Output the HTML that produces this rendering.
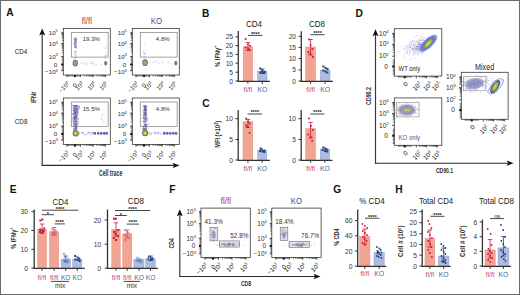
<!DOCTYPE html>
<html><head><meta charset="utf-8"><style>
html,body{margin:0;padding:0;background:#fff;}
body{width:520px;height:295px;overflow:hidden;}
svg{display:block;font-family:"Liberation Sans", sans-serif;}
</style></head><body>
<svg width="520" height="295" viewBox="0 0 520 295">
<rect width="520" height="295" fill="#fff"/>
<rect x="0.50" y="0.50" width="519.00" height="294.00" fill="none" stroke="#6a6a6a" stroke-width="1" />
<text x="6.2" y="15.8" font-size="10.2" text-anchor="start" fill="#111" font-weight="bold" >A</text>
<text x="202" y="16.8" font-size="10.2" text-anchor="start" fill="#111" font-weight="bold" >B</text>
<text x="202.3" y="106.9" font-size="10.2" text-anchor="start" fill="#111" font-weight="bold" >C</text>
<text x="355.6" y="17.3" font-size="10.2" text-anchor="start" fill="#111" font-weight="bold" >D</text>
<text x="9.8" y="192.9" font-size="10.2" text-anchor="start" fill="#111" font-weight="bold" >E</text>
<text x="169.3" y="193.2" font-size="10.2" text-anchor="start" fill="#111" font-weight="bold" >F</text>
<text x="333.3" y="192.6" font-size="10.2" text-anchor="start" fill="#111" font-weight="bold" >G</text>
<text x="395.3" y="192.6" font-size="10.2" text-anchor="start" fill="#111" font-weight="bold" >H</text>
<text x="86.9" y="23.6" font-size="9.2" text-anchor="middle" fill="#c42c44" font-weight="normal" textLength="10.2" lengthAdjust="spacingAndGlyphs">fl/fl</text>
<text x="156.5" y="23.6" font-size="9.0" text-anchor="middle" fill="#2b509a" font-weight="normal" textLength="11.3" lengthAdjust="spacingAndGlyphs">KO</text>
<text x="21.0" y="53.6" font-size="6.3" text-anchor="middle" fill="#222" font-weight="normal" >CD4</text>
<text x="21.1" y="123.6" font-size="6.3" text-anchor="middle" fill="#222" font-weight="normal" >CD8</text>
<text x="36.4" y="97.4" font-size="7" text-anchor="middle" fill="#333" transform="rotate(-90 36.4 97.4)" textLength="11.2" lengthAdjust="spacingAndGlyphs" stroke="#333" stroke-width="0.25">IFNr</text>
<line x1="42.20" y1="165.90" x2="42.20" y2="32.60" stroke="#3a3a3a" stroke-width="1.2"/>
<path d="M39.2,35.6 L42.2,28.6 L45.2,35.6 L42.2,34.0 Z" fill="#111"/>
<line x1="41.80" y1="165.40" x2="175.60" y2="165.40" stroke="#2a2a2a" stroke-width="1.15"/>
<path d="M172.6,162.70000000000002 L179.6,165.4 L172.6,168.1 L174.2,165.4 Z" fill="#111"/>
<text x="110.6" y="175.8" font-size="8.2" text-anchor="middle" fill="#2a2a2a" font-weight="bold" textLength="23.4" lengthAdjust="spacingAndGlyphs">Cell trace</text>
<rect x="63.30" y="28.50" width="47.00" height="46.50" fill="#fff" stroke="none" stroke-width="1" />
<circle cx="75.3" cy="43.6" r="0.55" fill="#8a88c8" fill-opacity="0.5"/>
<circle cx="75.3" cy="46.6" r="0.55" fill="#7c7abc" fill-opacity="0.5"/>
<circle cx="74.6" cy="43.1" r="0.55" fill="#7c7abc" fill-opacity="0.5"/>
<circle cx="74.3" cy="41.0" r="0.55" fill="#6a68b0" fill-opacity="0.5"/>
<circle cx="75.5" cy="46.9" r="0.55" fill="#6a68b0" fill-opacity="0.5"/>
<circle cx="75.6" cy="42.0" r="0.55" fill="#8a88c8" fill-opacity="0.5"/>
<circle cx="75.8" cy="44.2" r="0.55" fill="#7c7abc" fill-opacity="0.5"/>
<circle cx="75.7" cy="46.3" r="0.55" fill="#6a68b0" fill-opacity="0.5"/>
<circle cx="74.3" cy="39.9" r="0.55" fill="#7c7abc" fill-opacity="0.5"/>
<circle cx="75.7" cy="45.8" r="0.55" fill="#5a58a0" fill-opacity="0.5"/>
<circle cx="75.2" cy="46.4" r="0.55" fill="#7c7abc" fill-opacity="0.5"/>
<circle cx="75.8" cy="43.0" r="0.55" fill="#6a68b0" fill-opacity="0.5"/>
<circle cx="75.3" cy="40.8" r="0.55" fill="#6a68b0" fill-opacity="0.5"/>
<circle cx="75.9" cy="41.2" r="0.55" fill="#7c7abc" fill-opacity="0.5"/>
<circle cx="75.4" cy="38.3" r="0.55" fill="#6a68b0" fill-opacity="0.5"/>
<circle cx="75.1" cy="46.5" r="0.55" fill="#8a88c8" fill-opacity="0.5"/>
<circle cx="74.3" cy="38.2" r="0.55" fill="#6a68b0" fill-opacity="0.5"/>
<circle cx="74.7" cy="47.3" r="0.55" fill="#6a68b0" fill-opacity="0.5"/>
<circle cx="75.3" cy="47.8" r="0.55" fill="#8a88c8" fill-opacity="0.5"/>
<circle cx="75.2" cy="43.7" r="0.55" fill="#7c7abc" fill-opacity="0.5"/>
<circle cx="76.1" cy="40.7" r="0.55" fill="#6a68b0" fill-opacity="0.5"/>
<circle cx="74.9" cy="38.2" r="0.55" fill="#8a88c8" fill-opacity="0.5"/>
<circle cx="76.1" cy="39.2" r="0.55" fill="#7c7abc" fill-opacity="0.5"/>
<circle cx="75.9" cy="38.1" r="0.55" fill="#8a88c8" fill-opacity="0.5"/>
<circle cx="76.2" cy="39.8" r="0.55" fill="#7c7abc" fill-opacity="0.5"/>
<circle cx="75.3" cy="39.9" r="0.55" fill="#7c7abc" fill-opacity="0.5"/>
<circle cx="75.2" cy="41.8" r="0.55" fill="#8a88c8" fill-opacity="0.5"/>
<circle cx="75.2" cy="40.1" r="0.55" fill="#5a58a0" fill-opacity="0.5"/>
<circle cx="76.3" cy="47.7" r="0.55" fill="#5a58a0" fill-opacity="0.5"/>
<circle cx="76.7" cy="38.2" r="0.55" fill="#7c7abc" fill-opacity="0.5"/>
<circle cx="75.1" cy="46.5" r="0.55" fill="#6a68b0" fill-opacity="0.5"/>
<circle cx="74.2" cy="39.5" r="0.55" fill="#8a88c8" fill-opacity="0.5"/>
<circle cx="74.8" cy="45.7" r="0.55" fill="#5a58a0" fill-opacity="0.5"/>
<circle cx="76.3" cy="41.9" r="0.55" fill="#6a68b0" fill-opacity="0.5"/>
<circle cx="74.3" cy="43.8" r="0.55" fill="#7c7abc" fill-opacity="0.5"/>
<circle cx="74.1" cy="41.7" r="0.55" fill="#8a88c8" fill-opacity="0.5"/>
<circle cx="74.4" cy="43.9" r="0.55" fill="#7c7abc" fill-opacity="0.5"/>
<circle cx="76.4" cy="39.8" r="0.55" fill="#7c7abc" fill-opacity="0.5"/>
<circle cx="74.9" cy="40.3" r="0.55" fill="#7c7abc" fill-opacity="0.5"/>
<circle cx="76.0" cy="39.6" r="0.55" fill="#7c7abc" fill-opacity="0.5"/>
<circle cx="75.9" cy="41.9" r="0.55" fill="#8a88c8" fill-opacity="0.5"/>
<circle cx="75.7" cy="42.2" r="0.55" fill="#6a68b0" fill-opacity="0.5"/>
<circle cx="74.4" cy="43.1" r="0.55" fill="#5a58a0" fill-opacity="0.5"/>
<circle cx="74.7" cy="45.0" r="0.55" fill="#5a58a0" fill-opacity="0.5"/>
<circle cx="75.2" cy="47.0" r="0.55" fill="#8a88c8" fill-opacity="0.5"/>
<circle cx="74.9" cy="39.8" r="0.55" fill="#6a68b0" fill-opacity="0.5"/>
<circle cx="74.4" cy="42.8" r="0.55" fill="#6a68b0" fill-opacity="0.5"/>
<circle cx="74.8" cy="47.2" r="0.55" fill="#7c7abc" fill-opacity="0.5"/>
<circle cx="76.0" cy="38.7" r="0.55" fill="#8a88c8" fill-opacity="0.5"/>
<circle cx="75.3" cy="38.6" r="0.55" fill="#7c7abc" fill-opacity="0.5"/>
<circle cx="74.8" cy="43.3" r="0.55" fill="#7c7abc" fill-opacity="0.5"/>
<circle cx="74.3" cy="39.4" r="0.55" fill="#8a88c8" fill-opacity="0.5"/>
<circle cx="76.6" cy="44.6" r="0.55" fill="#7c7abc" fill-opacity="0.5"/>
<circle cx="75.6" cy="47.2" r="0.55" fill="#8a88c8" fill-opacity="0.5"/>
<circle cx="76.5" cy="45.0" r="0.55" fill="#6a68b0" fill-opacity="0.5"/>
<circle cx="74.2" cy="44.4" r="0.55" fill="#8a88c8" fill-opacity="0.5"/>
<circle cx="74.3" cy="41.1" r="0.55" fill="#7c7abc" fill-opacity="0.5"/>
<circle cx="76.7" cy="38.8" r="0.55" fill="#5a58a0" fill-opacity="0.5"/>
<circle cx="76.0" cy="47.0" r="0.55" fill="#7c7abc" fill-opacity="0.5"/>
<circle cx="76.2" cy="47.2" r="0.55" fill="#5a58a0" fill-opacity="0.5"/>
<circle cx="74.3" cy="42.7" r="0.55" fill="#6a68b0" fill-opacity="0.5"/>
<circle cx="76.4" cy="42.2" r="0.55" fill="#6a68b0" fill-opacity="0.5"/>
<circle cx="76.3" cy="43.7" r="0.55" fill="#8a88c8" fill-opacity="0.5"/>
<circle cx="75.1" cy="38.1" r="0.55" fill="#6a68b0" fill-opacity="0.5"/>
<circle cx="74.3" cy="44.4" r="0.55" fill="#5a58a0" fill-opacity="0.5"/>
<circle cx="76.4" cy="45.3" r="0.55" fill="#8a88c8" fill-opacity="0.5"/>
<circle cx="76.5" cy="44.9" r="0.55" fill="#8a88c8" fill-opacity="0.5"/>
<circle cx="75.2" cy="46.4" r="0.55" fill="#6a68b0" fill-opacity="0.5"/>
<circle cx="75.4" cy="43.1" r="0.55" fill="#5a58a0" fill-opacity="0.5"/>
<circle cx="75.7" cy="42.8" r="0.55" fill="#7c7abc" fill-opacity="0.5"/>
<circle cx="76.6" cy="39.1" r="0.55" fill="#8a88c8" fill-opacity="0.5"/>
<circle cx="74.8" cy="38.1" r="0.55" fill="#5a58a0" fill-opacity="0.5"/>
<circle cx="74.5" cy="44.1" r="0.55" fill="#7c7abc" fill-opacity="0.5"/>
<circle cx="76.1" cy="41.4" r="0.55" fill="#8a88c8" fill-opacity="0.5"/>
<circle cx="75.4" cy="40.4" r="0.55" fill="#8a88c8" fill-opacity="0.5"/>
<circle cx="75.8" cy="40.0" r="0.55" fill="#8a88c8" fill-opacity="0.5"/>
<circle cx="76.2" cy="45.5" r="0.55" fill="#7c7abc" fill-opacity="0.5"/>
<circle cx="76.4" cy="41.8" r="0.55" fill="#5a58a0" fill-opacity="0.5"/>
<circle cx="74.6" cy="39.3" r="0.55" fill="#5a58a0" fill-opacity="0.5"/>
<circle cx="76.3" cy="46.5" r="0.55" fill="#6a68b0" fill-opacity="0.5"/>
<circle cx="76.4" cy="51.2" r="0.55" fill="#7c7abc" fill-opacity="0.35"/>
<circle cx="74.5" cy="53.4" r="0.55" fill="#7c7abc" fill-opacity="0.35"/>
<circle cx="76.1" cy="52.4" r="0.55" fill="#8a88c8" fill-opacity="0.35"/>
<circle cx="75.8" cy="56.2" r="0.55" fill="#8a88c8" fill-opacity="0.35"/>
<circle cx="75.0" cy="57.5" r="0.55" fill="#5a58a0" fill-opacity="0.35"/>
<circle cx="76.2" cy="48.5" r="0.55" fill="#5a58a0" fill-opacity="0.35"/>
<circle cx="75.6" cy="51.6" r="0.55" fill="#6a68b0" fill-opacity="0.35"/>
<circle cx="75.7" cy="52.7" r="0.55" fill="#7c7abc" fill-opacity="0.35"/>
<circle cx="74.4" cy="57.5" r="0.55" fill="#7c7abc" fill-opacity="0.35"/>
<circle cx="76.0" cy="57.2" r="0.55" fill="#6a68b0" fill-opacity="0.35"/>
<circle cx="75.3" cy="55.2" r="0.55" fill="#5a58a0" fill-opacity="0.35"/>
<circle cx="76.4" cy="55.9" r="0.55" fill="#7c7abc" fill-opacity="0.35"/>
<circle cx="76.1" cy="50.9" r="0.55" fill="#6a68b0" fill-opacity="0.35"/>
<circle cx="76.0" cy="54.2" r="0.55" fill="#6a68b0" fill-opacity="0.35"/>
<circle cx="74.7" cy="51.1" r="0.55" fill="#5a58a0" fill-opacity="0.35"/>
<circle cx="75.5" cy="58.9" r="0.55" fill="#7c7abc" fill-opacity="0.35"/>
<circle cx="75.2" cy="57.1" r="0.55" fill="#7c7abc" fill-opacity="0.35"/>
<circle cx="74.5" cy="58.7" r="0.55" fill="#8a88c8" fill-opacity="0.35"/>
<circle cx="74.6" cy="53.2" r="0.55" fill="#6a68b0" fill-opacity="0.35"/>
<circle cx="75.1" cy="54.5" r="0.55" fill="#5a58a0" fill-opacity="0.35"/>
<circle cx="105.7" cy="54.7" r="0.55" fill="#6b70c0" fill-opacity="0.35"/>
<circle cx="105.0" cy="57.0" r="0.55" fill="#8a8fd0" fill-opacity="0.35"/>
<circle cx="105.2" cy="57.4" r="0.55" fill="#8a8fd0" fill-opacity="0.35"/>
<circle cx="106.8" cy="53.4" r="0.55" fill="#a0a4dc" fill-opacity="0.35"/>
<circle cx="105.3" cy="55.4" r="0.55" fill="#8a8fd0" fill-opacity="0.35"/>
<circle cx="105.5" cy="48.4" r="0.55" fill="#5a60b5" fill-opacity="0.35"/>
<circle cx="105.5" cy="52.1" r="0.55" fill="#a0a4dc" fill-opacity="0.35"/>
<circle cx="105.8" cy="47.8" r="0.55" fill="#8a8fd0" fill-opacity="0.35"/>
<circle cx="105.7" cy="47.9" r="0.55" fill="#7c7fc4" fill-opacity="0.35"/>
<circle cx="105.5" cy="56.2" r="0.55" fill="#6b70c0" fill-opacity="0.35"/>
<circle cx="105.7" cy="58.5" r="0.55" fill="#7c7fc4" fill-opacity="0.35"/>
<circle cx="106.5" cy="55.1" r="0.55" fill="#5a60b5" fill-opacity="0.35"/>
<circle cx="93.2" cy="63.9" r="0.55" fill="#6b70c0" fill-opacity="0.35"/>
<circle cx="89.8" cy="63.5" r="0.55" fill="#7c7fc4" fill-opacity="0.35"/>
<circle cx="94.6" cy="63.3" r="0.55" fill="#7c7fc4" fill-opacity="0.35"/>
<circle cx="85.5" cy="63.8" r="0.55" fill="#7c7fc4" fill-opacity="0.35"/>
<circle cx="84.3" cy="64.5" r="0.55" fill="#7c7fc4" fill-opacity="0.35"/>
<circle cx="91.9" cy="63.5" r="0.55" fill="#6b70c0" fill-opacity="0.35"/>
<circle cx="89.2" cy="61.9" r="0.55" fill="#8a8fd0" fill-opacity="0.35"/>
<circle cx="93.8" cy="61.6" r="0.55" fill="#8a8fd0" fill-opacity="0.35"/>
<circle cx="91.7" cy="62.9" r="0.55" fill="#7c7fc4" fill-opacity="0.35"/>
<circle cx="82.2" cy="61.8" r="0.55" fill="#6b70c0" fill-opacity="0.35"/>
<circle cx="80.9" cy="63.4" r="0.55" fill="#5a60b5" fill-opacity="0.35"/>
<circle cx="101.4" cy="64.3" r="0.55" fill="#5a60b5" fill-opacity="0.35"/>
<circle cx="85.8" cy="63.2" r="0.55" fill="#6b70c0" fill-opacity="0.35"/>
<circle cx="87.5" cy="64.7" r="0.55" fill="#5a60b5" fill-opacity="0.35"/>
<circle cx="91.9" cy="61.9" r="0.55" fill="#5a60b5" fill-opacity="0.35"/>
<circle cx="94.1" cy="64.7" r="0.55" fill="#6b70c0" fill-opacity="0.35"/>
<circle cx="96.2" cy="64.9" r="0.55" fill="#8a8fd0" fill-opacity="0.35"/>
<circle cx="84.0" cy="62.3" r="0.55" fill="#a0a4dc" fill-opacity="0.35"/>
<circle cx="87.0" cy="62.7" r="0.55" fill="#7c7fc4" fill-opacity="0.35"/>
<circle cx="91.3" cy="63.2" r="0.55" fill="#7c7fc4" fill-opacity="0.35"/>
<circle cx="82.2" cy="63.3" r="0.55" fill="#a0a4dc" fill-opacity="0.35"/>
<circle cx="96.5" cy="64.0" r="0.55" fill="#5a60b5" fill-opacity="0.35"/>
<ellipse cx="105.70" cy="63.20" rx="1.50" ry="2.30" fill="#5a5c88" fill-opacity="0.85" stroke="none" stroke-width="0.5" transform="rotate(0 105.70 63.20)"/>
<ellipse cx="75.30" cy="63.10" rx="2.70" ry="3.40" fill="#6e6e78" fill-opacity="1" stroke="none" stroke-width="0.5" transform="rotate(0 75.30 63.10)"/>
<ellipse cx="75.30" cy="63.10" rx="1.90" ry="2.50" fill="#9a9a8a" fill-opacity="1" stroke="none" stroke-width="0.5" transform="rotate(0 75.30 63.10)"/>
<rect x="71.30" y="32.50" width="36.80" height="24.60" fill="none" stroke="#7c7c86" stroke-width="0.7" />
<rect x="63.30" y="28.50" width="47.00" height="46.50" fill="none" stroke="#3a3a3a" stroke-width="0.8" />
<rect x="61.30" y="63.50" width="2.00" height="2.00" fill="#111" stroke="none" stroke-width="1" />
<rect x="74.00" y="75.00" width="2.00" height="2.00" fill="#111" stroke="none" stroke-width="1" />
<line x1="61.10" y1="32.80" x2="63.30" y2="32.80" stroke="#222" stroke-width="0.8"/>
<line x1="61.10" y1="43.60" x2="63.30" y2="43.60" stroke="#222" stroke-width="0.8"/>
<line x1="61.10" y1="56.70" x2="63.30" y2="56.70" stroke="#222" stroke-width="0.8"/>
<line x1="61.10" y1="64.50" x2="63.30" y2="64.50" stroke="#222" stroke-width="0.8"/>
<line x1="61.10" y1="70.60" x2="63.30" y2="70.60" stroke="#222" stroke-width="0.8"/>
<line x1="61.80" y1="52.76" x2="63.30" y2="52.76" stroke="#222" stroke-width="0.6"/>
<line x1="61.80" y1="50.45" x2="63.30" y2="50.45" stroke="#222" stroke-width="0.6"/>
<line x1="61.80" y1="48.81" x2="63.30" y2="48.81" stroke="#222" stroke-width="0.6"/>
<line x1="61.80" y1="47.54" x2="63.30" y2="47.54" stroke="#222" stroke-width="0.6"/>
<line x1="61.80" y1="46.51" x2="63.30" y2="46.51" stroke="#222" stroke-width="0.6"/>
<line x1="61.80" y1="45.63" x2="63.30" y2="45.63" stroke="#222" stroke-width="0.6"/>
<line x1="61.80" y1="44.87" x2="63.30" y2="44.87" stroke="#222" stroke-width="0.6"/>
<line x1="61.80" y1="44.20" x2="63.30" y2="44.20" stroke="#222" stroke-width="0.6"/>
<line x1="61.80" y1="40.35" x2="63.30" y2="40.35" stroke="#222" stroke-width="0.6"/>
<line x1="61.80" y1="38.45" x2="63.30" y2="38.45" stroke="#222" stroke-width="0.6"/>
<line x1="61.80" y1="37.10" x2="63.30" y2="37.10" stroke="#222" stroke-width="0.6"/>
<line x1="61.80" y1="36.05" x2="63.30" y2="36.05" stroke="#222" stroke-width="0.6"/>
<line x1="61.80" y1="35.20" x2="63.30" y2="35.20" stroke="#222" stroke-width="0.6"/>
<line x1="61.80" y1="34.47" x2="63.30" y2="34.47" stroke="#222" stroke-width="0.6"/>
<line x1="61.80" y1="33.85" x2="63.30" y2="33.85" stroke="#222" stroke-width="0.6"/>
<line x1="61.80" y1="33.29" x2="63.30" y2="33.29" stroke="#222" stroke-width="0.6"/>
<line x1="61.80" y1="56.70" x2="63.30" y2="56.70" stroke="#222" stroke-width="0.6"/>
<line x1="61.80" y1="58.00" x2="63.30" y2="58.00" stroke="#222" stroke-width="0.6"/>
<line x1="61.80" y1="59.30" x2="63.30" y2="59.30" stroke="#222" stroke-width="0.6"/>
<line x1="61.80" y1="60.60" x2="63.30" y2="60.60" stroke="#222" stroke-width="0.6"/>
<line x1="61.80" y1="61.90" x2="63.30" y2="61.90" stroke="#222" stroke-width="0.6"/>
<line x1="61.80" y1="63.20" x2="63.30" y2="63.20" stroke="#222" stroke-width="0.6"/>
<line x1="61.80" y1="64.50" x2="63.30" y2="64.50" stroke="#222" stroke-width="0.6"/>
<line x1="61.80" y1="65.80" x2="63.30" y2="65.80" stroke="#222" stroke-width="0.6"/>
<line x1="61.80" y1="67.10" x2="63.30" y2="67.10" stroke="#222" stroke-width="0.6"/>
<line x1="61.80" y1="68.40" x2="63.30" y2="68.40" stroke="#222" stroke-width="0.6"/>
<line x1="61.80" y1="69.70" x2="63.30" y2="69.70" stroke="#222" stroke-width="0.6"/>
<line x1="67.00" y1="75.00" x2="67.00" y2="77.20" stroke="#222" stroke-width="0.8"/>
<line x1="75.00" y1="75.00" x2="75.00" y2="77.20" stroke="#222" stroke-width="0.8"/>
<line x1="80.30" y1="75.00" x2="80.30" y2="77.20" stroke="#222" stroke-width="0.8"/>
<line x1="93.30" y1="75.00" x2="93.30" y2="77.20" stroke="#222" stroke-width="0.8"/>
<line x1="105.30" y1="75.00" x2="105.30" y2="77.20" stroke="#222" stroke-width="0.8"/>
<line x1="84.21" y1="75.00" x2="84.21" y2="76.50" stroke="#222" stroke-width="0.6"/>
<line x1="86.50" y1="75.00" x2="86.50" y2="76.50" stroke="#222" stroke-width="0.6"/>
<line x1="88.13" y1="75.00" x2="88.13" y2="76.50" stroke="#222" stroke-width="0.6"/>
<line x1="89.39" y1="75.00" x2="89.39" y2="76.50" stroke="#222" stroke-width="0.6"/>
<line x1="90.42" y1="75.00" x2="90.42" y2="76.50" stroke="#222" stroke-width="0.6"/>
<line x1="91.29" y1="75.00" x2="91.29" y2="76.50" stroke="#222" stroke-width="0.6"/>
<line x1="92.04" y1="75.00" x2="92.04" y2="76.50" stroke="#222" stroke-width="0.6"/>
<line x1="92.71" y1="75.00" x2="92.71" y2="76.50" stroke="#222" stroke-width="0.6"/>
<line x1="96.91" y1="75.00" x2="96.91" y2="76.50" stroke="#222" stroke-width="0.6"/>
<line x1="99.03" y1="75.00" x2="99.03" y2="76.50" stroke="#222" stroke-width="0.6"/>
<line x1="100.52" y1="75.00" x2="100.52" y2="76.50" stroke="#222" stroke-width="0.6"/>
<line x1="101.69" y1="75.00" x2="101.69" y2="76.50" stroke="#222" stroke-width="0.6"/>
<line x1="102.64" y1="75.00" x2="102.64" y2="76.50" stroke="#222" stroke-width="0.6"/>
<line x1="103.44" y1="75.00" x2="103.44" y2="76.50" stroke="#222" stroke-width="0.6"/>
<line x1="104.14" y1="75.00" x2="104.14" y2="76.50" stroke="#222" stroke-width="0.6"/>
<line x1="104.75" y1="75.00" x2="104.75" y2="76.50" stroke="#222" stroke-width="0.6"/>
<line x1="67.20" y1="75.00" x2="67.20" y2="76.50" stroke="#222" stroke-width="0.6"/>
<line x1="68.50" y1="75.00" x2="68.50" y2="76.50" stroke="#222" stroke-width="0.6"/>
<line x1="69.80" y1="75.00" x2="69.80" y2="76.50" stroke="#222" stroke-width="0.6"/>
<line x1="71.10" y1="75.00" x2="71.10" y2="76.50" stroke="#222" stroke-width="0.6"/>
<line x1="72.40" y1="75.00" x2="72.40" y2="76.50" stroke="#222" stroke-width="0.6"/>
<line x1="73.70" y1="75.00" x2="73.70" y2="76.50" stroke="#222" stroke-width="0.6"/>
<line x1="75.00" y1="75.00" x2="75.00" y2="76.50" stroke="#222" stroke-width="0.6"/>
<line x1="76.30" y1="75.00" x2="76.30" y2="76.50" stroke="#222" stroke-width="0.6"/>
<line x1="77.60" y1="75.00" x2="77.60" y2="76.50" stroke="#222" stroke-width="0.6"/>
<line x1="78.90" y1="75.00" x2="78.90" y2="76.50" stroke="#222" stroke-width="0.6"/>
<line x1="80.20" y1="75.00" x2="80.20" y2="76.50" stroke="#222" stroke-width="0.6"/>
<text x="91.3" y="41.1" font-size="6.1" text-anchor="middle" fill="#333" font-weight="normal" >19.3%</text>
<text x="57.90" y="34.50" font-size="6.2" text-anchor="end" fill="#2a2a2a">10<tspan font-size="4.09" dy="-2.36">5</tspan></text>
<text x="57.90" y="46.40" font-size="6.2" text-anchor="end" fill="#2a2a2a">10<tspan font-size="4.09" dy="-2.36">4</tspan></text>
<text x="57.90" y="58.70" font-size="6.2" text-anchor="end" fill="#2a2a2a">10<tspan font-size="4.09" dy="-2.36">3</tspan></text>
<text x="57.1" y="66.69999999999999" font-size="6.2" text-anchor="end" fill="#2a2a2a" font-weight="normal" >0</text>
<text x="57.90" y="74.20" font-size="6.2" text-anchor="end" fill="#2a2a2a">&#8722;10<tspan font-size="4.09" dy="-2.36">3</tspan></text>
<text x="70.10" y="84.20" font-size="6.2" text-anchor="end" fill="#2a2a2a" transform="rotate(-45 70.1 84.2)">&#8722;10<tspan font-size="4.09" dy="-2.36">3</tspan></text>
<text x="77.60" y="85.80" font-size="6.2" text-anchor="end" fill="#2a2a2a" transform="rotate(-45 77.60 85.80)">0</text>
<text x="84.30" y="84.20" font-size="6.2" text-anchor="end" fill="#2a2a2a" transform="rotate(-45 84.3 84.2)">10<tspan font-size="4.09" dy="-2.36">3</tspan></text>
<text x="96.40" y="84.20" font-size="6.2" text-anchor="end" fill="#2a2a2a" transform="rotate(-45 96.39999999999999 84.2)">10<tspan font-size="4.09" dy="-2.36">4</tspan></text>
<text x="108.40" y="84.20" font-size="6.2" text-anchor="end" fill="#2a2a2a" transform="rotate(-45 108.39999999999999 84.2)">10<tspan font-size="4.09" dy="-2.36">5</tspan></text>
<rect x="132.30" y="28.50" width="47.00" height="46.50" fill="#fff" stroke="none" stroke-width="1" />
<circle cx="143.4" cy="52.5" r="0.55" fill="#7c7abc" fill-opacity="0.35"/>
<circle cx="144.6" cy="56.9" r="0.55" fill="#7c7abc" fill-opacity="0.35"/>
<circle cx="144.6" cy="56.7" r="0.55" fill="#7c7abc" fill-opacity="0.35"/>
<circle cx="143.9" cy="54.6" r="0.55" fill="#5a58a0" fill-opacity="0.35"/>
<circle cx="145.6" cy="46.5" r="0.55" fill="#5a58a0" fill-opacity="0.35"/>
<circle cx="145.5" cy="44.2" r="0.55" fill="#7c7abc" fill-opacity="0.35"/>
<circle cx="145.5" cy="43.0" r="0.55" fill="#7c7abc" fill-opacity="0.35"/>
<circle cx="143.6" cy="42.2" r="0.55" fill="#8a88c8" fill-opacity="0.35"/>
<circle cx="143.5" cy="56.3" r="0.55" fill="#8a88c8" fill-opacity="0.35"/>
<circle cx="144.7" cy="53.9" r="0.55" fill="#7c7abc" fill-opacity="0.35"/>
<circle cx="144.3" cy="53.5" r="0.55" fill="#6a68b0" fill-opacity="0.35"/>
<circle cx="143.5" cy="51.3" r="0.55" fill="#5a58a0" fill-opacity="0.35"/>
<circle cx="145.6" cy="58.9" r="0.55" fill="#6a68b0" fill-opacity="0.35"/>
<circle cx="145.1" cy="52.6" r="0.55" fill="#5a58a0" fill-opacity="0.35"/>
<circle cx="144.6" cy="53.5" r="0.55" fill="#7c7abc" fill-opacity="0.35"/>
<circle cx="145.3" cy="49.7" r="0.55" fill="#6a68b0" fill-opacity="0.35"/>
<circle cx="149.2" cy="63.4" r="0.55" fill="#7c7fc4" fill-opacity="0.3"/>
<circle cx="170.0" cy="63.2" r="0.55" fill="#6b70c0" fill-opacity="0.3"/>
<circle cx="152.7" cy="62.2" r="0.55" fill="#6b70c0" fill-opacity="0.3"/>
<circle cx="172.1" cy="64.7" r="0.55" fill="#8a8fd0" fill-opacity="0.3"/>
<circle cx="162.2" cy="62.0" r="0.55" fill="#5a60b5" fill-opacity="0.3"/>
<circle cx="150.2" cy="61.8" r="0.55" fill="#5a60b5" fill-opacity="0.3"/>
<circle cx="159.5" cy="63.3" r="0.55" fill="#5a60b5" fill-opacity="0.3"/>
<circle cx="153.3" cy="62.8" r="0.55" fill="#8a8fd0" fill-opacity="0.3"/>
<circle cx="168.6" cy="62.1" r="0.55" fill="#5a60b5" fill-opacity="0.3"/>
<circle cx="156.9" cy="62.8" r="0.55" fill="#6b70c0" fill-opacity="0.3"/>
<circle cx="162.8" cy="61.8" r="0.55" fill="#8a8fd0" fill-opacity="0.3"/>
<circle cx="156.1" cy="61.8" r="0.55" fill="#5a60b5" fill-opacity="0.3"/>
<circle cx="162.0" cy="62.2" r="0.55" fill="#7c7fc4" fill-opacity="0.3"/>
<circle cx="171.9" cy="64.3" r="0.55" fill="#a0a4dc" fill-opacity="0.3"/>
<circle cx="155.0" cy="61.9" r="0.55" fill="#6b70c0" fill-opacity="0.3"/>
<circle cx="167.9" cy="62.9" r="0.55" fill="#a0a4dc" fill-opacity="0.3"/>
<ellipse cx="175.80" cy="63.20" rx="1.50" ry="2.40" fill="#5a5c88" fill-opacity="0.85" stroke="none" stroke-width="0.5" transform="rotate(0 175.80 63.20)"/>
<ellipse cx="145.10" cy="62.70" rx="2.80" ry="3.40" fill="#6e6e70" fill-opacity="1" stroke="none" stroke-width="0.5" transform="rotate(0 145.10 62.70)"/>
<ellipse cx="145.10" cy="62.70" rx="2.00" ry="2.50" fill="#a4a47a" fill-opacity="1" stroke="none" stroke-width="0.5" transform="rotate(0 145.10 62.70)"/>
<rect x="140.30" y="32.50" width="36.80" height="24.60" fill="none" stroke="#7c7c86" stroke-width="0.7" />
<rect x="132.30" y="28.50" width="47.00" height="46.50" fill="none" stroke="#3a3a3a" stroke-width="0.8" />
<rect x="130.30" y="63.50" width="2.00" height="2.00" fill="#111" stroke="none" stroke-width="1" />
<rect x="143.00" y="75.00" width="2.00" height="2.00" fill="#111" stroke="none" stroke-width="1" />
<line x1="130.10" y1="32.80" x2="132.30" y2="32.80" stroke="#222" stroke-width="0.8"/>
<line x1="130.10" y1="43.60" x2="132.30" y2="43.60" stroke="#222" stroke-width="0.8"/>
<line x1="130.10" y1="56.70" x2="132.30" y2="56.70" stroke="#222" stroke-width="0.8"/>
<line x1="130.10" y1="64.50" x2="132.30" y2="64.50" stroke="#222" stroke-width="0.8"/>
<line x1="130.10" y1="70.60" x2="132.30" y2="70.60" stroke="#222" stroke-width="0.8"/>
<line x1="130.80" y1="52.76" x2="132.30" y2="52.76" stroke="#222" stroke-width="0.6"/>
<line x1="130.80" y1="50.45" x2="132.30" y2="50.45" stroke="#222" stroke-width="0.6"/>
<line x1="130.80" y1="48.81" x2="132.30" y2="48.81" stroke="#222" stroke-width="0.6"/>
<line x1="130.80" y1="47.54" x2="132.30" y2="47.54" stroke="#222" stroke-width="0.6"/>
<line x1="130.80" y1="46.51" x2="132.30" y2="46.51" stroke="#222" stroke-width="0.6"/>
<line x1="130.80" y1="45.63" x2="132.30" y2="45.63" stroke="#222" stroke-width="0.6"/>
<line x1="130.80" y1="44.87" x2="132.30" y2="44.87" stroke="#222" stroke-width="0.6"/>
<line x1="130.80" y1="44.20" x2="132.30" y2="44.20" stroke="#222" stroke-width="0.6"/>
<line x1="130.80" y1="40.35" x2="132.30" y2="40.35" stroke="#222" stroke-width="0.6"/>
<line x1="130.80" y1="38.45" x2="132.30" y2="38.45" stroke="#222" stroke-width="0.6"/>
<line x1="130.80" y1="37.10" x2="132.30" y2="37.10" stroke="#222" stroke-width="0.6"/>
<line x1="130.80" y1="36.05" x2="132.30" y2="36.05" stroke="#222" stroke-width="0.6"/>
<line x1="130.80" y1="35.20" x2="132.30" y2="35.20" stroke="#222" stroke-width="0.6"/>
<line x1="130.80" y1="34.47" x2="132.30" y2="34.47" stroke="#222" stroke-width="0.6"/>
<line x1="130.80" y1="33.85" x2="132.30" y2="33.85" stroke="#222" stroke-width="0.6"/>
<line x1="130.80" y1="33.29" x2="132.30" y2="33.29" stroke="#222" stroke-width="0.6"/>
<line x1="130.80" y1="56.70" x2="132.30" y2="56.70" stroke="#222" stroke-width="0.6"/>
<line x1="130.80" y1="58.00" x2="132.30" y2="58.00" stroke="#222" stroke-width="0.6"/>
<line x1="130.80" y1="59.30" x2="132.30" y2="59.30" stroke="#222" stroke-width="0.6"/>
<line x1="130.80" y1="60.60" x2="132.30" y2="60.60" stroke="#222" stroke-width="0.6"/>
<line x1="130.80" y1="61.90" x2="132.30" y2="61.90" stroke="#222" stroke-width="0.6"/>
<line x1="130.80" y1="63.20" x2="132.30" y2="63.20" stroke="#222" stroke-width="0.6"/>
<line x1="130.80" y1="64.50" x2="132.30" y2="64.50" stroke="#222" stroke-width="0.6"/>
<line x1="130.80" y1="65.80" x2="132.30" y2="65.80" stroke="#222" stroke-width="0.6"/>
<line x1="130.80" y1="67.10" x2="132.30" y2="67.10" stroke="#222" stroke-width="0.6"/>
<line x1="130.80" y1="68.40" x2="132.30" y2="68.40" stroke="#222" stroke-width="0.6"/>
<line x1="130.80" y1="69.70" x2="132.30" y2="69.70" stroke="#222" stroke-width="0.6"/>
<line x1="136.00" y1="75.00" x2="136.00" y2="77.20" stroke="#222" stroke-width="0.8"/>
<line x1="144.00" y1="75.00" x2="144.00" y2="77.20" stroke="#222" stroke-width="0.8"/>
<line x1="149.30" y1="75.00" x2="149.30" y2="77.20" stroke="#222" stroke-width="0.8"/>
<line x1="162.30" y1="75.00" x2="162.30" y2="77.20" stroke="#222" stroke-width="0.8"/>
<line x1="174.30" y1="75.00" x2="174.30" y2="77.20" stroke="#222" stroke-width="0.8"/>
<line x1="153.21" y1="75.00" x2="153.21" y2="76.50" stroke="#222" stroke-width="0.6"/>
<line x1="155.50" y1="75.00" x2="155.50" y2="76.50" stroke="#222" stroke-width="0.6"/>
<line x1="157.13" y1="75.00" x2="157.13" y2="76.50" stroke="#222" stroke-width="0.6"/>
<line x1="158.39" y1="75.00" x2="158.39" y2="76.50" stroke="#222" stroke-width="0.6"/>
<line x1="159.42" y1="75.00" x2="159.42" y2="76.50" stroke="#222" stroke-width="0.6"/>
<line x1="160.29" y1="75.00" x2="160.29" y2="76.50" stroke="#222" stroke-width="0.6"/>
<line x1="161.04" y1="75.00" x2="161.04" y2="76.50" stroke="#222" stroke-width="0.6"/>
<line x1="161.71" y1="75.00" x2="161.71" y2="76.50" stroke="#222" stroke-width="0.6"/>
<line x1="165.91" y1="75.00" x2="165.91" y2="76.50" stroke="#222" stroke-width="0.6"/>
<line x1="168.03" y1="75.00" x2="168.03" y2="76.50" stroke="#222" stroke-width="0.6"/>
<line x1="169.52" y1="75.00" x2="169.52" y2="76.50" stroke="#222" stroke-width="0.6"/>
<line x1="170.69" y1="75.00" x2="170.69" y2="76.50" stroke="#222" stroke-width="0.6"/>
<line x1="171.64" y1="75.00" x2="171.64" y2="76.50" stroke="#222" stroke-width="0.6"/>
<line x1="172.44" y1="75.00" x2="172.44" y2="76.50" stroke="#222" stroke-width="0.6"/>
<line x1="173.14" y1="75.00" x2="173.14" y2="76.50" stroke="#222" stroke-width="0.6"/>
<line x1="173.75" y1="75.00" x2="173.75" y2="76.50" stroke="#222" stroke-width="0.6"/>
<line x1="136.20" y1="75.00" x2="136.20" y2="76.50" stroke="#222" stroke-width="0.6"/>
<line x1="137.50" y1="75.00" x2="137.50" y2="76.50" stroke="#222" stroke-width="0.6"/>
<line x1="138.80" y1="75.00" x2="138.80" y2="76.50" stroke="#222" stroke-width="0.6"/>
<line x1="140.10" y1="75.00" x2="140.10" y2="76.50" stroke="#222" stroke-width="0.6"/>
<line x1="141.40" y1="75.00" x2="141.40" y2="76.50" stroke="#222" stroke-width="0.6"/>
<line x1="142.70" y1="75.00" x2="142.70" y2="76.50" stroke="#222" stroke-width="0.6"/>
<line x1="144.00" y1="75.00" x2="144.00" y2="76.50" stroke="#222" stroke-width="0.6"/>
<line x1="145.30" y1="75.00" x2="145.30" y2="76.50" stroke="#222" stroke-width="0.6"/>
<line x1="146.60" y1="75.00" x2="146.60" y2="76.50" stroke="#222" stroke-width="0.6"/>
<line x1="147.90" y1="75.00" x2="147.90" y2="76.50" stroke="#222" stroke-width="0.6"/>
<line x1="149.20" y1="75.00" x2="149.20" y2="76.50" stroke="#222" stroke-width="0.6"/>
<text x="162.8" y="41.1" font-size="6.1" text-anchor="middle" fill="#333" font-weight="normal" >4.8%</text>
<text x="126.90" y="34.50" font-size="6.2" text-anchor="end" fill="#2a2a2a">10<tspan font-size="4.09" dy="-2.36">5</tspan></text>
<text x="126.90" y="46.40" font-size="6.2" text-anchor="end" fill="#2a2a2a">10<tspan font-size="4.09" dy="-2.36">4</tspan></text>
<text x="126.90" y="58.70" font-size="6.2" text-anchor="end" fill="#2a2a2a">10<tspan font-size="4.09" dy="-2.36">3</tspan></text>
<text x="126.10000000000001" y="66.69999999999999" font-size="6.2" text-anchor="end" fill="#2a2a2a" font-weight="normal" >0</text>
<text x="126.90" y="74.20" font-size="6.2" text-anchor="end" fill="#2a2a2a">&#8722;10<tspan font-size="4.09" dy="-2.36">3</tspan></text>
<text x="139.10" y="84.20" font-size="6.2" text-anchor="end" fill="#2a2a2a" transform="rotate(-45 139.1 84.2)">&#8722;10<tspan font-size="4.09" dy="-2.36">3</tspan></text>
<text x="146.60" y="85.80" font-size="6.2" text-anchor="end" fill="#2a2a2a" transform="rotate(-45 146.60 85.80)">0</text>
<text x="153.30" y="84.20" font-size="6.2" text-anchor="end" fill="#2a2a2a" transform="rotate(-45 153.3 84.2)">10<tspan font-size="4.09" dy="-2.36">3</tspan></text>
<text x="165.40" y="84.20" font-size="6.2" text-anchor="end" fill="#2a2a2a" transform="rotate(-45 165.4 84.2)">10<tspan font-size="4.09" dy="-2.36">4</tspan></text>
<text x="177.40" y="84.20" font-size="6.2" text-anchor="end" fill="#2a2a2a" transform="rotate(-45 177.4 84.2)">10<tspan font-size="4.09" dy="-2.36">5</tspan></text>
<rect x="63.30" y="98.00" width="47.00" height="46.50" fill="#fff" stroke="none" stroke-width="1" />
<circle cx="74.9" cy="126.2" r="0.7" fill="#7c7abc" fill-opacity="0.5"/>
<circle cx="73.4" cy="113.1" r="0.7" fill="#7c7abc" fill-opacity="0.5"/>
<circle cx="74.6" cy="106.3" r="0.7" fill="#6a68b0" fill-opacity="0.5"/>
<circle cx="76.4" cy="126.5" r="0.7" fill="#6a68b0" fill-opacity="0.5"/>
<circle cx="77.5" cy="109.2" r="0.7" fill="#5a58a0" fill-opacity="0.5"/>
<circle cx="74.8" cy="108.8" r="0.7" fill="#8a88c8" fill-opacity="0.5"/>
<circle cx="74.3" cy="117.3" r="0.7" fill="#8a88c8" fill-opacity="0.5"/>
<circle cx="75.3" cy="119.3" r="0.7" fill="#6a68b0" fill-opacity="0.5"/>
<circle cx="75.7" cy="122.7" r="0.7" fill="#6a68b0" fill-opacity="0.5"/>
<circle cx="75.5" cy="122.0" r="0.7" fill="#5a58a0" fill-opacity="0.5"/>
<circle cx="73.3" cy="114.0" r="0.7" fill="#8a88c8" fill-opacity="0.5"/>
<circle cx="75.4" cy="105.6" r="0.7" fill="#5a58a0" fill-opacity="0.5"/>
<circle cx="77.0" cy="109.6" r="0.7" fill="#8a88c8" fill-opacity="0.5"/>
<circle cx="74.8" cy="129.0" r="0.7" fill="#6a68b0" fill-opacity="0.5"/>
<circle cx="75.7" cy="119.2" r="0.7" fill="#6a68b0" fill-opacity="0.5"/>
<circle cx="75.0" cy="112.6" r="0.7" fill="#7c7abc" fill-opacity="0.5"/>
<circle cx="78.1" cy="112.6" r="0.7" fill="#6a68b0" fill-opacity="0.5"/>
<circle cx="75.0" cy="113.7" r="0.7" fill="#8a88c8" fill-opacity="0.5"/>
<circle cx="73.8" cy="113.4" r="0.7" fill="#5a58a0" fill-opacity="0.5"/>
<circle cx="75.2" cy="116.2" r="0.7" fill="#8a88c8" fill-opacity="0.5"/>
<circle cx="74.6" cy="119.6" r="0.7" fill="#5a58a0" fill-opacity="0.5"/>
<circle cx="75.0" cy="105.7" r="0.7" fill="#7c7abc" fill-opacity="0.5"/>
<circle cx="74.7" cy="117.7" r="0.7" fill="#8a88c8" fill-opacity="0.5"/>
<circle cx="74.4" cy="106.0" r="0.7" fill="#5a58a0" fill-opacity="0.5"/>
<circle cx="78.6" cy="122.3" r="0.7" fill="#5a58a0" fill-opacity="0.5"/>
<circle cx="76.9" cy="106.3" r="0.7" fill="#7c7abc" fill-opacity="0.5"/>
<circle cx="72.0" cy="113.7" r="0.7" fill="#7c7abc" fill-opacity="0.5"/>
<circle cx="76.1" cy="105.9" r="0.7" fill="#6a68b0" fill-opacity="0.5"/>
<circle cx="75.3" cy="128.0" r="0.7" fill="#7c7abc" fill-opacity="0.5"/>
<circle cx="74.2" cy="118.2" r="0.7" fill="#6a68b0" fill-opacity="0.5"/>
<circle cx="74.9" cy="106.0" r="0.7" fill="#6a68b0" fill-opacity="0.5"/>
<circle cx="75.8" cy="111.9" r="0.7" fill="#7c7abc" fill-opacity="0.5"/>
<circle cx="73.5" cy="107.1" r="0.7" fill="#8a88c8" fill-opacity="0.5"/>
<circle cx="76.1" cy="118.1" r="0.7" fill="#8a88c8" fill-opacity="0.5"/>
<circle cx="75.4" cy="112.1" r="0.7" fill="#7c7abc" fill-opacity="0.5"/>
<circle cx="73.8" cy="128.5" r="0.7" fill="#7c7abc" fill-opacity="0.5"/>
<circle cx="77.7" cy="109.3" r="0.7" fill="#5a58a0" fill-opacity="0.5"/>
<circle cx="77.4" cy="110.1" r="0.7" fill="#7c7abc" fill-opacity="0.5"/>
<circle cx="75.5" cy="119.0" r="0.7" fill="#7c7abc" fill-opacity="0.5"/>
<circle cx="74.7" cy="115.5" r="0.7" fill="#7c7abc" fill-opacity="0.5"/>
<circle cx="75.8" cy="126.2" r="0.7" fill="#5a58a0" fill-opacity="0.5"/>
<circle cx="75.6" cy="109.7" r="0.7" fill="#6a68b0" fill-opacity="0.5"/>
<circle cx="76.7" cy="118.8" r="0.7" fill="#6a68b0" fill-opacity="0.5"/>
<circle cx="76.3" cy="122.5" r="0.7" fill="#7c7abc" fill-opacity="0.5"/>
<circle cx="74.7" cy="116.8" r="0.7" fill="#8a88c8" fill-opacity="0.5"/>
<circle cx="74.5" cy="111.9" r="0.7" fill="#5a58a0" fill-opacity="0.5"/>
<circle cx="75.4" cy="111.6" r="0.7" fill="#6a68b0" fill-opacity="0.5"/>
<circle cx="73.5" cy="123.9" r="0.7" fill="#8a88c8" fill-opacity="0.5"/>
<circle cx="74.2" cy="124.1" r="0.7" fill="#7c7abc" fill-opacity="0.5"/>
<circle cx="74.0" cy="114.0" r="0.7" fill="#5a58a0" fill-opacity="0.5"/>
<circle cx="75.9" cy="112.7" r="0.7" fill="#5a58a0" fill-opacity="0.5"/>
<circle cx="76.1" cy="110.4" r="0.7" fill="#7c7abc" fill-opacity="0.5"/>
<circle cx="75.1" cy="113.6" r="0.7" fill="#5a58a0" fill-opacity="0.5"/>
<circle cx="76.0" cy="106.4" r="0.7" fill="#6a68b0" fill-opacity="0.5"/>
<circle cx="73.3" cy="113.7" r="0.7" fill="#8a88c8" fill-opacity="0.5"/>
<circle cx="74.5" cy="110.6" r="0.7" fill="#6a68b0" fill-opacity="0.5"/>
<circle cx="76.0" cy="106.4" r="0.7" fill="#6a68b0" fill-opacity="0.5"/>
<circle cx="77.1" cy="120.8" r="0.7" fill="#8a88c8" fill-opacity="0.5"/>
<circle cx="75.2" cy="121.6" r="0.7" fill="#7c7abc" fill-opacity="0.5"/>
<circle cx="74.4" cy="108.9" r="0.7" fill="#5a58a0" fill-opacity="0.5"/>
<circle cx="77.1" cy="112.1" r="0.7" fill="#5a58a0" fill-opacity="0.5"/>
<circle cx="76.9" cy="113.9" r="0.7" fill="#5a58a0" fill-opacity="0.5"/>
<circle cx="76.1" cy="114.4" r="0.7" fill="#7c7abc" fill-opacity="0.5"/>
<circle cx="79.3" cy="106.5" r="0.7" fill="#5a58a0" fill-opacity="0.5"/>
<circle cx="74.6" cy="105.7" r="0.7" fill="#7c7abc" fill-opacity="0.5"/>
<circle cx="74.2" cy="122.0" r="0.7" fill="#5a58a0" fill-opacity="0.5"/>
<circle cx="73.6" cy="123.7" r="0.7" fill="#7c7abc" fill-opacity="0.5"/>
<circle cx="74.8" cy="108.1" r="0.7" fill="#8a88c8" fill-opacity="0.5"/>
<circle cx="75.5" cy="126.3" r="0.7" fill="#6a68b0" fill-opacity="0.5"/>
<circle cx="75.8" cy="116.6" r="0.7" fill="#5a58a0" fill-opacity="0.5"/>
<circle cx="74.5" cy="128.9" r="0.7" fill="#6a68b0" fill-opacity="0.5"/>
<circle cx="73.7" cy="117.6" r="0.7" fill="#5a58a0" fill-opacity="0.5"/>
<circle cx="75.9" cy="123.5" r="0.7" fill="#6a68b0" fill-opacity="0.5"/>
<circle cx="75.7" cy="126.8" r="0.7" fill="#6a68b0" fill-opacity="0.5"/>
<circle cx="75.1" cy="105.7" r="0.7" fill="#8a88c8" fill-opacity="0.5"/>
<circle cx="75.0" cy="109.4" r="0.7" fill="#7c7abc" fill-opacity="0.5"/>
<circle cx="76.5" cy="115.2" r="0.7" fill="#8a88c8" fill-opacity="0.5"/>
<circle cx="74.8" cy="112.8" r="0.7" fill="#5a58a0" fill-opacity="0.5"/>
<circle cx="75.2" cy="124.0" r="0.7" fill="#8a88c8" fill-opacity="0.5"/>
<circle cx="76.1" cy="116.4" r="0.7" fill="#6a68b0" fill-opacity="0.5"/>
<circle cx="76.5" cy="121.1" r="0.7" fill="#5a58a0" fill-opacity="0.5"/>
<circle cx="75.0" cy="125.4" r="0.7" fill="#8a88c8" fill-opacity="0.5"/>
<circle cx="77.5" cy="124.8" r="0.7" fill="#6a68b0" fill-opacity="0.5"/>
<circle cx="73.5" cy="116.1" r="0.7" fill="#6a68b0" fill-opacity="0.5"/>
<circle cx="74.5" cy="123.9" r="0.7" fill="#7c7abc" fill-opacity="0.5"/>
<circle cx="76.2" cy="109.5" r="0.7" fill="#7c7abc" fill-opacity="0.5"/>
<circle cx="75.1" cy="129.7" r="0.7" fill="#7c7abc" fill-opacity="0.5"/>
<circle cx="76.1" cy="112.7" r="0.7" fill="#5a58a0" fill-opacity="0.5"/>
<circle cx="76.7" cy="110.1" r="0.7" fill="#6a68b0" fill-opacity="0.5"/>
<circle cx="74.5" cy="110.7" r="0.7" fill="#7c7abc" fill-opacity="0.5"/>
<circle cx="75.7" cy="123.1" r="0.7" fill="#8a88c8" fill-opacity="0.5"/>
<circle cx="76.0" cy="105.6" r="0.7" fill="#8a88c8" fill-opacity="0.5"/>
<circle cx="76.0" cy="127.2" r="0.7" fill="#7c7abc" fill-opacity="0.5"/>
<circle cx="75.6" cy="112.0" r="0.7" fill="#7c7abc" fill-opacity="0.5"/>
<circle cx="74.1" cy="118.1" r="0.7" fill="#8a88c8" fill-opacity="0.5"/>
<circle cx="75.8" cy="108.2" r="0.7" fill="#5a58a0" fill-opacity="0.5"/>
<circle cx="78.1" cy="113.0" r="0.7" fill="#8a88c8" fill-opacity="0.5"/>
<circle cx="74.2" cy="125.4" r="0.7" fill="#8a88c8" fill-opacity="0.5"/>
<circle cx="76.3" cy="126.5" r="0.7" fill="#6a68b0" fill-opacity="0.5"/>
<circle cx="74.9" cy="115.0" r="0.7" fill="#7c7abc" fill-opacity="0.5"/>
<circle cx="75.6" cy="112.9" r="0.7" fill="#8a88c8" fill-opacity="0.5"/>
<circle cx="76.0" cy="129.2" r="0.7" fill="#5a58a0" fill-opacity="0.5"/>
<circle cx="77.8" cy="123.5" r="0.7" fill="#6a68b0" fill-opacity="0.5"/>
<circle cx="76.3" cy="126.1" r="0.7" fill="#5a58a0" fill-opacity="0.5"/>
<circle cx="75.5" cy="114.2" r="0.7" fill="#7c7abc" fill-opacity="0.5"/>
<circle cx="76.9" cy="113.3" r="0.7" fill="#5a58a0" fill-opacity="0.5"/>
<circle cx="77.7" cy="107.5" r="0.7" fill="#7c7abc" fill-opacity="0.5"/>
<circle cx="74.3" cy="119.1" r="0.7" fill="#5a58a0" fill-opacity="0.5"/>
<circle cx="77.0" cy="115.9" r="0.7" fill="#7c7abc" fill-opacity="0.5"/>
<circle cx="76.1" cy="105.5" r="0.7" fill="#7c7abc" fill-opacity="0.5"/>
<circle cx="76.2" cy="124.5" r="0.7" fill="#6a68b0" fill-opacity="0.5"/>
<circle cx="75.9" cy="126.5" r="0.7" fill="#8a88c8" fill-opacity="0.5"/>
<circle cx="75.5" cy="106.5" r="0.7" fill="#5a58a0" fill-opacity="0.5"/>
<circle cx="73.6" cy="105.6" r="0.7" fill="#7c7abc" fill-opacity="0.5"/>
<circle cx="76.0" cy="113.4" r="0.7" fill="#8a88c8" fill-opacity="0.5"/>
<circle cx="75.2" cy="108.7" r="0.7" fill="#8a88c8" fill-opacity="0.5"/>
<circle cx="76.8" cy="116.1" r="0.7" fill="#5a58a0" fill-opacity="0.5"/>
<circle cx="77.7" cy="111.0" r="0.7" fill="#8a88c8" fill-opacity="0.5"/>
<circle cx="74.9" cy="106.4" r="0.7" fill="#6a68b0" fill-opacity="0.5"/>
<circle cx="76.9" cy="112.0" r="0.7" fill="#7c7abc" fill-opacity="0.5"/>
<circle cx="74.2" cy="106.8" r="0.7" fill="#6a68b0" fill-opacity="0.5"/>
<circle cx="76.3" cy="119.6" r="0.7" fill="#6a68b0" fill-opacity="0.5"/>
<circle cx="75.2" cy="125.7" r="0.7" fill="#5a58a0" fill-opacity="0.5"/>
<circle cx="74.2" cy="117.1" r="0.7" fill="#8a88c8" fill-opacity="0.5"/>
<circle cx="76.8" cy="123.0" r="0.7" fill="#7c7abc" fill-opacity="0.5"/>
<circle cx="74.0" cy="126.9" r="0.7" fill="#7c7abc" fill-opacity="0.5"/>
<circle cx="74.3" cy="110.4" r="0.7" fill="#5a58a0" fill-opacity="0.5"/>
<circle cx="76.3" cy="128.5" r="0.7" fill="#8a88c8" fill-opacity="0.5"/>
<circle cx="76.2" cy="116.9" r="0.7" fill="#8a88c8" fill-opacity="0.5"/>
<circle cx="75.9" cy="121.8" r="0.7" fill="#5a58a0" fill-opacity="0.5"/>
<circle cx="75.3" cy="110.8" r="0.7" fill="#5a58a0" fill-opacity="0.5"/>
<circle cx="76.9" cy="114.1" r="0.7" fill="#8a88c8" fill-opacity="0.5"/>
<circle cx="75.9" cy="106.6" r="0.7" fill="#7c7abc" fill-opacity="0.5"/>
<circle cx="76.0" cy="108.1" r="0.7" fill="#8a88c8" fill-opacity="0.5"/>
<circle cx="73.2" cy="105.8" r="0.7" fill="#6a68b0" fill-opacity="0.5"/>
<circle cx="76.0" cy="109.1" r="0.7" fill="#7c7abc" fill-opacity="0.5"/>
<circle cx="74.1" cy="129.6" r="0.7" fill="#5a58a0" fill-opacity="0.5"/>
<circle cx="76.2" cy="127.5" r="0.7" fill="#8a88c8" fill-opacity="0.5"/>
<circle cx="75.9" cy="127.7" r="0.7" fill="#7c7abc" fill-opacity="0.5"/>
<circle cx="76.0" cy="124.5" r="0.7" fill="#8a88c8" fill-opacity="0.5"/>
<circle cx="77.1" cy="115.0" r="0.7" fill="#8a88c8" fill-opacity="0.5"/>
<circle cx="74.7" cy="118.5" r="0.7" fill="#5a58a0" fill-opacity="0.5"/>
<circle cx="75.8" cy="129.4" r="0.7" fill="#6a68b0" fill-opacity="0.5"/>
<circle cx="73.5" cy="109.8" r="0.7" fill="#7c7abc" fill-opacity="0.5"/>
<circle cx="75.1" cy="111.6" r="0.7" fill="#8a88c8" fill-opacity="0.5"/>
<circle cx="75.0" cy="108.6" r="0.7" fill="#5a58a0" fill-opacity="0.5"/>
<circle cx="76.2" cy="123.5" r="0.7" fill="#7c7abc" fill-opacity="0.5"/>
<circle cx="73.8" cy="109.6" r="0.7" fill="#5a58a0" fill-opacity="0.5"/>
<circle cx="74.6" cy="116.7" r="0.7" fill="#7c7abc" fill-opacity="0.5"/>
<circle cx="76.6" cy="117.4" r="0.7" fill="#7c7abc" fill-opacity="0.5"/>
<circle cx="74.1" cy="129.6" r="0.7" fill="#7c7abc" fill-opacity="0.5"/>
<circle cx="75.3" cy="117.2" r="0.7" fill="#6a68b0" fill-opacity="0.5"/>
<circle cx="75.7" cy="118.9" r="0.7" fill="#7c7abc" fill-opacity="0.5"/>
<circle cx="76.0" cy="114.9" r="0.7" fill="#8a88c8" fill-opacity="0.5"/>
<circle cx="74.3" cy="120.8" r="0.7" fill="#5a58a0" fill-opacity="0.5"/>
<circle cx="78.3" cy="109.9" r="0.7" fill="#6a68b0" fill-opacity="0.5"/>
<circle cx="75.4" cy="114.2" r="0.7" fill="#6a68b0" fill-opacity="0.5"/>
<circle cx="74.6" cy="117.0" r="0.7" fill="#5a58a0" fill-opacity="0.5"/>
<circle cx="75.4" cy="107.9" r="0.7" fill="#5a58a0" fill-opacity="0.5"/>
<circle cx="73.0" cy="118.2" r="0.7" fill="#6a68b0" fill-opacity="0.5"/>
<circle cx="76.9" cy="127.9" r="0.7" fill="#5a58a0" fill-opacity="0.5"/>
<circle cx="75.6" cy="109.4" r="0.7" fill="#5a58a0" fill-opacity="0.5"/>
<circle cx="76.0" cy="124.8" r="0.7" fill="#6a68b0" fill-opacity="0.5"/>
<circle cx="77.0" cy="114.3" r="0.7" fill="#8a88c8" fill-opacity="0.5"/>
<circle cx="78.9" cy="108.1" r="0.7" fill="#7c7abc" fill-opacity="0.5"/>
<circle cx="75.2" cy="110.8" r="0.7" fill="#8a88c8" fill-opacity="0.5"/>
<circle cx="74.2" cy="118.5" r="0.7" fill="#7c7abc" fill-opacity="0.5"/>
<circle cx="73.6" cy="108.5" r="0.7" fill="#8a88c8" fill-opacity="0.5"/>
<circle cx="74.8" cy="105.8" r="0.7" fill="#8a88c8" fill-opacity="0.5"/>
<circle cx="75.4" cy="108.0" r="0.7" fill="#7c7abc" fill-opacity="0.5"/>
<circle cx="74.4" cy="109.8" r="0.7" fill="#6a68b0" fill-opacity="0.5"/>
<circle cx="75.1" cy="121.5" r="0.7" fill="#7c7abc" fill-opacity="0.5"/>
<circle cx="74.9" cy="113.0" r="0.7" fill="#5a58a0" fill-opacity="0.5"/>
<circle cx="75.5" cy="113.2" r="0.7" fill="#8a88c8" fill-opacity="0.5"/>
<circle cx="72.0" cy="122.4" r="0.7" fill="#8a88c8" fill-opacity="0.5"/>
<circle cx="75.8" cy="124.6" r="0.7" fill="#6a68b0" fill-opacity="0.5"/>
<circle cx="76.7" cy="117.2" r="0.7" fill="#8a88c8" fill-opacity="0.5"/>
<circle cx="74.6" cy="113.4" r="0.7" fill="#6a68b0" fill-opacity="0.5"/>
<circle cx="77.6" cy="111.1" r="0.7" fill="#8a88c8" fill-opacity="0.5"/>
<circle cx="76.1" cy="121.8" r="0.7" fill="#5a58a0" fill-opacity="0.5"/>
<circle cx="75.0" cy="122.4" r="0.7" fill="#6a68b0" fill-opacity="0.5"/>
<circle cx="77.3" cy="109.4" r="0.7" fill="#8a88c8" fill-opacity="0.5"/>
<circle cx="78.1" cy="109.4" r="0.7" fill="#8a88c8" fill-opacity="0.5"/>
<circle cx="73.3" cy="120.8" r="0.7" fill="#7c7abc" fill-opacity="0.5"/>
<circle cx="73.9" cy="116.6" r="0.7" fill="#6a68b0" fill-opacity="0.5"/>
<circle cx="73.7" cy="130.0" r="0.7" fill="#5a58a0" fill-opacity="0.5"/>
<circle cx="73.9" cy="125.8" r="0.7" fill="#7c7abc" fill-opacity="0.5"/>
<circle cx="76.5" cy="119.5" r="0.7" fill="#8a88c8" fill-opacity="0.5"/>
<circle cx="76.0" cy="117.2" r="0.7" fill="#7c7abc" fill-opacity="0.5"/>
<circle cx="75.1" cy="107.1" r="0.7" fill="#8a88c8" fill-opacity="0.5"/>
<circle cx="75.5" cy="105.5" r="0.7" fill="#5a58a0" fill-opacity="0.5"/>
<circle cx="76.7" cy="108.0" r="0.7" fill="#8a88c8" fill-opacity="0.5"/>
<circle cx="75.9" cy="126.7" r="0.7" fill="#5a58a0" fill-opacity="0.5"/>
<circle cx="74.5" cy="120.7" r="0.7" fill="#7c7abc" fill-opacity="0.5"/>
<circle cx="78.6" cy="105.9" r="0.7" fill="#5a58a0" fill-opacity="0.5"/>
<circle cx="76.1" cy="111.2" r="0.7" fill="#7c7abc" fill-opacity="0.5"/>
<circle cx="76.6" cy="127.9" r="0.7" fill="#7c7abc" fill-opacity="0.5"/>
<circle cx="75.3" cy="108.6" r="0.7" fill="#6a68b0" fill-opacity="0.5"/>
<circle cx="76.2" cy="108.4" r="0.7" fill="#8a88c8" fill-opacity="0.5"/>
<circle cx="74.3" cy="105.6" r="0.7" fill="#7c7abc" fill-opacity="0.5"/>
<circle cx="75.8" cy="116.3" r="0.7" fill="#6a68b0" fill-opacity="0.5"/>
<circle cx="78.3" cy="119.5" r="0.7" fill="#5a58a0" fill-opacity="0.5"/>
<circle cx="74.6" cy="121.7" r="0.7" fill="#8a88c8" fill-opacity="0.5"/>
<circle cx="77.7" cy="121.3" r="0.7" fill="#7c7abc" fill-opacity="0.5"/>
<circle cx="77.8" cy="111.4" r="0.7" fill="#8a88c8" fill-opacity="0.5"/>
<circle cx="74.8" cy="106.4" r="0.7" fill="#7c7abc" fill-opacity="0.5"/>
<circle cx="76.6" cy="125.7" r="0.7" fill="#5a58a0" fill-opacity="0.5"/>
<circle cx="77.0" cy="108.2" r="0.7" fill="#7c7abc" fill-opacity="0.5"/>
<circle cx="75.2" cy="115.5" r="0.7" fill="#6a68b0" fill-opacity="0.5"/>
<circle cx="76.4" cy="117.8" r="0.7" fill="#7c7abc" fill-opacity="0.5"/>
<circle cx="76.0" cy="129.3" r="0.7" fill="#7c7abc" fill-opacity="0.5"/>
<circle cx="75.0" cy="110.1" r="0.7" fill="#6a68b0" fill-opacity="0.5"/>
<circle cx="78.0" cy="114.5" r="0.7" fill="#6a68b0" fill-opacity="0.5"/>
<circle cx="76.8" cy="116.3" r="0.7" fill="#6a68b0" fill-opacity="0.5"/>
<circle cx="73.9" cy="105.5" r="0.7" fill="#8a88c8" fill-opacity="0.5"/>
<circle cx="74.8" cy="123.9" r="0.7" fill="#6a68b0" fill-opacity="0.5"/>
<circle cx="76.4" cy="107.8" r="0.7" fill="#7c7abc" fill-opacity="0.5"/>
<circle cx="75.4" cy="110.2" r="0.7" fill="#6a68b0" fill-opacity="0.5"/>
<circle cx="78.9" cy="108.3" r="0.7" fill="#6a68b0" fill-opacity="0.5"/>
<circle cx="73.4" cy="118.7" r="0.7" fill="#8a88c8" fill-opacity="0.5"/>
<circle cx="75.9" cy="105.5" r="0.7" fill="#6a68b0" fill-opacity="0.5"/>
<circle cx="75.2" cy="116.9" r="0.7" fill="#5a58a0" fill-opacity="0.5"/>
<circle cx="75.2" cy="111.1" r="0.7" fill="#5a58a0" fill-opacity="0.5"/>
<circle cx="75.5" cy="115.6" r="0.7" fill="#7c7abc" fill-opacity="0.5"/>
<circle cx="75.6" cy="117.9" r="0.7" fill="#8a88c8" fill-opacity="0.5"/>
<circle cx="74.8" cy="109.2" r="0.7" fill="#8a88c8" fill-opacity="0.5"/>
<circle cx="75.4" cy="116.7" r="0.7" fill="#7c7abc" fill-opacity="0.5"/>
<circle cx="77.7" cy="109.7" r="0.7" fill="#7c7abc" fill-opacity="0.5"/>
<circle cx="74.9" cy="125.4" r="0.7" fill="#7c7abc" fill-opacity="0.5"/>
<circle cx="74.9" cy="118.0" r="0.7" fill="#6a68b0" fill-opacity="0.5"/>
<circle cx="76.0" cy="117.4" r="0.7" fill="#7c7abc" fill-opacity="0.5"/>
<circle cx="75.0" cy="118.3" r="0.7" fill="#8a88c8" fill-opacity="0.5"/>
<circle cx="73.8" cy="124.0" r="0.7" fill="#6a68b0" fill-opacity="0.5"/>
<circle cx="75.4" cy="106.3" r="0.7" fill="#7c7abc" fill-opacity="0.5"/>
<circle cx="73.4" cy="117.3" r="0.7" fill="#7c7abc" fill-opacity="0.5"/>
<circle cx="74.9" cy="118.7" r="0.7" fill="#6a68b0" fill-opacity="0.5"/>
<circle cx="76.6" cy="110.9" r="0.7" fill="#5a58a0" fill-opacity="0.5"/>
<circle cx="75.7" cy="122.8" r="0.7" fill="#8a88c8" fill-opacity="0.5"/>
<circle cx="75.9" cy="106.5" r="0.7" fill="#5a58a0" fill-opacity="0.5"/>
<circle cx="74.7" cy="109.5" r="0.7" fill="#8a88c8" fill-opacity="0.5"/>
<circle cx="76.5" cy="120.6" r="0.7" fill="#6a68b0" fill-opacity="0.5"/>
<circle cx="73.4" cy="111.0" r="0.7" fill="#8a88c8" fill-opacity="0.5"/>
<circle cx="76.2" cy="112.1" r="0.7" fill="#6a68b0" fill-opacity="0.5"/>
<circle cx="79.3" cy="107.2" r="0.7" fill="#7c7abc" fill-opacity="0.5"/>
<circle cx="73.2" cy="107.5" r="0.7" fill="#6a68b0" fill-opacity="0.5"/>
<circle cx="76.2" cy="105.5" r="0.7" fill="#8a88c8" fill-opacity="0.5"/>
<circle cx="76.1" cy="126.6" r="0.7" fill="#5a58a0" fill-opacity="0.5"/>
<circle cx="76.5" cy="114.7" r="0.7" fill="#6a68b0" fill-opacity="0.5"/>
<circle cx="74.9" cy="129.1" r="0.7" fill="#7c7abc" fill-opacity="0.5"/>
<circle cx="73.5" cy="110.5" r="0.7" fill="#6a68b0" fill-opacity="0.5"/>
<circle cx="75.6" cy="116.8" r="0.7" fill="#7c7abc" fill-opacity="0.5"/>
<circle cx="77.0" cy="112.1" r="0.7" fill="#5a58a0" fill-opacity="0.5"/>
<circle cx="76.1" cy="128.3" r="0.7" fill="#7c7abc" fill-opacity="0.5"/>
<circle cx="75.1" cy="113.0" r="0.7" fill="#6a68b0" fill-opacity="0.5"/>
<circle cx="73.3" cy="122.0" r="0.7" fill="#7c7abc" fill-opacity="0.5"/>
<circle cx="74.3" cy="114.5" r="0.7" fill="#8a88c8" fill-opacity="0.5"/>
<circle cx="75.7" cy="128.0" r="0.7" fill="#6a68b0" fill-opacity="0.5"/>
<circle cx="76.8" cy="108.8" r="0.7" fill="#5a58a0" fill-opacity="0.5"/>
<circle cx="76.2" cy="109.5" r="0.7" fill="#8a88c8" fill-opacity="0.5"/>
<circle cx="73.0" cy="108.6" r="0.7" fill="#7c7abc" fill-opacity="0.5"/>
<circle cx="75.6" cy="117.9" r="0.7" fill="#8a88c8" fill-opacity="0.5"/>
<circle cx="74.5" cy="129.8" r="0.7" fill="#7c7abc" fill-opacity="0.5"/>
<circle cx="75.8" cy="125.7" r="0.7" fill="#6a68b0" fill-opacity="0.5"/>
<circle cx="76.9" cy="106.0" r="0.7" fill="#5a58a0" fill-opacity="0.5"/>
<circle cx="75.5" cy="112.1" r="0.7" fill="#7c7abc" fill-opacity="0.5"/>
<circle cx="75.7" cy="122.1" r="0.7" fill="#8a88c8" fill-opacity="0.5"/>
<circle cx="75.0" cy="117.2" r="0.7" fill="#6a68b0" fill-opacity="0.5"/>
<circle cx="74.7" cy="112.0" r="0.7" fill="#7c7abc" fill-opacity="0.5"/>
<circle cx="75.6" cy="121.7" r="0.7" fill="#7c7abc" fill-opacity="0.5"/>
<circle cx="74.9" cy="121.6" r="0.7" fill="#6a68b0" fill-opacity="0.5"/>
<circle cx="74.9" cy="105.7" r="0.7" fill="#6a68b0" fill-opacity="0.5"/>
<circle cx="76.4" cy="125.5" r="0.7" fill="#8a88c8" fill-opacity="0.5"/>
<circle cx="75.7" cy="111.2" r="0.7" fill="#6a68b0" fill-opacity="0.5"/>
<circle cx="73.9" cy="110.7" r="0.7" fill="#7c7abc" fill-opacity="0.5"/>
<circle cx="76.1" cy="115.2" r="0.7" fill="#7c7abc" fill-opacity="0.5"/>
<circle cx="77.2" cy="105.8" r="0.7" fill="#5a58a0" fill-opacity="0.5"/>
<circle cx="73.5" cy="113.2" r="0.7" fill="#5a58a0" fill-opacity="0.5"/>
<circle cx="75.8" cy="110.9" r="0.7" fill="#8a88c8" fill-opacity="0.5"/>
<circle cx="76.0" cy="119.9" r="0.7" fill="#5a58a0" fill-opacity="0.5"/>
<circle cx="76.2" cy="116.4" r="0.7" fill="#8a88c8" fill-opacity="0.5"/>
<circle cx="73.5" cy="113.1" r="0.7" fill="#7c7abc" fill-opacity="0.5"/>
<circle cx="77.4" cy="106.8" r="0.7" fill="#5a58a0" fill-opacity="0.5"/>
<circle cx="75.6" cy="111.6" r="0.7" fill="#6a68b0" fill-opacity="0.5"/>
<circle cx="75.8" cy="122.3" r="0.7" fill="#8a88c8" fill-opacity="0.5"/>
<circle cx="76.7" cy="117.2" r="0.7" fill="#5a58a0" fill-opacity="0.5"/>
<circle cx="72.6" cy="119.8" r="0.7" fill="#6a68b0" fill-opacity="0.5"/>
<circle cx="75.8" cy="127.5" r="0.7" fill="#6a68b0" fill-opacity="0.5"/>
<circle cx="76.9" cy="128.6" r="0.7" fill="#5a58a0" fill-opacity="0.5"/>
<circle cx="75.1" cy="109.2" r="0.7" fill="#8a88c8" fill-opacity="0.5"/>
<circle cx="75.0" cy="107.1" r="0.7" fill="#8a88c8" fill-opacity="0.5"/>
<circle cx="74.5" cy="106.1" r="0.7" fill="#8a88c8" fill-opacity="0.5"/>
<circle cx="76.2" cy="121.0" r="0.7" fill="#7c7abc" fill-opacity="0.5"/>
<circle cx="74.2" cy="107.7" r="0.7" fill="#7c7abc" fill-opacity="0.5"/>
<circle cx="76.4" cy="111.8" r="0.7" fill="#7c7abc" fill-opacity="0.5"/>
<circle cx="75.4" cy="116.0" r="0.7" fill="#7c7abc" fill-opacity="0.5"/>
<circle cx="72.7" cy="114.9" r="0.7" fill="#5a58a0" fill-opacity="0.5"/>
<circle cx="73.9" cy="120.9" r="0.7" fill="#6a68b0" fill-opacity="0.5"/>
<circle cx="75.0" cy="126.9" r="0.7" fill="#6a68b0" fill-opacity="0.5"/>
<circle cx="76.8" cy="112.1" r="0.7" fill="#6a68b0" fill-opacity="0.5"/>
<circle cx="76.0" cy="112.4" r="0.7" fill="#5a58a0" fill-opacity="0.5"/>
<circle cx="75.1" cy="114.7" r="0.7" fill="#6a68b0" fill-opacity="0.5"/>
<circle cx="76.5" cy="105.8" r="0.7" fill="#5a58a0" fill-opacity="0.5"/>
<circle cx="74.8" cy="126.6" r="0.7" fill="#7c7abc" fill-opacity="0.5"/>
<circle cx="75.1" cy="119.3" r="0.7" fill="#8a88c8" fill-opacity="0.5"/>
<circle cx="76.6" cy="118.5" r="0.7" fill="#7c7abc" fill-opacity="0.5"/>
<circle cx="75.2" cy="123.0" r="0.7" fill="#6a68b0" fill-opacity="0.5"/>
<circle cx="74.5" cy="118.7" r="0.7" fill="#5a58a0" fill-opacity="0.5"/>
<circle cx="76.3" cy="106.2" r="0.7" fill="#8a88c8" fill-opacity="0.5"/>
<circle cx="73.9" cy="126.2" r="0.7" fill="#6a68b0" fill-opacity="0.5"/>
<circle cx="77.1" cy="123.9" r="0.7" fill="#5a58a0" fill-opacity="0.5"/>
<circle cx="73.1" cy="110.8" r="0.7" fill="#7c7abc" fill-opacity="0.5"/>
<circle cx="78.0" cy="118.3" r="0.7" fill="#5a58a0" fill-opacity="0.5"/>
<circle cx="75.1" cy="109.1" r="0.7" fill="#6a68b0" fill-opacity="0.5"/>
<circle cx="74.9" cy="127.7" r="0.7" fill="#8a88c8" fill-opacity="0.5"/>
<circle cx="72.7" cy="105.5" r="0.7" fill="#6a68b0" fill-opacity="0.5"/>
<circle cx="74.8" cy="118.8" r="0.7" fill="#5a58a0" fill-opacity="0.5"/>
<circle cx="75.7" cy="109.8" r="0.7" fill="#7c7abc" fill-opacity="0.5"/>
<circle cx="75.6" cy="120.8" r="0.7" fill="#7c7abc" fill-opacity="0.5"/>
<circle cx="75.7" cy="128.9" r="0.7" fill="#8a88c8" fill-opacity="0.5"/>
<circle cx="74.9" cy="124.0" r="0.7" fill="#5a58a0" fill-opacity="0.5"/>
<circle cx="102.4" cy="115.4" r="0.55" fill="#7c7fc4" fill-opacity="0.3"/>
<circle cx="102.8" cy="119.8" r="0.55" fill="#a0a4dc" fill-opacity="0.3"/>
<circle cx="102.3" cy="114.1" r="0.55" fill="#7c7fc4" fill-opacity="0.3"/>
<circle cx="103.5" cy="122.5" r="0.55" fill="#8a8fd0" fill-opacity="0.3"/>
<circle cx="103.8" cy="122.6" r="0.55" fill="#a0a4dc" fill-opacity="0.3"/>
<circle cx="101.6" cy="117.4" r="0.55" fill="#5a60b5" fill-opacity="0.3"/>
<circle cx="101.4" cy="119.5" r="0.55" fill="#5a60b5" fill-opacity="0.3"/>
<circle cx="103.9" cy="112.6" r="0.55" fill="#a0a4dc" fill-opacity="0.3"/>
<circle cx="102.5" cy="120.9" r="0.55" fill="#5a60b5" fill-opacity="0.3"/>
<circle cx="102.1" cy="119.6" r="0.55" fill="#a0a4dc" fill-opacity="0.3"/>
<circle cx="90.5" cy="132.9" r="0.55" fill="#a0a4dc" fill-opacity="0.45"/>
<circle cx="92.9" cy="132.6" r="0.55" fill="#7c7fc4" fill-opacity="0.45"/>
<circle cx="92.4" cy="133.6" r="0.55" fill="#5a60b5" fill-opacity="0.45"/>
<circle cx="89.2" cy="132.4" r="0.55" fill="#a0a4dc" fill-opacity="0.45"/>
<circle cx="91.9" cy="132.4" r="0.55" fill="#5a60b5" fill-opacity="0.45"/>
<circle cx="88.9" cy="132.8" r="0.55" fill="#6b70c0" fill-opacity="0.45"/>
<circle cx="94.9" cy="133.3" r="0.55" fill="#6b70c0" fill-opacity="0.45"/>
<circle cx="82.9" cy="132.8" r="0.55" fill="#a0a4dc" fill-opacity="0.45"/>
<circle cx="89.0" cy="133.1" r="0.55" fill="#6b70c0" fill-opacity="0.45"/>
<circle cx="79.1" cy="134.0" r="0.55" fill="#8a8fd0" fill-opacity="0.45"/>
<circle cx="93.1" cy="132.5" r="0.55" fill="#a0a4dc" fill-opacity="0.45"/>
<circle cx="90.7" cy="134.8" r="0.55" fill="#8a8fd0" fill-opacity="0.45"/>
<circle cx="85.2" cy="134.5" r="0.55" fill="#7c7fc4" fill-opacity="0.45"/>
<circle cx="92.8" cy="132.5" r="0.55" fill="#8a8fd0" fill-opacity="0.45"/>
<circle cx="83.6" cy="134.2" r="0.55" fill="#a0a4dc" fill-opacity="0.45"/>
<circle cx="82.1" cy="134.0" r="0.55" fill="#5a60b5" fill-opacity="0.45"/>
<circle cx="91.3" cy="134.7" r="0.55" fill="#5a60b5" fill-opacity="0.45"/>
<circle cx="89.8" cy="132.6" r="0.55" fill="#a0a4dc" fill-opacity="0.45"/>
<circle cx="91.9" cy="132.4" r="0.55" fill="#6b70c0" fill-opacity="0.45"/>
<circle cx="92.5" cy="133.6" r="0.55" fill="#a0a4dc" fill-opacity="0.45"/>
<circle cx="93.3" cy="133.2" r="0.55" fill="#6b70c0" fill-opacity="0.45"/>
<circle cx="83.8" cy="132.1" r="0.55" fill="#7c7fc4" fill-opacity="0.45"/>
<circle cx="88.0" cy="132.8" r="0.55" fill="#5a60b5" fill-opacity="0.45"/>
<circle cx="83.0" cy="132.6" r="0.55" fill="#5a60b5" fill-opacity="0.45"/>
<circle cx="81.7" cy="133.5" r="0.55" fill="#7c7fc4" fill-opacity="0.45"/>
<circle cx="79.2" cy="132.2" r="0.55" fill="#a0a4dc" fill-opacity="0.45"/>
<circle cx="89.7" cy="132.0" r="0.55" fill="#a0a4dc" fill-opacity="0.45"/>
<circle cx="86.5" cy="134.8" r="0.55" fill="#6b70c0" fill-opacity="0.45"/>
<circle cx="95.2" cy="133.1" r="0.55" fill="#8a8fd0" fill-opacity="0.45"/>
<circle cx="85.3" cy="134.3" r="0.55" fill="#5a60b5" fill-opacity="0.45"/>
<circle cx="87.8" cy="132.6" r="0.55" fill="#7c7fc4" fill-opacity="0.45"/>
<circle cx="89.5" cy="133.7" r="0.55" fill="#a0a4dc" fill-opacity="0.45"/>
<circle cx="81.5" cy="132.8" r="0.55" fill="#6b70c0" fill-opacity="0.45"/>
<circle cx="95.2" cy="133.2" r="0.55" fill="#8a8fd0" fill-opacity="0.45"/>
<circle cx="81.3" cy="132.1" r="0.55" fill="#6b70c0" fill-opacity="0.45"/>
<circle cx="87.5" cy="133.9" r="0.55" fill="#a0a4dc" fill-opacity="0.45"/>
<circle cx="84.4" cy="134.1" r="0.55" fill="#a0a4dc" fill-opacity="0.45"/>
<circle cx="79.4" cy="133.3" r="0.55" fill="#6b70c0" fill-opacity="0.45"/>
<circle cx="79.4" cy="133.0" r="0.55" fill="#7c7fc4" fill-opacity="0.45"/>
<circle cx="82.8" cy="132.7" r="0.55" fill="#5a60b5" fill-opacity="0.45"/>
<ellipse cx="94.80" cy="133.30" rx="1.30" ry="1.50" fill="#4e52a0" fill-opacity="0.9" stroke="none" stroke-width="0.5" transform="rotate(0 94.80 133.30)"/>
<ellipse cx="98.30" cy="133.30" rx="1.30" ry="1.50" fill="#4e52a0" fill-opacity="0.9" stroke="none" stroke-width="0.5" transform="rotate(0 98.30 133.30)"/>
<ellipse cx="101.30" cy="133.30" rx="1.30" ry="1.50" fill="#4e52a0" fill-opacity="0.9" stroke="none" stroke-width="0.5" transform="rotate(0 101.30 133.30)"/>
<ellipse cx="104.30" cy="133.30" rx="1.30" ry="1.50" fill="#4e52a0" fill-opacity="0.9" stroke="none" stroke-width="0.5" transform="rotate(0 104.30 133.30)"/>
<ellipse cx="106.80" cy="133.30" rx="1.30" ry="1.50" fill="#4e52a0" fill-opacity="0.9" stroke="none" stroke-width="0.5" transform="rotate(0 106.80 133.30)"/>
<ellipse cx="75.70" cy="133.20" rx="3.00" ry="3.30" fill="#56704a" fill-opacity="1" stroke="none" stroke-width="0.5" transform="rotate(0 75.70 133.20)"/>
<ellipse cx="75.70" cy="133.20" rx="2.30" ry="2.50" fill="#98b850" fill-opacity="1" stroke="none" stroke-width="0.5" transform="rotate(0 75.70 133.20)"/>
<ellipse cx="75.70" cy="133.20" rx="1.10" ry="1.20" fill="#e0d848" fill-opacity="1" stroke="none" stroke-width="0.5" transform="rotate(0 75.70 133.20)"/>
<rect x="71.30" y="102.00" width="36.80" height="24.60" fill="none" stroke="#7c7c86" stroke-width="0.7" />
<rect x="63.30" y="98.00" width="47.00" height="46.50" fill="none" stroke="#3a3a3a" stroke-width="0.8" />
<rect x="61.30" y="133.00" width="2.00" height="2.00" fill="#111" stroke="none" stroke-width="1" />
<rect x="74.00" y="144.50" width="2.00" height="2.00" fill="#111" stroke="none" stroke-width="1" />
<line x1="61.10" y1="102.30" x2="63.30" y2="102.30" stroke="#222" stroke-width="0.8"/>
<line x1="61.10" y1="113.10" x2="63.30" y2="113.10" stroke="#222" stroke-width="0.8"/>
<line x1="61.10" y1="126.20" x2="63.30" y2="126.20" stroke="#222" stroke-width="0.8"/>
<line x1="61.10" y1="134.00" x2="63.30" y2="134.00" stroke="#222" stroke-width="0.8"/>
<line x1="61.10" y1="140.10" x2="63.30" y2="140.10" stroke="#222" stroke-width="0.8"/>
<line x1="61.80" y1="122.26" x2="63.30" y2="122.26" stroke="#222" stroke-width="0.6"/>
<line x1="61.80" y1="119.95" x2="63.30" y2="119.95" stroke="#222" stroke-width="0.6"/>
<line x1="61.80" y1="118.31" x2="63.30" y2="118.31" stroke="#222" stroke-width="0.6"/>
<line x1="61.80" y1="117.04" x2="63.30" y2="117.04" stroke="#222" stroke-width="0.6"/>
<line x1="61.80" y1="116.01" x2="63.30" y2="116.01" stroke="#222" stroke-width="0.6"/>
<line x1="61.80" y1="115.13" x2="63.30" y2="115.13" stroke="#222" stroke-width="0.6"/>
<line x1="61.80" y1="114.37" x2="63.30" y2="114.37" stroke="#222" stroke-width="0.6"/>
<line x1="61.80" y1="113.70" x2="63.30" y2="113.70" stroke="#222" stroke-width="0.6"/>
<line x1="61.80" y1="109.85" x2="63.30" y2="109.85" stroke="#222" stroke-width="0.6"/>
<line x1="61.80" y1="107.95" x2="63.30" y2="107.95" stroke="#222" stroke-width="0.6"/>
<line x1="61.80" y1="106.60" x2="63.30" y2="106.60" stroke="#222" stroke-width="0.6"/>
<line x1="61.80" y1="105.55" x2="63.30" y2="105.55" stroke="#222" stroke-width="0.6"/>
<line x1="61.80" y1="104.70" x2="63.30" y2="104.70" stroke="#222" stroke-width="0.6"/>
<line x1="61.80" y1="103.97" x2="63.30" y2="103.97" stroke="#222" stroke-width="0.6"/>
<line x1="61.80" y1="103.35" x2="63.30" y2="103.35" stroke="#222" stroke-width="0.6"/>
<line x1="61.80" y1="102.79" x2="63.30" y2="102.79" stroke="#222" stroke-width="0.6"/>
<line x1="61.80" y1="126.20" x2="63.30" y2="126.20" stroke="#222" stroke-width="0.6"/>
<line x1="61.80" y1="127.50" x2="63.30" y2="127.50" stroke="#222" stroke-width="0.6"/>
<line x1="61.80" y1="128.80" x2="63.30" y2="128.80" stroke="#222" stroke-width="0.6"/>
<line x1="61.80" y1="130.10" x2="63.30" y2="130.10" stroke="#222" stroke-width="0.6"/>
<line x1="61.80" y1="131.40" x2="63.30" y2="131.40" stroke="#222" stroke-width="0.6"/>
<line x1="61.80" y1="132.70" x2="63.30" y2="132.70" stroke="#222" stroke-width="0.6"/>
<line x1="61.80" y1="134.00" x2="63.30" y2="134.00" stroke="#222" stroke-width="0.6"/>
<line x1="61.80" y1="135.30" x2="63.30" y2="135.30" stroke="#222" stroke-width="0.6"/>
<line x1="61.80" y1="136.60" x2="63.30" y2="136.60" stroke="#222" stroke-width="0.6"/>
<line x1="61.80" y1="137.90" x2="63.30" y2="137.90" stroke="#222" stroke-width="0.6"/>
<line x1="61.80" y1="139.20" x2="63.30" y2="139.20" stroke="#222" stroke-width="0.6"/>
<line x1="67.00" y1="144.50" x2="67.00" y2="146.70" stroke="#222" stroke-width="0.8"/>
<line x1="75.00" y1="144.50" x2="75.00" y2="146.70" stroke="#222" stroke-width="0.8"/>
<line x1="80.30" y1="144.50" x2="80.30" y2="146.70" stroke="#222" stroke-width="0.8"/>
<line x1="93.30" y1="144.50" x2="93.30" y2="146.70" stroke="#222" stroke-width="0.8"/>
<line x1="105.30" y1="144.50" x2="105.30" y2="146.70" stroke="#222" stroke-width="0.8"/>
<line x1="84.21" y1="144.50" x2="84.21" y2="146.00" stroke="#222" stroke-width="0.6"/>
<line x1="86.50" y1="144.50" x2="86.50" y2="146.00" stroke="#222" stroke-width="0.6"/>
<line x1="88.13" y1="144.50" x2="88.13" y2="146.00" stroke="#222" stroke-width="0.6"/>
<line x1="89.39" y1="144.50" x2="89.39" y2="146.00" stroke="#222" stroke-width="0.6"/>
<line x1="90.42" y1="144.50" x2="90.42" y2="146.00" stroke="#222" stroke-width="0.6"/>
<line x1="91.29" y1="144.50" x2="91.29" y2="146.00" stroke="#222" stroke-width="0.6"/>
<line x1="92.04" y1="144.50" x2="92.04" y2="146.00" stroke="#222" stroke-width="0.6"/>
<line x1="92.71" y1="144.50" x2="92.71" y2="146.00" stroke="#222" stroke-width="0.6"/>
<line x1="96.91" y1="144.50" x2="96.91" y2="146.00" stroke="#222" stroke-width="0.6"/>
<line x1="99.03" y1="144.50" x2="99.03" y2="146.00" stroke="#222" stroke-width="0.6"/>
<line x1="100.52" y1="144.50" x2="100.52" y2="146.00" stroke="#222" stroke-width="0.6"/>
<line x1="101.69" y1="144.50" x2="101.69" y2="146.00" stroke="#222" stroke-width="0.6"/>
<line x1="102.64" y1="144.50" x2="102.64" y2="146.00" stroke="#222" stroke-width="0.6"/>
<line x1="103.44" y1="144.50" x2="103.44" y2="146.00" stroke="#222" stroke-width="0.6"/>
<line x1="104.14" y1="144.50" x2="104.14" y2="146.00" stroke="#222" stroke-width="0.6"/>
<line x1="104.75" y1="144.50" x2="104.75" y2="146.00" stroke="#222" stroke-width="0.6"/>
<line x1="67.20" y1="144.50" x2="67.20" y2="146.00" stroke="#222" stroke-width="0.6"/>
<line x1="68.50" y1="144.50" x2="68.50" y2="146.00" stroke="#222" stroke-width="0.6"/>
<line x1="69.80" y1="144.50" x2="69.80" y2="146.00" stroke="#222" stroke-width="0.6"/>
<line x1="71.10" y1="144.50" x2="71.10" y2="146.00" stroke="#222" stroke-width="0.6"/>
<line x1="72.40" y1="144.50" x2="72.40" y2="146.00" stroke="#222" stroke-width="0.6"/>
<line x1="73.70" y1="144.50" x2="73.70" y2="146.00" stroke="#222" stroke-width="0.6"/>
<line x1="75.00" y1="144.50" x2="75.00" y2="146.00" stroke="#222" stroke-width="0.6"/>
<line x1="76.30" y1="144.50" x2="76.30" y2="146.00" stroke="#222" stroke-width="0.6"/>
<line x1="77.60" y1="144.50" x2="77.60" y2="146.00" stroke="#222" stroke-width="0.6"/>
<line x1="78.90" y1="144.50" x2="78.90" y2="146.00" stroke="#222" stroke-width="0.6"/>
<line x1="80.20" y1="144.50" x2="80.20" y2="146.00" stroke="#222" stroke-width="0.6"/>
<text x="91.3" y="110.6" font-size="6.1" text-anchor="middle" fill="#333" font-weight="normal" >15.5%</text>
<text x="57.90" y="104.00" font-size="6.2" text-anchor="end" fill="#2a2a2a">10<tspan font-size="4.09" dy="-2.36">5</tspan></text>
<text x="57.90" y="115.90" font-size="6.2" text-anchor="end" fill="#2a2a2a">10<tspan font-size="4.09" dy="-2.36">4</tspan></text>
<text x="57.90" y="128.20" font-size="6.2" text-anchor="end" fill="#2a2a2a">10<tspan font-size="4.09" dy="-2.36">3</tspan></text>
<text x="57.1" y="136.2" font-size="6.2" text-anchor="end" fill="#2a2a2a" font-weight="normal" >0</text>
<text x="57.90" y="143.70" font-size="6.2" text-anchor="end" fill="#2a2a2a">&#8722;10<tspan font-size="4.09" dy="-2.36">3</tspan></text>
<text x="70.10" y="153.70" font-size="6.2" text-anchor="end" fill="#2a2a2a" transform="rotate(-45 70.1 153.7)">&#8722;10<tspan font-size="4.09" dy="-2.36">3</tspan></text>
<text x="77.60" y="155.30" font-size="6.2" text-anchor="end" fill="#2a2a2a" transform="rotate(-45 77.60 155.30)">0</text>
<text x="84.30" y="153.70" font-size="6.2" text-anchor="end" fill="#2a2a2a" transform="rotate(-45 84.3 153.7)">10<tspan font-size="4.09" dy="-2.36">3</tspan></text>
<text x="96.40" y="153.70" font-size="6.2" text-anchor="end" fill="#2a2a2a" transform="rotate(-45 96.39999999999999 153.7)">10<tspan font-size="4.09" dy="-2.36">4</tspan></text>
<text x="108.40" y="153.70" font-size="6.2" text-anchor="end" fill="#2a2a2a" transform="rotate(-45 108.39999999999999 153.7)">10<tspan font-size="4.09" dy="-2.36">5</tspan></text>
<rect x="132.30" y="98.00" width="47.00" height="46.50" fill="#fff" stroke="none" stroke-width="1" />
<circle cx="145.7" cy="114.4" r="0.7" fill="#6a68b0" fill-opacity="0.45"/>
<circle cx="143.0" cy="128.3" r="0.7" fill="#8a88c8" fill-opacity="0.45"/>
<circle cx="144.9" cy="114.5" r="0.7" fill="#6a68b0" fill-opacity="0.45"/>
<circle cx="144.5" cy="105.6" r="0.7" fill="#7c7abc" fill-opacity="0.45"/>
<circle cx="144.5" cy="110.3" r="0.7" fill="#5a58a0" fill-opacity="0.45"/>
<circle cx="145.8" cy="125.0" r="0.7" fill="#5a58a0" fill-opacity="0.45"/>
<circle cx="144.2" cy="120.2" r="0.7" fill="#6a68b0" fill-opacity="0.45"/>
<circle cx="145.4" cy="127.5" r="0.7" fill="#5a58a0" fill-opacity="0.45"/>
<circle cx="145.0" cy="119.3" r="0.7" fill="#7c7abc" fill-opacity="0.45"/>
<circle cx="145.7" cy="109.9" r="0.7" fill="#7c7abc" fill-opacity="0.45"/>
<circle cx="144.8" cy="118.1" r="0.7" fill="#6a68b0" fill-opacity="0.45"/>
<circle cx="144.6" cy="108.7" r="0.7" fill="#5a58a0" fill-opacity="0.45"/>
<circle cx="145.0" cy="113.2" r="0.7" fill="#6a68b0" fill-opacity="0.45"/>
<circle cx="145.2" cy="114.5" r="0.7" fill="#5a58a0" fill-opacity="0.45"/>
<circle cx="146.2" cy="128.7" r="0.7" fill="#6a68b0" fill-opacity="0.45"/>
<circle cx="143.5" cy="126.8" r="0.7" fill="#5a58a0" fill-opacity="0.45"/>
<circle cx="144.2" cy="106.7" r="0.7" fill="#5a58a0" fill-opacity="0.45"/>
<circle cx="144.4" cy="115.2" r="0.7" fill="#7c7abc" fill-opacity="0.45"/>
<circle cx="145.5" cy="116.9" r="0.7" fill="#5a58a0" fill-opacity="0.45"/>
<circle cx="143.4" cy="106.8" r="0.7" fill="#8a88c8" fill-opacity="0.45"/>
<circle cx="144.8" cy="128.6" r="0.7" fill="#5a58a0" fill-opacity="0.45"/>
<circle cx="145.7" cy="117.6" r="0.7" fill="#6a68b0" fill-opacity="0.45"/>
<circle cx="144.6" cy="108.5" r="0.7" fill="#6a68b0" fill-opacity="0.45"/>
<circle cx="144.5" cy="110.0" r="0.7" fill="#5a58a0" fill-opacity="0.45"/>
<circle cx="146.1" cy="127.0" r="0.7" fill="#6a68b0" fill-opacity="0.45"/>
<circle cx="144.2" cy="107.9" r="0.7" fill="#8a88c8" fill-opacity="0.45"/>
<circle cx="143.3" cy="115.3" r="0.7" fill="#7c7abc" fill-opacity="0.45"/>
<circle cx="145.5" cy="113.8" r="0.7" fill="#6a68b0" fill-opacity="0.45"/>
<circle cx="146.5" cy="117.3" r="0.7" fill="#8a88c8" fill-opacity="0.45"/>
<circle cx="145.4" cy="111.6" r="0.7" fill="#6a68b0" fill-opacity="0.45"/>
<circle cx="145.6" cy="119.3" r="0.7" fill="#8a88c8" fill-opacity="0.45"/>
<circle cx="144.9" cy="112.7" r="0.7" fill="#5a58a0" fill-opacity="0.45"/>
<circle cx="144.4" cy="123.0" r="0.7" fill="#8a88c8" fill-opacity="0.45"/>
<circle cx="146.3" cy="106.5" r="0.7" fill="#7c7abc" fill-opacity="0.45"/>
<circle cx="145.5" cy="123.4" r="0.7" fill="#7c7abc" fill-opacity="0.45"/>
<circle cx="144.8" cy="125.7" r="0.7" fill="#7c7abc" fill-opacity="0.45"/>
<circle cx="145.5" cy="125.4" r="0.7" fill="#5a58a0" fill-opacity="0.45"/>
<circle cx="144.2" cy="106.7" r="0.7" fill="#6a68b0" fill-opacity="0.45"/>
<circle cx="145.1" cy="122.4" r="0.7" fill="#8a88c8" fill-opacity="0.45"/>
<circle cx="146.7" cy="109.8" r="0.7" fill="#6a68b0" fill-opacity="0.45"/>
<circle cx="145.4" cy="126.4" r="0.7" fill="#7c7abc" fill-opacity="0.45"/>
<circle cx="145.7" cy="106.9" r="0.7" fill="#8a88c8" fill-opacity="0.45"/>
<circle cx="144.3" cy="124.3" r="0.7" fill="#8a88c8" fill-opacity="0.45"/>
<circle cx="145.1" cy="126.1" r="0.7" fill="#6a68b0" fill-opacity="0.45"/>
<circle cx="145.7" cy="124.6" r="0.7" fill="#6a68b0" fill-opacity="0.45"/>
<circle cx="145.8" cy="112.8" r="0.7" fill="#5a58a0" fill-opacity="0.45"/>
<circle cx="145.3" cy="128.8" r="0.7" fill="#8a88c8" fill-opacity="0.45"/>
<circle cx="145.8" cy="109.3" r="0.7" fill="#8a88c8" fill-opacity="0.45"/>
<circle cx="144.7" cy="106.0" r="0.7" fill="#8a88c8" fill-opacity="0.45"/>
<circle cx="144.3" cy="106.9" r="0.7" fill="#7c7abc" fill-opacity="0.45"/>
<circle cx="144.1" cy="117.7" r="0.7" fill="#7c7abc" fill-opacity="0.45"/>
<circle cx="147.4" cy="118.4" r="0.7" fill="#8a88c8" fill-opacity="0.45"/>
<circle cx="145.7" cy="113.9" r="0.7" fill="#5a58a0" fill-opacity="0.45"/>
<circle cx="143.6" cy="121.0" r="0.7" fill="#7c7abc" fill-opacity="0.45"/>
<circle cx="145.3" cy="121.9" r="0.7" fill="#8a88c8" fill-opacity="0.45"/>
<circle cx="145.5" cy="106.2" r="0.7" fill="#5a58a0" fill-opacity="0.45"/>
<circle cx="146.2" cy="107.8" r="0.7" fill="#5a58a0" fill-opacity="0.45"/>
<circle cx="144.6" cy="112.2" r="0.7" fill="#6a68b0" fill-opacity="0.45"/>
<circle cx="144.4" cy="129.9" r="0.7" fill="#5a58a0" fill-opacity="0.45"/>
<circle cx="143.4" cy="126.5" r="0.7" fill="#8a88c8" fill-opacity="0.45"/>
<circle cx="145.7" cy="109.7" r="0.7" fill="#5a58a0" fill-opacity="0.45"/>
<circle cx="145.5" cy="125.2" r="0.7" fill="#8a88c8" fill-opacity="0.45"/>
<circle cx="145.4" cy="111.5" r="0.7" fill="#6a68b0" fill-opacity="0.45"/>
<circle cx="145.5" cy="113.1" r="0.7" fill="#8a88c8" fill-opacity="0.45"/>
<circle cx="144.5" cy="110.5" r="0.7" fill="#5a58a0" fill-opacity="0.45"/>
<circle cx="144.6" cy="128.7" r="0.7" fill="#6a68b0" fill-opacity="0.45"/>
<circle cx="142.7" cy="121.4" r="0.7" fill="#8a88c8" fill-opacity="0.45"/>
<circle cx="145.7" cy="109.6" r="0.7" fill="#8a88c8" fill-opacity="0.45"/>
<circle cx="144.7" cy="119.5" r="0.7" fill="#8a88c8" fill-opacity="0.45"/>
<circle cx="145.2" cy="112.8" r="0.7" fill="#8a88c8" fill-opacity="0.45"/>
<circle cx="144.9" cy="121.0" r="0.7" fill="#6a68b0" fill-opacity="0.45"/>
<circle cx="146.6" cy="121.3" r="0.7" fill="#7c7abc" fill-opacity="0.45"/>
<circle cx="144.3" cy="105.7" r="0.7" fill="#5a58a0" fill-opacity="0.45"/>
<circle cx="146.0" cy="114.1" r="0.7" fill="#5a58a0" fill-opacity="0.45"/>
<circle cx="145.9" cy="113.0" r="0.7" fill="#6a68b0" fill-opacity="0.45"/>
<circle cx="143.3" cy="118.1" r="0.7" fill="#6a68b0" fill-opacity="0.45"/>
<circle cx="145.5" cy="115.8" r="0.7" fill="#6a68b0" fill-opacity="0.45"/>
<circle cx="146.7" cy="113.8" r="0.7" fill="#5a58a0" fill-opacity="0.45"/>
<circle cx="146.1" cy="129.7" r="0.7" fill="#7c7abc" fill-opacity="0.45"/>
<circle cx="143.3" cy="116.2" r="0.7" fill="#5a58a0" fill-opacity="0.45"/>
<circle cx="144.1" cy="109.0" r="0.7" fill="#6a68b0" fill-opacity="0.45"/>
<circle cx="145.1" cy="129.2" r="0.7" fill="#6a68b0" fill-opacity="0.45"/>
<circle cx="143.3" cy="129.8" r="0.7" fill="#6a68b0" fill-opacity="0.45"/>
<circle cx="146.5" cy="129.9" r="0.7" fill="#6a68b0" fill-opacity="0.45"/>
<circle cx="143.9" cy="130.0" r="0.7" fill="#7c7abc" fill-opacity="0.45"/>
<circle cx="143.6" cy="117.4" r="0.7" fill="#7c7abc" fill-opacity="0.45"/>
<circle cx="145.7" cy="116.9" r="0.7" fill="#6a68b0" fill-opacity="0.45"/>
<circle cx="144.0" cy="123.1" r="0.7" fill="#6a68b0" fill-opacity="0.45"/>
<circle cx="146.3" cy="105.6" r="0.7" fill="#5a58a0" fill-opacity="0.45"/>
<circle cx="144.7" cy="121.1" r="0.7" fill="#8a88c8" fill-opacity="0.45"/>
<circle cx="146.0" cy="124.0" r="0.7" fill="#6a68b0" fill-opacity="0.45"/>
<circle cx="145.8" cy="113.7" r="0.7" fill="#5a58a0" fill-opacity="0.45"/>
<circle cx="145.3" cy="128.5" r="0.7" fill="#5a58a0" fill-opacity="0.45"/>
<circle cx="145.0" cy="114.8" r="0.7" fill="#6a68b0" fill-opacity="0.45"/>
<circle cx="148.5" cy="124.0" r="0.7" fill="#6a68b0" fill-opacity="0.45"/>
<circle cx="146.8" cy="106.8" r="0.7" fill="#7c7abc" fill-opacity="0.45"/>
<circle cx="146.0" cy="108.1" r="0.7" fill="#5a58a0" fill-opacity="0.45"/>
<circle cx="145.7" cy="113.3" r="0.7" fill="#7c7abc" fill-opacity="0.45"/>
<circle cx="144.8" cy="110.8" r="0.7" fill="#7c7abc" fill-opacity="0.45"/>
<circle cx="145.3" cy="119.2" r="0.7" fill="#7c7abc" fill-opacity="0.45"/>
<circle cx="143.2" cy="118.4" r="0.7" fill="#6a68b0" fill-opacity="0.45"/>
<circle cx="145.7" cy="124.9" r="0.7" fill="#7c7abc" fill-opacity="0.45"/>
<circle cx="144.6" cy="108.4" r="0.7" fill="#6a68b0" fill-opacity="0.45"/>
<circle cx="144.9" cy="114.8" r="0.7" fill="#6a68b0" fill-opacity="0.45"/>
<circle cx="145.2" cy="110.3" r="0.7" fill="#8a88c8" fill-opacity="0.45"/>
<circle cx="144.7" cy="108.7" r="0.7" fill="#6a68b0" fill-opacity="0.45"/>
<circle cx="143.0" cy="114.6" r="0.7" fill="#6a68b0" fill-opacity="0.45"/>
<circle cx="145.2" cy="114.2" r="0.7" fill="#5a58a0" fill-opacity="0.45"/>
<circle cx="145.1" cy="107.0" r="0.7" fill="#8a88c8" fill-opacity="0.45"/>
<circle cx="145.5" cy="112.7" r="0.7" fill="#8a88c8" fill-opacity="0.45"/>
<circle cx="146.2" cy="109.8" r="0.7" fill="#7c7abc" fill-opacity="0.45"/>
<circle cx="145.0" cy="118.6" r="0.7" fill="#6a68b0" fill-opacity="0.45"/>
<circle cx="144.6" cy="114.3" r="0.7" fill="#5a58a0" fill-opacity="0.45"/>
<circle cx="146.5" cy="110.1" r="0.7" fill="#6a68b0" fill-opacity="0.45"/>
<circle cx="144.2" cy="115.2" r="0.7" fill="#8a88c8" fill-opacity="0.45"/>
<circle cx="145.2" cy="112.8" r="0.7" fill="#6a68b0" fill-opacity="0.45"/>
<circle cx="145.2" cy="106.4" r="0.7" fill="#8a88c8" fill-opacity="0.45"/>
<circle cx="144.8" cy="118.1" r="0.7" fill="#8a88c8" fill-opacity="0.45"/>
<circle cx="144.3" cy="125.2" r="0.7" fill="#6a68b0" fill-opacity="0.45"/>
<circle cx="143.8" cy="112.4" r="0.7" fill="#8a88c8" fill-opacity="0.45"/>
<circle cx="143.7" cy="128.7" r="0.7" fill="#6a68b0" fill-opacity="0.45"/>
<circle cx="145.0" cy="113.8" r="0.7" fill="#6a68b0" fill-opacity="0.45"/>
<circle cx="143.4" cy="105.6" r="0.7" fill="#5a58a0" fill-opacity="0.45"/>
<circle cx="143.4" cy="129.0" r="0.7" fill="#5a58a0" fill-opacity="0.45"/>
<circle cx="145.6" cy="125.7" r="0.7" fill="#6a68b0" fill-opacity="0.45"/>
<circle cx="146.6" cy="112.4" r="0.7" fill="#8a88c8" fill-opacity="0.45"/>
<circle cx="145.1" cy="107.8" r="0.7" fill="#6a68b0" fill-opacity="0.45"/>
<circle cx="144.3" cy="110.0" r="0.7" fill="#5a58a0" fill-opacity="0.45"/>
<circle cx="146.6" cy="124.9" r="0.7" fill="#5a58a0" fill-opacity="0.45"/>
<circle cx="144.6" cy="114.5" r="0.7" fill="#5a58a0" fill-opacity="0.45"/>
<circle cx="145.9" cy="118.8" r="0.7" fill="#7c7abc" fill-opacity="0.45"/>
<circle cx="145.7" cy="125.5" r="0.7" fill="#5a58a0" fill-opacity="0.45"/>
<circle cx="145.4" cy="106.1" r="0.7" fill="#5a58a0" fill-opacity="0.45"/>
<circle cx="145.6" cy="120.6" r="0.7" fill="#6a68b0" fill-opacity="0.45"/>
<circle cx="143.9" cy="130.0" r="0.7" fill="#6a68b0" fill-opacity="0.45"/>
<circle cx="145.2" cy="118.2" r="0.7" fill="#5a58a0" fill-opacity="0.45"/>
<circle cx="147.5" cy="120.5" r="0.7" fill="#7c7abc" fill-opacity="0.45"/>
<circle cx="145.4" cy="119.0" r="0.7" fill="#6a68b0" fill-opacity="0.45"/>
<circle cx="144.1" cy="125.3" r="0.7" fill="#6a68b0" fill-opacity="0.45"/>
<circle cx="145.2" cy="109.0" r="0.7" fill="#6a68b0" fill-opacity="0.45"/>
<circle cx="145.1" cy="115.4" r="0.7" fill="#8a88c8" fill-opacity="0.45"/>
<circle cx="144.1" cy="121.5" r="0.7" fill="#6a68b0" fill-opacity="0.45"/>
<circle cx="146.3" cy="115.6" r="0.7" fill="#6a68b0" fill-opacity="0.45"/>
<circle cx="144.0" cy="128.8" r="0.7" fill="#5a58a0" fill-opacity="0.45"/>
<circle cx="144.6" cy="121.2" r="0.7" fill="#6a68b0" fill-opacity="0.45"/>
<circle cx="145.0" cy="114.4" r="0.7" fill="#6a68b0" fill-opacity="0.45"/>
<circle cx="145.4" cy="127.9" r="0.7" fill="#7c7abc" fill-opacity="0.45"/>
<circle cx="146.2" cy="125.7" r="0.7" fill="#6a68b0" fill-opacity="0.45"/>
<circle cx="145.0" cy="108.7" r="0.7" fill="#8a88c8" fill-opacity="0.45"/>
<circle cx="146.3" cy="128.1" r="0.7" fill="#7c7abc" fill-opacity="0.45"/>
<circle cx="146.2" cy="121.4" r="0.7" fill="#8a88c8" fill-opacity="0.45"/>
<circle cx="144.6" cy="117.2" r="0.7" fill="#8a88c8" fill-opacity="0.45"/>
<circle cx="145.1" cy="107.6" r="0.7" fill="#5a58a0" fill-opacity="0.45"/>
<circle cx="144.6" cy="109.7" r="0.7" fill="#5a58a0" fill-opacity="0.45"/>
<circle cx="144.5" cy="125.3" r="0.7" fill="#8a88c8" fill-opacity="0.45"/>
<circle cx="144.3" cy="115.7" r="0.7" fill="#8a88c8" fill-opacity="0.45"/>
<circle cx="144.2" cy="113.4" r="0.7" fill="#8a88c8" fill-opacity="0.45"/>
<circle cx="144.6" cy="112.7" r="0.7" fill="#8a88c8" fill-opacity="0.45"/>
<circle cx="145.0" cy="110.4" r="0.7" fill="#6a68b0" fill-opacity="0.45"/>
<circle cx="146.5" cy="111.0" r="0.7" fill="#6a68b0" fill-opacity="0.45"/>
<circle cx="145.1" cy="124.7" r="0.7" fill="#7c7abc" fill-opacity="0.45"/>
<circle cx="145.8" cy="115.3" r="0.7" fill="#6a68b0" fill-opacity="0.45"/>
<circle cx="147.3" cy="118.4" r="0.7" fill="#8a88c8" fill-opacity="0.45"/>
<circle cx="144.8" cy="114.1" r="0.7" fill="#6a68b0" fill-opacity="0.45"/>
<circle cx="145.1" cy="110.4" r="0.7" fill="#5a58a0" fill-opacity="0.45"/>
<circle cx="144.6" cy="116.9" r="0.7" fill="#7c7abc" fill-opacity="0.45"/>
<circle cx="144.8" cy="106.1" r="0.7" fill="#8a88c8" fill-opacity="0.45"/>
<circle cx="144.0" cy="112.8" r="0.7" fill="#7c7abc" fill-opacity="0.45"/>
<circle cx="146.0" cy="115.6" r="0.7" fill="#5a58a0" fill-opacity="0.45"/>
<circle cx="145.0" cy="107.4" r="0.7" fill="#7c7abc" fill-opacity="0.45"/>
<circle cx="145.4" cy="110.1" r="0.7" fill="#5a58a0" fill-opacity="0.45"/>
<circle cx="146.1" cy="107.9" r="0.7" fill="#7c7abc" fill-opacity="0.45"/>
<circle cx="147.0" cy="119.0" r="0.7" fill="#5a58a0" fill-opacity="0.45"/>
<circle cx="143.9" cy="113.6" r="0.7" fill="#5a58a0" fill-opacity="0.45"/>
<circle cx="146.5" cy="119.7" r="0.7" fill="#6a68b0" fill-opacity="0.45"/>
<circle cx="142.9" cy="110.8" r="0.7" fill="#6a68b0" fill-opacity="0.45"/>
<circle cx="146.1" cy="109.0" r="0.7" fill="#5a58a0" fill-opacity="0.45"/>
<circle cx="144.3" cy="110.9" r="0.7" fill="#7c7abc" fill-opacity="0.45"/>
<circle cx="145.3" cy="111.1" r="0.7" fill="#5a58a0" fill-opacity="0.45"/>
<circle cx="145.2" cy="128.5" r="0.7" fill="#7c7abc" fill-opacity="0.45"/>
<circle cx="146.3" cy="126.6" r="0.7" fill="#7c7abc" fill-opacity="0.45"/>
<circle cx="146.8" cy="119.7" r="0.7" fill="#7c7abc" fill-opacity="0.45"/>
<circle cx="143.9" cy="117.8" r="0.7" fill="#5a58a0" fill-opacity="0.45"/>
<circle cx="143.4" cy="112.2" r="0.7" fill="#8a88c8" fill-opacity="0.45"/>
<circle cx="143.8" cy="128.3" r="0.7" fill="#7c7abc" fill-opacity="0.45"/>
<circle cx="146.4" cy="116.5" r="0.7" fill="#5a58a0" fill-opacity="0.45"/>
<circle cx="145.4" cy="113.1" r="0.7" fill="#5a58a0" fill-opacity="0.45"/>
<circle cx="146.5" cy="118.6" r="0.7" fill="#5a58a0" fill-opacity="0.45"/>
<circle cx="146.4" cy="126.9" r="0.7" fill="#6a68b0" fill-opacity="0.45"/>
<circle cx="145.6" cy="112.1" r="0.7" fill="#6a68b0" fill-opacity="0.45"/>
<circle cx="144.7" cy="107.5" r="0.7" fill="#5a58a0" fill-opacity="0.45"/>
<circle cx="144.9" cy="112.2" r="0.7" fill="#7c7abc" fill-opacity="0.45"/>
<circle cx="144.9" cy="106.6" r="0.7" fill="#6a68b0" fill-opacity="0.45"/>
<circle cx="144.8" cy="114.8" r="0.7" fill="#7c7abc" fill-opacity="0.45"/>
<circle cx="144.2" cy="129.5" r="0.7" fill="#6a68b0" fill-opacity="0.45"/>
<circle cx="143.4" cy="115.4" r="0.7" fill="#7c7abc" fill-opacity="0.45"/>
<circle cx="144.7" cy="107.1" r="0.7" fill="#7c7abc" fill-opacity="0.45"/>
<circle cx="143.6" cy="126.8" r="0.7" fill="#6a68b0" fill-opacity="0.45"/>
<circle cx="144.7" cy="114.9" r="0.7" fill="#8a88c8" fill-opacity="0.45"/>
<circle cx="145.1" cy="106.0" r="0.7" fill="#6a68b0" fill-opacity="0.45"/>
<circle cx="144.9" cy="108.2" r="0.7" fill="#5a58a0" fill-opacity="0.45"/>
<circle cx="146.1" cy="128.4" r="0.7" fill="#7c7abc" fill-opacity="0.45"/>
<circle cx="145.3" cy="126.2" r="0.7" fill="#8a88c8" fill-opacity="0.45"/>
<circle cx="145.0" cy="124.5" r="0.7" fill="#5a58a0" fill-opacity="0.45"/>
<circle cx="146.3" cy="128.2" r="0.7" fill="#6a68b0" fill-opacity="0.45"/>
<circle cx="145.6" cy="107.6" r="0.7" fill="#5a58a0" fill-opacity="0.45"/>
<circle cx="145.3" cy="126.5" r="0.7" fill="#6a68b0" fill-opacity="0.45"/>
<circle cx="145.1" cy="108.5" r="0.7" fill="#7c7abc" fill-opacity="0.45"/>
<circle cx="143.7" cy="121.7" r="0.7" fill="#6a68b0" fill-opacity="0.45"/>
<circle cx="145.0" cy="105.5" r="0.7" fill="#6a68b0" fill-opacity="0.45"/>
<circle cx="145.4" cy="128.9" r="0.7" fill="#7c7abc" fill-opacity="0.45"/>
<circle cx="146.0" cy="114.6" r="0.7" fill="#5a58a0" fill-opacity="0.45"/>
<circle cx="143.6" cy="110.1" r="0.7" fill="#7c7abc" fill-opacity="0.45"/>
<circle cx="146.3" cy="111.1" r="0.7" fill="#5a58a0" fill-opacity="0.45"/>
<circle cx="144.3" cy="117.6" r="0.7" fill="#8a88c8" fill-opacity="0.45"/>
<circle cx="146.5" cy="120.8" r="0.7" fill="#8a88c8" fill-opacity="0.45"/>
<circle cx="145.5" cy="109.1" r="0.7" fill="#8a88c8" fill-opacity="0.45"/>
<circle cx="145.6" cy="110.2" r="0.7" fill="#5a58a0" fill-opacity="0.45"/>
<circle cx="144.6" cy="109.3" r="0.7" fill="#5a58a0" fill-opacity="0.45"/>
<circle cx="143.8" cy="118.8" r="0.7" fill="#6a68b0" fill-opacity="0.45"/>
<circle cx="145.2" cy="109.3" r="0.7" fill="#5a58a0" fill-opacity="0.45"/>
<circle cx="146.0" cy="123.1" r="0.7" fill="#7c7abc" fill-opacity="0.45"/>
<circle cx="145.4" cy="121.4" r="0.7" fill="#6a68b0" fill-opacity="0.45"/>
<circle cx="143.8" cy="121.7" r="0.7" fill="#7c7abc" fill-opacity="0.45"/>
<circle cx="146.3" cy="115.5" r="0.7" fill="#7c7abc" fill-opacity="0.45"/>
<circle cx="145.4" cy="113.7" r="0.7" fill="#5a58a0" fill-opacity="0.45"/>
<circle cx="146.5" cy="106.8" r="0.7" fill="#7c7abc" fill-opacity="0.45"/>
<circle cx="145.9" cy="114.9" r="0.7" fill="#7c7abc" fill-opacity="0.45"/>
<circle cx="145.3" cy="112.9" r="0.7" fill="#5a58a0" fill-opacity="0.45"/>
<circle cx="144.1" cy="118.5" r="0.7" fill="#6a68b0" fill-opacity="0.45"/>
<circle cx="145.2" cy="116.3" r="0.7" fill="#8a88c8" fill-opacity="0.45"/>
<circle cx="145.0" cy="106.1" r="0.7" fill="#6a68b0" fill-opacity="0.45"/>
<circle cx="145.3" cy="115.1" r="0.7" fill="#7c7abc" fill-opacity="0.45"/>
<circle cx="145.5" cy="126.7" r="0.7" fill="#7c7abc" fill-opacity="0.45"/>
<circle cx="143.6" cy="128.2" r="0.7" fill="#7c7abc" fill-opacity="0.45"/>
<circle cx="147.3" cy="124.8" r="0.7" fill="#5a58a0" fill-opacity="0.45"/>
<circle cx="145.3" cy="128.5" r="0.7" fill="#7c7abc" fill-opacity="0.45"/>
<circle cx="145.7" cy="126.9" r="0.7" fill="#8a88c8" fill-opacity="0.45"/>
<circle cx="144.8" cy="113.6" r="0.7" fill="#7c7abc" fill-opacity="0.45"/>
<circle cx="142.5" cy="128.4" r="0.7" fill="#6a68b0" fill-opacity="0.45"/>
<circle cx="164.0" cy="134.0" r="0.55" fill="#8a8fd0" fill-opacity="0.45"/>
<circle cx="149.4" cy="132.9" r="0.55" fill="#7c7fc4" fill-opacity="0.45"/>
<circle cx="149.4" cy="133.5" r="0.55" fill="#7c7fc4" fill-opacity="0.45"/>
<circle cx="161.2" cy="133.2" r="0.55" fill="#7c7fc4" fill-opacity="0.45"/>
<circle cx="151.8" cy="132.3" r="0.55" fill="#6b70c0" fill-opacity="0.45"/>
<circle cx="147.6" cy="134.6" r="0.55" fill="#7c7fc4" fill-opacity="0.45"/>
<circle cx="150.5" cy="134.7" r="0.55" fill="#7c7fc4" fill-opacity="0.45"/>
<circle cx="149.1" cy="133.4" r="0.55" fill="#7c7fc4" fill-opacity="0.45"/>
<circle cx="155.1" cy="133.7" r="0.55" fill="#5a60b5" fill-opacity="0.45"/>
<circle cx="155.2" cy="132.5" r="0.55" fill="#5a60b5" fill-opacity="0.45"/>
<circle cx="163.9" cy="132.1" r="0.55" fill="#7c7fc4" fill-opacity="0.45"/>
<circle cx="154.1" cy="132.1" r="0.55" fill="#6b70c0" fill-opacity="0.45"/>
<circle cx="148.1" cy="133.1" r="0.55" fill="#6b70c0" fill-opacity="0.45"/>
<circle cx="163.6" cy="132.1" r="0.55" fill="#5a60b5" fill-opacity="0.45"/>
<circle cx="160.9" cy="133.4" r="0.55" fill="#8a8fd0" fill-opacity="0.45"/>
<circle cx="155.2" cy="132.5" r="0.55" fill="#8a8fd0" fill-opacity="0.45"/>
<circle cx="150.1" cy="134.7" r="0.55" fill="#a0a4dc" fill-opacity="0.45"/>
<circle cx="151.7" cy="133.7" r="0.55" fill="#a0a4dc" fill-opacity="0.45"/>
<circle cx="159.0" cy="132.7" r="0.55" fill="#a0a4dc" fill-opacity="0.45"/>
<circle cx="150.1" cy="132.4" r="0.55" fill="#7c7fc4" fill-opacity="0.45"/>
<circle cx="157.2" cy="133.2" r="0.55" fill="#7c7fc4" fill-opacity="0.45"/>
<circle cx="157.3" cy="132.7" r="0.55" fill="#5a60b5" fill-opacity="0.45"/>
<circle cx="151.3" cy="134.6" r="0.55" fill="#6b70c0" fill-opacity="0.45"/>
<circle cx="155.3" cy="133.6" r="0.55" fill="#a0a4dc" fill-opacity="0.45"/>
<circle cx="160.3" cy="134.6" r="0.55" fill="#a0a4dc" fill-opacity="0.45"/>
<circle cx="151.3" cy="133.6" r="0.55" fill="#6b70c0" fill-opacity="0.45"/>
<circle cx="159.2" cy="133.0" r="0.55" fill="#8a8fd0" fill-opacity="0.45"/>
<circle cx="158.1" cy="132.0" r="0.55" fill="#5a60b5" fill-opacity="0.45"/>
<circle cx="156.8" cy="133.4" r="0.55" fill="#7c7fc4" fill-opacity="0.45"/>
<circle cx="158.4" cy="133.9" r="0.55" fill="#5a60b5" fill-opacity="0.45"/>
<circle cx="154.1" cy="133.4" r="0.55" fill="#7c7fc4" fill-opacity="0.45"/>
<circle cx="155.2" cy="132.3" r="0.55" fill="#5a60b5" fill-opacity="0.45"/>
<circle cx="158.2" cy="132.2" r="0.55" fill="#6b70c0" fill-opacity="0.45"/>
<circle cx="163.8" cy="132.8" r="0.55" fill="#5a60b5" fill-opacity="0.45"/>
<circle cx="148.2" cy="132.8" r="0.55" fill="#8a8fd0" fill-opacity="0.45"/>
<ellipse cx="164.30" cy="133.30" rx="1.30" ry="1.50" fill="#4e52a0" fill-opacity="0.9" stroke="none" stroke-width="0.5" transform="rotate(0 164.30 133.30)"/>
<ellipse cx="167.30" cy="133.30" rx="1.30" ry="1.50" fill="#4e52a0" fill-opacity="0.9" stroke="none" stroke-width="0.5" transform="rotate(0 167.30 133.30)"/>
<ellipse cx="170.30" cy="133.30" rx="1.30" ry="1.50" fill="#4e52a0" fill-opacity="0.9" stroke="none" stroke-width="0.5" transform="rotate(0 170.30 133.30)"/>
<ellipse cx="173.30" cy="133.30" rx="1.30" ry="1.50" fill="#4e52a0" fill-opacity="0.9" stroke="none" stroke-width="0.5" transform="rotate(0 173.30 133.30)"/>
<ellipse cx="176.10" cy="133.30" rx="1.30" ry="1.50" fill="#4e52a0" fill-opacity="0.9" stroke="none" stroke-width="0.5" transform="rotate(0 176.10 133.30)"/>
<ellipse cx="145.10" cy="133.00" rx="3.00" ry="3.30" fill="#56704a" fill-opacity="1" stroke="none" stroke-width="0.5" transform="rotate(0 145.10 133.00)"/>
<ellipse cx="145.10" cy="133.00" rx="2.30" ry="2.50" fill="#98b850" fill-opacity="1" stroke="none" stroke-width="0.5" transform="rotate(0 145.10 133.00)"/>
<ellipse cx="145.10" cy="133.00" rx="1.10" ry="1.20" fill="#e0d848" fill-opacity="1" stroke="none" stroke-width="0.5" transform="rotate(0 145.10 133.00)"/>
<rect x="140.30" y="102.00" width="36.80" height="24.60" fill="none" stroke="#7c7c86" stroke-width="0.7" />
<rect x="132.30" y="98.00" width="47.00" height="46.50" fill="none" stroke="#3a3a3a" stroke-width="0.8" />
<rect x="130.30" y="133.00" width="2.00" height="2.00" fill="#111" stroke="none" stroke-width="1" />
<rect x="143.00" y="144.50" width="2.00" height="2.00" fill="#111" stroke="none" stroke-width="1" />
<line x1="130.10" y1="102.30" x2="132.30" y2="102.30" stroke="#222" stroke-width="0.8"/>
<line x1="130.10" y1="113.10" x2="132.30" y2="113.10" stroke="#222" stroke-width="0.8"/>
<line x1="130.10" y1="126.20" x2="132.30" y2="126.20" stroke="#222" stroke-width="0.8"/>
<line x1="130.10" y1="134.00" x2="132.30" y2="134.00" stroke="#222" stroke-width="0.8"/>
<line x1="130.10" y1="140.10" x2="132.30" y2="140.10" stroke="#222" stroke-width="0.8"/>
<line x1="130.80" y1="122.26" x2="132.30" y2="122.26" stroke="#222" stroke-width="0.6"/>
<line x1="130.80" y1="119.95" x2="132.30" y2="119.95" stroke="#222" stroke-width="0.6"/>
<line x1="130.80" y1="118.31" x2="132.30" y2="118.31" stroke="#222" stroke-width="0.6"/>
<line x1="130.80" y1="117.04" x2="132.30" y2="117.04" stroke="#222" stroke-width="0.6"/>
<line x1="130.80" y1="116.01" x2="132.30" y2="116.01" stroke="#222" stroke-width="0.6"/>
<line x1="130.80" y1="115.13" x2="132.30" y2="115.13" stroke="#222" stroke-width="0.6"/>
<line x1="130.80" y1="114.37" x2="132.30" y2="114.37" stroke="#222" stroke-width="0.6"/>
<line x1="130.80" y1="113.70" x2="132.30" y2="113.70" stroke="#222" stroke-width="0.6"/>
<line x1="130.80" y1="109.85" x2="132.30" y2="109.85" stroke="#222" stroke-width="0.6"/>
<line x1="130.80" y1="107.95" x2="132.30" y2="107.95" stroke="#222" stroke-width="0.6"/>
<line x1="130.80" y1="106.60" x2="132.30" y2="106.60" stroke="#222" stroke-width="0.6"/>
<line x1="130.80" y1="105.55" x2="132.30" y2="105.55" stroke="#222" stroke-width="0.6"/>
<line x1="130.80" y1="104.70" x2="132.30" y2="104.70" stroke="#222" stroke-width="0.6"/>
<line x1="130.80" y1="103.97" x2="132.30" y2="103.97" stroke="#222" stroke-width="0.6"/>
<line x1="130.80" y1="103.35" x2="132.30" y2="103.35" stroke="#222" stroke-width="0.6"/>
<line x1="130.80" y1="102.79" x2="132.30" y2="102.79" stroke="#222" stroke-width="0.6"/>
<line x1="130.80" y1="126.20" x2="132.30" y2="126.20" stroke="#222" stroke-width="0.6"/>
<line x1="130.80" y1="127.50" x2="132.30" y2="127.50" stroke="#222" stroke-width="0.6"/>
<line x1="130.80" y1="128.80" x2="132.30" y2="128.80" stroke="#222" stroke-width="0.6"/>
<line x1="130.80" y1="130.10" x2="132.30" y2="130.10" stroke="#222" stroke-width="0.6"/>
<line x1="130.80" y1="131.40" x2="132.30" y2="131.40" stroke="#222" stroke-width="0.6"/>
<line x1="130.80" y1="132.70" x2="132.30" y2="132.70" stroke="#222" stroke-width="0.6"/>
<line x1="130.80" y1="134.00" x2="132.30" y2="134.00" stroke="#222" stroke-width="0.6"/>
<line x1="130.80" y1="135.30" x2="132.30" y2="135.30" stroke="#222" stroke-width="0.6"/>
<line x1="130.80" y1="136.60" x2="132.30" y2="136.60" stroke="#222" stroke-width="0.6"/>
<line x1="130.80" y1="137.90" x2="132.30" y2="137.90" stroke="#222" stroke-width="0.6"/>
<line x1="130.80" y1="139.20" x2="132.30" y2="139.20" stroke="#222" stroke-width="0.6"/>
<line x1="136.00" y1="144.50" x2="136.00" y2="146.70" stroke="#222" stroke-width="0.8"/>
<line x1="144.00" y1="144.50" x2="144.00" y2="146.70" stroke="#222" stroke-width="0.8"/>
<line x1="149.30" y1="144.50" x2="149.30" y2="146.70" stroke="#222" stroke-width="0.8"/>
<line x1="162.30" y1="144.50" x2="162.30" y2="146.70" stroke="#222" stroke-width="0.8"/>
<line x1="174.30" y1="144.50" x2="174.30" y2="146.70" stroke="#222" stroke-width="0.8"/>
<line x1="153.21" y1="144.50" x2="153.21" y2="146.00" stroke="#222" stroke-width="0.6"/>
<line x1="155.50" y1="144.50" x2="155.50" y2="146.00" stroke="#222" stroke-width="0.6"/>
<line x1="157.13" y1="144.50" x2="157.13" y2="146.00" stroke="#222" stroke-width="0.6"/>
<line x1="158.39" y1="144.50" x2="158.39" y2="146.00" stroke="#222" stroke-width="0.6"/>
<line x1="159.42" y1="144.50" x2="159.42" y2="146.00" stroke="#222" stroke-width="0.6"/>
<line x1="160.29" y1="144.50" x2="160.29" y2="146.00" stroke="#222" stroke-width="0.6"/>
<line x1="161.04" y1="144.50" x2="161.04" y2="146.00" stroke="#222" stroke-width="0.6"/>
<line x1="161.71" y1="144.50" x2="161.71" y2="146.00" stroke="#222" stroke-width="0.6"/>
<line x1="165.91" y1="144.50" x2="165.91" y2="146.00" stroke="#222" stroke-width="0.6"/>
<line x1="168.03" y1="144.50" x2="168.03" y2="146.00" stroke="#222" stroke-width="0.6"/>
<line x1="169.52" y1="144.50" x2="169.52" y2="146.00" stroke="#222" stroke-width="0.6"/>
<line x1="170.69" y1="144.50" x2="170.69" y2="146.00" stroke="#222" stroke-width="0.6"/>
<line x1="171.64" y1="144.50" x2="171.64" y2="146.00" stroke="#222" stroke-width="0.6"/>
<line x1="172.44" y1="144.50" x2="172.44" y2="146.00" stroke="#222" stroke-width="0.6"/>
<line x1="173.14" y1="144.50" x2="173.14" y2="146.00" stroke="#222" stroke-width="0.6"/>
<line x1="173.75" y1="144.50" x2="173.75" y2="146.00" stroke="#222" stroke-width="0.6"/>
<line x1="136.20" y1="144.50" x2="136.20" y2="146.00" stroke="#222" stroke-width="0.6"/>
<line x1="137.50" y1="144.50" x2="137.50" y2="146.00" stroke="#222" stroke-width="0.6"/>
<line x1="138.80" y1="144.50" x2="138.80" y2="146.00" stroke="#222" stroke-width="0.6"/>
<line x1="140.10" y1="144.50" x2="140.10" y2="146.00" stroke="#222" stroke-width="0.6"/>
<line x1="141.40" y1="144.50" x2="141.40" y2="146.00" stroke="#222" stroke-width="0.6"/>
<line x1="142.70" y1="144.50" x2="142.70" y2="146.00" stroke="#222" stroke-width="0.6"/>
<line x1="144.00" y1="144.50" x2="144.00" y2="146.00" stroke="#222" stroke-width="0.6"/>
<line x1="145.30" y1="144.50" x2="145.30" y2="146.00" stroke="#222" stroke-width="0.6"/>
<line x1="146.60" y1="144.50" x2="146.60" y2="146.00" stroke="#222" stroke-width="0.6"/>
<line x1="147.90" y1="144.50" x2="147.90" y2="146.00" stroke="#222" stroke-width="0.6"/>
<line x1="149.20" y1="144.50" x2="149.20" y2="146.00" stroke="#222" stroke-width="0.6"/>
<text x="162.8" y="110.6" font-size="6.1" text-anchor="middle" fill="#333" font-weight="normal" >4.8%</text>
<text x="126.90" y="104.00" font-size="6.2" text-anchor="end" fill="#2a2a2a">10<tspan font-size="4.09" dy="-2.36">5</tspan></text>
<text x="126.90" y="115.90" font-size="6.2" text-anchor="end" fill="#2a2a2a">10<tspan font-size="4.09" dy="-2.36">4</tspan></text>
<text x="126.90" y="128.20" font-size="6.2" text-anchor="end" fill="#2a2a2a">10<tspan font-size="4.09" dy="-2.36">3</tspan></text>
<text x="126.10000000000001" y="136.2" font-size="6.2" text-anchor="end" fill="#2a2a2a" font-weight="normal" >0</text>
<text x="126.90" y="143.70" font-size="6.2" text-anchor="end" fill="#2a2a2a">&#8722;10<tspan font-size="4.09" dy="-2.36">3</tspan></text>
<text x="139.10" y="153.70" font-size="6.2" text-anchor="end" fill="#2a2a2a" transform="rotate(-45 139.1 153.7)">&#8722;10<tspan font-size="4.09" dy="-2.36">3</tspan></text>
<text x="146.60" y="155.30" font-size="6.2" text-anchor="end" fill="#2a2a2a" transform="rotate(-45 146.60 155.30)">0</text>
<text x="153.30" y="153.70" font-size="6.2" text-anchor="end" fill="#2a2a2a" transform="rotate(-45 153.3 153.7)">10<tspan font-size="4.09" dy="-2.36">3</tspan></text>
<text x="165.40" y="153.70" font-size="6.2" text-anchor="end" fill="#2a2a2a" transform="rotate(-45 165.4 153.7)">10<tspan font-size="4.09" dy="-2.36">4</tspan></text>
<text x="177.40" y="153.70" font-size="6.2" text-anchor="end" fill="#2a2a2a" transform="rotate(-45 177.4 153.7)">10<tspan font-size="4.09" dy="-2.36">5</tspan></text>
<text x="254" y="27.2" font-size="8.8" text-anchor="middle" fill="#222" font-weight="normal" textLength="16.2" lengthAdjust="spacingAndGlyphs">CD4</text>
<text x="316.9" y="27.0" font-size="8.8" text-anchor="middle" fill="#222" font-weight="normal" textLength="16.0" lengthAdjust="spacingAndGlyphs">CD8</text>
<text x="219.7" y="56.2" font-size="6.8" font-weight="bold" text-anchor="middle" fill="#2a2a2a" transform="rotate(-90 219.7 56.2)" textLength="21.5" lengthAdjust="spacingAndGlyphs">% IFN&#947;<tspan font-size="4.5" dy="-2.4">+</tspan></text>
<line x1="238.30" y1="31.00" x2="238.30" y2="81.90" stroke="#333" stroke-width="1.3"/>
<line x1="235.50" y1="36.90" x2="238.30" y2="36.90" stroke="#333" stroke-width="1"/>
<text x="233.10000000000002" y="39.4" font-size="6.7" text-anchor="end" fill="#333" font-weight="normal" >25</text>
<line x1="235.50" y1="45.60" x2="238.30" y2="45.60" stroke="#333" stroke-width="1"/>
<text x="233.10000000000002" y="48.1" font-size="6.7" text-anchor="end" fill="#333" font-weight="normal" >20</text>
<line x1="235.50" y1="54.40" x2="238.30" y2="54.40" stroke="#333" stroke-width="1"/>
<text x="233.10000000000002" y="56.9" font-size="6.7" text-anchor="end" fill="#333" font-weight="normal" >15</text>
<line x1="235.50" y1="63.20" x2="238.30" y2="63.20" stroke="#333" stroke-width="1"/>
<text x="233.10000000000002" y="65.7" font-size="6.7" text-anchor="end" fill="#333" font-weight="normal" >10</text>
<line x1="235.50" y1="72.20" x2="238.30" y2="72.20" stroke="#333" stroke-width="1"/>
<text x="233.10000000000002" y="74.7" font-size="6.7" text-anchor="end" fill="#333" font-weight="normal" >5</text>
<line x1="235.50" y1="81.00" x2="238.30" y2="81.00" stroke="#333" stroke-width="1"/>
<text x="233.10000000000002" y="83.5" font-size="6.7" text-anchor="end" fill="#333" font-weight="normal" >0</text>
<rect x="243.20" y="46.80" width="9.40" height="34.50" fill="#f0a593" stroke="#e28a84" stroke-width="0.5" />
<line x1="247.90" y1="42.60" x2="247.90" y2="50.50" stroke="#cc1838" stroke-width="0.8"/>
<line x1="245.70" y1="42.60" x2="250.10" y2="42.60" stroke="#cc1838" stroke-width="0.8"/>
<line x1="245.70" y1="50.50" x2="250.10" y2="50.50" stroke="#cc1838" stroke-width="0.8"/>
<circle cx="245.63" cy="39.00" r="1.0" fill="#cc1838" stroke="none" stroke-width="0.5"/>
<circle cx="248.23" cy="44.50" r="1.0" fill="#cc1838" stroke="none" stroke-width="0.5"/>
<circle cx="250.20" cy="46.00" r="1.0" fill="#cc1838" stroke="none" stroke-width="0.5"/>
<circle cx="245.65" cy="47.50" r="1.0" fill="#cc1838" stroke="none" stroke-width="0.5"/>
<circle cx="248.30" cy="48.50" r="1.0" fill="#cc1838" stroke="none" stroke-width="0.5"/>
<circle cx="249.90" cy="50.00" r="1.0" fill="#cc1838" stroke="none" stroke-width="0.5"/>
<rect x="257.60" y="71.20" width="9.40" height="10.10" fill="#adbbde" stroke="#8c9fcc" stroke-width="0.5" />
<rect x="259.2" y="67.5" width="2" height="2" fill="#1d3f7a"/>
<rect x="261.4" y="69.5" width="2" height="2" fill="#1d3f7a"/>
<rect x="263.7" y="70.8" width="2" height="2" fill="#1d3f7a"/>
<rect x="259.3" y="71.5" width="2" height="2" fill="#1d3f7a"/>
<rect x="261.3" y="70.5" width="2" height="2" fill="#1d3f7a"/>
<rect x="263.1" y="72.0" width="2" height="2" fill="#1d3f7a"/>
<line x1="262.30" y1="69.00" x2="262.30" y2="73.50" stroke="#1d3f7a" stroke-width="0.8"/>
<line x1="260.10" y1="69.00" x2="264.50" y2="69.00" stroke="#1d3f7a" stroke-width="0.8"/>
<line x1="260.10" y1="73.50" x2="264.50" y2="73.50" stroke="#1d3f7a" stroke-width="0.8"/>
<line x1="237.70" y1="81.30" x2="270.00" y2="81.30" stroke="#333" stroke-width="1.3"/>
<line x1="247.90" y1="81.30" x2="247.90" y2="83.80" stroke="#333" stroke-width="1"/>
<line x1="262.30" y1="81.30" x2="262.30" y2="83.80" stroke="#333" stroke-width="1"/>
<line x1="248.00" y1="35.40" x2="262.50" y2="35.40" stroke="#333" stroke-width="0.9"/>
<text x="255.25" y="35.699999999999996" font-size="5.6" text-anchor="middle" fill="#222" font-weight="bold" >****</text>
<text x="247.9" y="92.2" font-size="6.8" text-anchor="middle" fill="#cc4a66" font-weight="normal" >fl/fl</text>
<text x="262.3" y="92.2" font-size="6.8" text-anchor="middle" fill="#3a64a0" font-weight="normal" >KO</text>
<line x1="301.30" y1="31.30" x2="301.30" y2="81.90" stroke="#333" stroke-width="1.3"/>
<line x1="298.50" y1="36.30" x2="301.30" y2="36.30" stroke="#333" stroke-width="1"/>
<text x="296.1" y="38.8" font-size="6.7" text-anchor="end" fill="#333" font-weight="normal" >20</text>
<line x1="298.50" y1="47.40" x2="301.30" y2="47.40" stroke="#333" stroke-width="1"/>
<text x="296.1" y="49.9" font-size="6.7" text-anchor="end" fill="#333" font-weight="normal" >15</text>
<line x1="298.50" y1="58.60" x2="301.30" y2="58.60" stroke="#333" stroke-width="1"/>
<text x="296.1" y="61.1" font-size="6.7" text-anchor="end" fill="#333" font-weight="normal" >10</text>
<line x1="298.50" y1="69.90" x2="301.30" y2="69.90" stroke="#333" stroke-width="1"/>
<text x="296.1" y="72.4" font-size="6.7" text-anchor="end" fill="#333" font-weight="normal" >5</text>
<line x1="298.50" y1="81.00" x2="301.30" y2="81.00" stroke="#333" stroke-width="1"/>
<text x="296.1" y="83.5" font-size="6.7" text-anchor="end" fill="#333" font-weight="normal" >0</text>
<rect x="305.70" y="47.00" width="9.80" height="34.30" fill="#f0a593" stroke="#e28a84" stroke-width="0.5" />
<line x1="310.60" y1="39.50" x2="310.60" y2="55.00" stroke="#cc1838" stroke-width="0.8"/>
<line x1="308.40" y1="39.50" x2="312.80" y2="39.50" stroke="#cc1838" stroke-width="0.8"/>
<line x1="308.40" y1="55.00" x2="312.80" y2="55.00" stroke="#cc1838" stroke-width="0.8"/>
<circle cx="308.94" cy="39.50" r="1.0" fill="#cc1838" stroke="none" stroke-width="0.5"/>
<circle cx="310.60" cy="45.00" r="1.0" fill="#cc1838" stroke="none" stroke-width="0.5"/>
<circle cx="312.44" cy="49.00" r="1.0" fill="#cc1838" stroke="none" stroke-width="0.5"/>
<circle cx="308.30" cy="52.00" r="1.0" fill="#cc1838" stroke="none" stroke-width="0.5"/>
<circle cx="310.32" cy="54.00" r="1.0" fill="#cc1838" stroke="none" stroke-width="0.5"/>
<circle cx="312.93" cy="57.00" r="1.0" fill="#cc1838" stroke="none" stroke-width="0.5"/>
<rect x="320.20" y="70.00" width="9.80" height="11.30" fill="#adbbde" stroke="#8c9fcc" stroke-width="0.5" />
<rect x="322.4" y="65.5" width="2" height="2" fill="#1d3f7a"/>
<rect x="324.6" y="67.0" width="2" height="2" fill="#1d3f7a"/>
<rect x="326.5" y="68.0" width="2" height="2" fill="#1d3f7a"/>
<rect x="322.3" y="69.5" width="2" height="2" fill="#1d3f7a"/>
<rect x="324.4" y="70.5" width="2" height="2" fill="#1d3f7a"/>
<rect x="326.3" y="71.5" width="2" height="2" fill="#1d3f7a"/>
<line x1="300.70" y1="81.30" x2="333.00" y2="81.30" stroke="#333" stroke-width="1.3"/>
<line x1="310.60" y1="81.30" x2="310.60" y2="83.80" stroke="#333" stroke-width="1"/>
<line x1="325.10" y1="81.30" x2="325.10" y2="83.80" stroke="#333" stroke-width="1"/>
<line x1="310.40" y1="34.70" x2="324.60" y2="34.70" stroke="#333" stroke-width="0.9"/>
<text x="317.5" y="35.0" font-size="5.6" text-anchor="middle" fill="#222" font-weight="bold" >****</text>
<text x="310.6" y="92.2" font-size="6.8" text-anchor="middle" fill="#cc4a66" font-weight="normal" >fl/fl</text>
<text x="325.1" y="92.2" font-size="6.8" text-anchor="middle" fill="#3a64a0" font-weight="normal" >KO</text>
<text x="220.4" y="134.3" font-size="6.8" font-weight="bold" text-anchor="middle" fill="#2a2a2a" transform="rotate(-90 220.4 134.3)" textLength="27" lengthAdjust="spacingAndGlyphs">MFI (&#215;10<tspan font-size="4.5" dy="-2.4">3</tspan><tspan dy="2.4">)</tspan></text>
<line x1="238.20" y1="110.00" x2="238.20" y2="160.60" stroke="#333" stroke-width="1.3"/>
<line x1="235.40" y1="118.70" x2="238.20" y2="118.70" stroke="#333" stroke-width="1"/>
<text x="233.0" y="121.2" font-size="6.7" text-anchor="end" fill="#333" font-weight="normal" >10</text>
<line x1="235.40" y1="139.50" x2="238.20" y2="139.50" stroke="#333" stroke-width="1"/>
<text x="233.0" y="142.0" font-size="6.7" text-anchor="end" fill="#333" font-weight="normal" >5</text>
<line x1="235.40" y1="160.00" x2="238.20" y2="160.00" stroke="#333" stroke-width="1"/>
<text x="233.0" y="162.5" font-size="6.7" text-anchor="end" fill="#333" font-weight="normal" >0</text>
<rect x="243.00" y="121.70" width="9.80" height="38.60" fill="#f0a593" stroke="#e28a84" stroke-width="0.5" />
<line x1="247.90" y1="119.50" x2="247.90" y2="127.50" stroke="#cc1838" stroke-width="0.8"/>
<line x1="245.70" y1="119.50" x2="250.10" y2="119.50" stroke="#cc1838" stroke-width="0.8"/>
<line x1="245.70" y1="127.50" x2="250.10" y2="127.50" stroke="#cc1838" stroke-width="0.8"/>
<circle cx="246.21" cy="118.50" r="1.0" fill="#cc1838" stroke="none" stroke-width="0.5"/>
<circle cx="248.20" cy="121.50" r="1.0" fill="#cc1838" stroke="none" stroke-width="0.5"/>
<circle cx="249.58" cy="123.50" r="1.0" fill="#cc1838" stroke="none" stroke-width="0.5"/>
<circle cx="246.21" cy="125.50" r="1.0" fill="#cc1838" stroke="none" stroke-width="0.5"/>
<circle cx="247.70" cy="127.00" r="1.0" fill="#cc1838" stroke="none" stroke-width="0.5"/>
<circle cx="249.64" cy="133.00" r="1.0" fill="#cc1838" stroke="none" stroke-width="0.5"/>
<rect x="257.60" y="150.50" width="9.20" height="9.80" fill="#adbbde" stroke="#8c9fcc" stroke-width="0.5" />
<rect x="259.6" y="147.5" width="2" height="2" fill="#1d3f7a"/>
<rect x="260.7" y="148.5" width="2" height="2" fill="#1d3f7a"/>
<rect x="263.2" y="149.5" width="2" height="2" fill="#1d3f7a"/>
<rect x="259.0" y="150.0" width="2" height="2" fill="#1d3f7a"/>
<rect x="261.5" y="150.5" width="2" height="2" fill="#1d3f7a"/>
<rect x="263.3" y="151.0" width="2" height="2" fill="#1d3f7a"/>
<line x1="237.60" y1="160.30" x2="270.00" y2="160.30" stroke="#333" stroke-width="1.3"/>
<line x1="247.90" y1="160.30" x2="247.90" y2="162.80" stroke="#333" stroke-width="1"/>
<line x1="262.20" y1="160.30" x2="262.20" y2="162.80" stroke="#333" stroke-width="1"/>
<line x1="247.60" y1="114.00" x2="262.00" y2="114.00" stroke="#333" stroke-width="0.9"/>
<text x="254.8" y="114.3" font-size="5.6" text-anchor="middle" fill="#222" font-weight="bold" >****</text>
<text x="247.9" y="171.2" font-size="6.8" text-anchor="middle" fill="#cc4a66" font-weight="normal" >fl/fl</text>
<text x="262.2" y="171.2" font-size="6.8" text-anchor="middle" fill="#3a64a0" font-weight="normal" >KO</text>
<line x1="301.20" y1="110.00" x2="301.20" y2="160.60" stroke="#333" stroke-width="1.3"/>
<line x1="298.40" y1="118.70" x2="301.20" y2="118.70" stroke="#333" stroke-width="1"/>
<text x="296.0" y="121.2" font-size="6.7" text-anchor="end" fill="#333" font-weight="normal" >10</text>
<line x1="298.40" y1="139.50" x2="301.20" y2="139.50" stroke="#333" stroke-width="1"/>
<text x="296.0" y="142.0" font-size="6.7" text-anchor="end" fill="#333" font-weight="normal" >5</text>
<line x1="298.40" y1="160.00" x2="301.20" y2="160.00" stroke="#333" stroke-width="1"/>
<text x="296.0" y="162.5" font-size="6.7" text-anchor="end" fill="#333" font-weight="normal" >0</text>
<rect x="305.80" y="128.50" width="9.60" height="31.80" fill="#f0a593" stroke="#e28a84" stroke-width="0.5" />
<line x1="310.60" y1="122.40" x2="310.60" y2="138.00" stroke="#cc1838" stroke-width="0.8"/>
<line x1="308.40" y1="122.40" x2="312.80" y2="122.40" stroke="#cc1838" stroke-width="0.8"/>
<line x1="308.40" y1="138.00" x2="312.80" y2="138.00" stroke="#cc1838" stroke-width="0.8"/>
<circle cx="309.01" cy="118.60" r="1.0" fill="#cc1838" stroke="none" stroke-width="0.5"/>
<circle cx="311.03" cy="126.00" r="1.0" fill="#cc1838" stroke="none" stroke-width="0.5"/>
<circle cx="312.74" cy="130.00" r="1.0" fill="#cc1838" stroke="none" stroke-width="0.5"/>
<circle cx="308.16" cy="134.50" r="1.0" fill="#cc1838" stroke="none" stroke-width="0.5"/>
<circle cx="310.77" cy="137.00" r="1.0" fill="#cc1838" stroke="none" stroke-width="0.5"/>
<circle cx="312.21" cy="141.00" r="1.0" fill="#cc1838" stroke="none" stroke-width="0.5"/>
<rect x="320.30" y="149.00" width="9.20" height="11.30" fill="#adbbde" stroke="#8c9fcc" stroke-width="0.5" />
<rect x="322.4" y="146.5" width="2" height="2" fill="#1d3f7a"/>
<rect x="324.3" y="147.5" width="2" height="2" fill="#1d3f7a"/>
<rect x="325.7" y="148.5" width="2" height="2" fill="#1d3f7a"/>
<rect x="321.6" y="149.0" width="2" height="2" fill="#1d3f7a"/>
<rect x="324.1" y="150.0" width="2" height="2" fill="#1d3f7a"/>
<rect x="326.2" y="150.5" width="2" height="2" fill="#1d3f7a"/>
<line x1="300.60" y1="160.30" x2="332.50" y2="160.30" stroke="#333" stroke-width="1.3"/>
<line x1="310.60" y1="160.30" x2="310.60" y2="162.80" stroke="#333" stroke-width="1"/>
<line x1="324.90" y1="160.30" x2="324.90" y2="162.80" stroke="#333" stroke-width="1"/>
<line x1="310.40" y1="114.00" x2="324.40" y2="114.00" stroke="#333" stroke-width="0.9"/>
<text x="317.4" y="114.3" font-size="5.6" text-anchor="middle" fill="#222" font-weight="bold" >****</text>
<text x="310.6" y="171.2" font-size="6.8" text-anchor="middle" fill="#cc4a66" font-weight="normal" >fl/fl</text>
<text x="324.9" y="171.2" font-size="6.8" text-anchor="middle" fill="#3a64a0" font-weight="normal" >KO</text>
<text x="371.3" y="96" font-size="6.8" font-weight="bold" text-anchor="middle" fill="#2a2a2a" transform="rotate(-90 371.3 96)" textLength="17.8" lengthAdjust="spacingAndGlyphs">CD90.2</text>
<line x1="375.50" y1="163.40" x2="375.50" y2="33.30" stroke="#3a3a3a" stroke-width="1.2"/>
<path d="M372.5,36.3 L375.5,29.3 L378.5,36.3 L375.5,34.7 Z" fill="#111"/>
<line x1="374.90" y1="163.20" x2="509.60" y2="163.20" stroke="#2a2a2a" stroke-width="1.15"/>
<path d="M506.6,160.5 L513.6,163.2 L506.6,165.89999999999998 L508.20000000000005,163.2 Z" fill="#111"/>
<text x="444.5" y="173.0" font-size="6.6" text-anchor="middle" fill="#2a2a2a" font-weight="bold" textLength="17" lengthAdjust="spacingAndGlyphs">CD90.1</text>
<circle cx="424.9" cy="41.0" r="0.5" fill="#6b70c0" fill-opacity="0.3"/>
<circle cx="412.3" cy="41.2" r="0.5" fill="#5a60b5" fill-opacity="0.3"/>
<circle cx="421.0" cy="37.7" r="0.5" fill="#8a8fd0" fill-opacity="0.3"/>
<circle cx="398.0" cy="51.1" r="0.5" fill="#5a60b5" fill-opacity="0.3"/>
<circle cx="420.1" cy="51.5" r="0.5" fill="#8a8fd0" fill-opacity="0.3"/>
<circle cx="419.6" cy="44.8" r="0.5" fill="#6b70c0" fill-opacity="0.3"/>
<circle cx="419.2" cy="51.2" r="0.5" fill="#8a8fd0" fill-opacity="0.3"/>
<circle cx="410.2" cy="44.0" r="0.5" fill="#a0a4dc" fill-opacity="0.3"/>
<circle cx="405.3" cy="53.5" r="0.5" fill="#8a8fd0" fill-opacity="0.3"/>
<circle cx="406.5" cy="45.6" r="0.5" fill="#8a8fd0" fill-opacity="0.3"/>
<circle cx="411.4" cy="58.3" r="0.5" fill="#8a8fd0" fill-opacity="0.3"/>
<circle cx="415.6" cy="57.9" r="0.5" fill="#7c7fc4" fill-opacity="0.3"/>
<circle cx="414.8" cy="52.0" r="0.5" fill="#8a8fd0" fill-opacity="0.3"/>
<circle cx="413.8" cy="50.8" r="0.5" fill="#7c7fc4" fill-opacity="0.3"/>
<circle cx="417.9" cy="45.2" r="0.5" fill="#8a8fd0" fill-opacity="0.3"/>
<circle cx="419.1" cy="40.2" r="0.5" fill="#5a60b5" fill-opacity="0.3"/>
<circle cx="413.2" cy="42.0" r="0.5" fill="#a0a4dc" fill-opacity="0.3"/>
<circle cx="420.7" cy="49.8" r="0.5" fill="#6b70c0" fill-opacity="0.3"/>
<circle cx="409.6" cy="51.7" r="0.5" fill="#a0a4dc" fill-opacity="0.3"/>
<circle cx="422.2" cy="44.5" r="0.5" fill="#7c7fc4" fill-opacity="0.3"/>
<circle cx="421.2" cy="36.3" r="0.5" fill="#7c7fc4" fill-opacity="0.3"/>
<circle cx="410.1" cy="51.9" r="0.5" fill="#6b70c0" fill-opacity="0.3"/>
<circle cx="414.9" cy="36.6" r="0.5" fill="#8a8fd0" fill-opacity="0.3"/>
<circle cx="422.2" cy="46.6" r="0.5" fill="#5a60b5" fill-opacity="0.3"/>
<circle cx="413.5" cy="41.6" r="0.5" fill="#7c7fc4" fill-opacity="0.3"/>
<circle cx="418.8" cy="42.7" r="0.5" fill="#7c7fc4" fill-opacity="0.3"/>
<circle cx="414.5" cy="47.5" r="0.5" fill="#8a8fd0" fill-opacity="0.3"/>
<circle cx="422.9" cy="50.2" r="0.5" fill="#8a8fd0" fill-opacity="0.3"/>
<circle cx="411.1" cy="46.9" r="0.5" fill="#a0a4dc" fill-opacity="0.3"/>
<circle cx="414.9" cy="40.8" r="0.5" fill="#a0a4dc" fill-opacity="0.3"/>
<circle cx="417.4" cy="54.0" r="0.5" fill="#8a8fd0" fill-opacity="0.3"/>
<circle cx="411.1" cy="43.9" r="0.5" fill="#5a60b5" fill-opacity="0.3"/>
<circle cx="431.8" cy="36.2" r="0.5" fill="#6b70c0" fill-opacity="0.3"/>
<circle cx="428.3" cy="37.0" r="0.5" fill="#8a8fd0" fill-opacity="0.3"/>
<circle cx="414.8" cy="46.9" r="0.5" fill="#5a60b5" fill-opacity="0.3"/>
<circle cx="410.7" cy="44.3" r="0.5" fill="#6b70c0" fill-opacity="0.3"/>
<circle cx="423.5" cy="42.2" r="0.5" fill="#6b70c0" fill-opacity="0.3"/>
<circle cx="408.5" cy="54.2" r="0.5" fill="#7c7fc4" fill-opacity="0.3"/>
<circle cx="413.2" cy="48.9" r="0.5" fill="#7c7fc4" fill-opacity="0.3"/>
<circle cx="417.4" cy="46.7" r="0.5" fill="#5a60b5" fill-opacity="0.3"/>
<circle cx="410.7" cy="51.8" r="0.5" fill="#5a60b5" fill-opacity="0.3"/>
<circle cx="411.4" cy="42.2" r="0.5" fill="#6b70c0" fill-opacity="0.3"/>
<circle cx="427.4" cy="37.6" r="0.5" fill="#5a60b5" fill-opacity="0.3"/>
<circle cx="429.3" cy="38.5" r="0.5" fill="#8a8fd0" fill-opacity="0.3"/>
<circle cx="414.9" cy="47.8" r="0.5" fill="#7c7fc4" fill-opacity="0.3"/>
<circle cx="403.5" cy="49.3" r="0.5" fill="#6b70c0" fill-opacity="0.3"/>
<circle cx="418.2" cy="53.6" r="0.5" fill="#a0a4dc" fill-opacity="0.3"/>
<circle cx="409.5" cy="51.2" r="0.5" fill="#5a60b5" fill-opacity="0.3"/>
<circle cx="419.4" cy="49.4" r="0.5" fill="#6b70c0" fill-opacity="0.3"/>
<circle cx="408.7" cy="46.8" r="0.5" fill="#a0a4dc" fill-opacity="0.3"/>
<circle cx="412.5" cy="46.8" r="0.5" fill="#5a60b5" fill-opacity="0.3"/>
<circle cx="407.2" cy="46.7" r="0.5" fill="#5a60b5" fill-opacity="0.3"/>
<circle cx="409.5" cy="44.7" r="0.5" fill="#5a60b5" fill-opacity="0.3"/>
<circle cx="416.9" cy="44.6" r="0.5" fill="#6b70c0" fill-opacity="0.3"/>
<circle cx="415.1" cy="54.1" r="0.5" fill="#7c7fc4" fill-opacity="0.3"/>
<circle cx="407.0" cy="45.2" r="0.5" fill="#5a60b5" fill-opacity="0.3"/>
<circle cx="418.3" cy="49.0" r="0.5" fill="#7c7fc4" fill-opacity="0.3"/>
<circle cx="414.0" cy="41.5" r="0.5" fill="#a0a4dc" fill-opacity="0.3"/>
<circle cx="408.0" cy="48.7" r="0.5" fill="#5a60b5" fill-opacity="0.3"/>
<circle cx="412.9" cy="52.2" r="0.5" fill="#8a8fd0" fill-opacity="0.3"/>
<circle cx="410.6" cy="47.0" r="0.5" fill="#5a60b5" fill-opacity="0.3"/>
<circle cx="414.6" cy="58.4" r="0.5" fill="#5a60b5" fill-opacity="0.3"/>
<circle cx="424.9" cy="43.9" r="0.5" fill="#6b70c0" fill-opacity="0.3"/>
<circle cx="417.3" cy="41.6" r="0.5" fill="#7c7fc4" fill-opacity="0.3"/>
<circle cx="425.9" cy="40.0" r="0.5" fill="#a0a4dc" fill-opacity="0.3"/>
<circle cx="412.5" cy="41.9" r="0.5" fill="#a0a4dc" fill-opacity="0.3"/>
<circle cx="417.9" cy="52.5" r="0.5" fill="#5a60b5" fill-opacity="0.3"/>
<circle cx="393.7" cy="54.3" r="0.5" fill="#6b70c0" fill-opacity="0.3"/>
<circle cx="412.8" cy="41.7" r="0.5" fill="#7c7fc4" fill-opacity="0.3"/>
<circle cx="420.2" cy="42.9" r="0.5" fill="#7c7fc4" fill-opacity="0.3"/>
<circle cx="409.7" cy="59.5" r="0.5" fill="#a0a4dc" fill-opacity="0.3"/>
<circle cx="422.6" cy="48.6" r="0.5" fill="#5a60b5" fill-opacity="0.3"/>
<circle cx="410.9" cy="45.7" r="0.5" fill="#5a60b5" fill-opacity="0.3"/>
<circle cx="413.1" cy="46.0" r="0.5" fill="#8a8fd0" fill-opacity="0.3"/>
<circle cx="407.5" cy="52.3" r="0.5" fill="#5a60b5" fill-opacity="0.3"/>
<circle cx="397.4" cy="51.2" r="0.5" fill="#a0a4dc" fill-opacity="0.3"/>
<circle cx="413.5" cy="48.3" r="0.5" fill="#8a8fd0" fill-opacity="0.3"/>
<circle cx="414.8" cy="53.9" r="0.5" fill="#a0a4dc" fill-opacity="0.3"/>
<circle cx="416.9" cy="41.8" r="0.5" fill="#a0a4dc" fill-opacity="0.3"/>
<circle cx="423.0" cy="47.6" r="0.5" fill="#7c7fc4" fill-opacity="0.3"/>
<circle cx="422.4" cy="43.6" r="0.5" fill="#5a60b5" fill-opacity="0.3"/>
<circle cx="420.3" cy="47.3" r="0.5" fill="#7c7fc4" fill-opacity="0.3"/>
<circle cx="416.5" cy="49.0" r="0.5" fill="#8a8fd0" fill-opacity="0.3"/>
<circle cx="422.3" cy="39.4" r="0.5" fill="#8a8fd0" fill-opacity="0.3"/>
<circle cx="413.4" cy="44.0" r="0.5" fill="#5a60b5" fill-opacity="0.3"/>
<circle cx="425.0" cy="43.8" r="0.5" fill="#a0a4dc" fill-opacity="0.3"/>
<circle cx="417.3" cy="43.1" r="0.5" fill="#a0a4dc" fill-opacity="0.3"/>
<circle cx="411.6" cy="44.6" r="0.5" fill="#6b70c0" fill-opacity="0.3"/>
<circle cx="419.0" cy="38.6" r="0.5" fill="#8a8fd0" fill-opacity="0.3"/>
<circle cx="404.5" cy="55.5" r="0.5" fill="#7c7fc4" fill-opacity="0.3"/>
<circle cx="416.0" cy="51.9" r="0.5" fill="#a0a4dc" fill-opacity="0.3"/>
<circle cx="417.5" cy="48.9" r="0.5" fill="#7c7fc4" fill-opacity="0.3"/>
<circle cx="413.6" cy="53.8" r="0.5" fill="#a0a4dc" fill-opacity="0.3"/>
<circle cx="414.8" cy="37.3" r="0.5" fill="#6b70c0" fill-opacity="0.3"/>
<circle cx="418.8" cy="35.5" r="0.5" fill="#6b70c0" fill-opacity="0.3"/>
<circle cx="406.3" cy="52.6" r="0.5" fill="#a0a4dc" fill-opacity="0.3"/>
<circle cx="422.4" cy="52.6" r="0.5" fill="#6b70c0" fill-opacity="0.3"/>
<circle cx="412.9" cy="48.2" r="0.5" fill="#5a60b5" fill-opacity="0.3"/>
<circle cx="414.3" cy="45.8" r="0.5" fill="#8a8fd0" fill-opacity="0.3"/>
<circle cx="413.5" cy="40.5" r="0.5" fill="#7c7fc4" fill-opacity="0.3"/>
<circle cx="421.7" cy="43.9" r="0.5" fill="#7c7fc4" fill-opacity="0.3"/>
<circle cx="407.5" cy="61.8" r="0.5" fill="#7c7fc4" fill-opacity="0.3"/>
<circle cx="408.1" cy="49.6" r="0.5" fill="#8a8fd0" fill-opacity="0.3"/>
<circle cx="404.0" cy="57.9" r="0.5" fill="#7c7fc4" fill-opacity="0.3"/>
<circle cx="419.2" cy="48.0" r="0.5" fill="#6b70c0" fill-opacity="0.3"/>
<circle cx="411.6" cy="44.7" r="0.5" fill="#5a60b5" fill-opacity="0.3"/>
<circle cx="414.9" cy="43.6" r="0.5" fill="#8a8fd0" fill-opacity="0.3"/>
<circle cx="412.6" cy="51.6" r="0.5" fill="#6b70c0" fill-opacity="0.3"/>
<circle cx="419.8" cy="42.4" r="0.5" fill="#8a8fd0" fill-opacity="0.3"/>
<circle cx="421.5" cy="43.8" r="0.5" fill="#7c7fc4" fill-opacity="0.3"/>
<circle cx="418.4" cy="47.6" r="0.5" fill="#6b70c0" fill-opacity="0.3"/>
<circle cx="418.0" cy="40.9" r="0.5" fill="#7c7fc4" fill-opacity="0.3"/>
<circle cx="420.9" cy="49.3" r="0.5" fill="#7c7fc4" fill-opacity="0.3"/>
<circle cx="415.6" cy="41.6" r="0.5" fill="#7c7fc4" fill-opacity="0.3"/>
<circle cx="419.4" cy="53.3" r="0.5" fill="#a0a4dc" fill-opacity="0.3"/>
<circle cx="407.3" cy="50.8" r="0.5" fill="#7c7fc4" fill-opacity="0.3"/>
<circle cx="390.3" cy="52.4" r="0.5" fill="#6b70c0" fill-opacity="0.3"/>
<circle cx="415.6" cy="50.4" r="0.5" fill="#5a60b5" fill-opacity="0.3"/>
<circle cx="428.3" cy="41.4" r="0.5" fill="#7c7fc4" fill-opacity="0.3"/>
<circle cx="407.7" cy="52.3" r="0.5" fill="#a0a4dc" fill-opacity="0.3"/>
<circle cx="421.7" cy="36.7" r="0.5" fill="#5a60b5" fill-opacity="0.3"/>
<circle cx="408.1" cy="43.2" r="0.5" fill="#5a60b5" fill-opacity="0.3"/>
<circle cx="423.6" cy="45.3" r="0.5" fill="#6b70c0" fill-opacity="0.3"/>
<circle cx="427.1" cy="30.4" r="0.5" fill="#6b70c0" fill-opacity="0.3"/>
<circle cx="420.7" cy="45.4" r="0.5" fill="#a0a4dc" fill-opacity="0.3"/>
<circle cx="406.5" cy="49.8" r="0.5" fill="#a0a4dc" fill-opacity="0.3"/>
<circle cx="421.4" cy="44.4" r="0.5" fill="#a0a4dc" fill-opacity="0.3"/>
<circle cx="418.0" cy="45.1" r="0.5" fill="#8a8fd0" fill-opacity="0.3"/>
<circle cx="419.4" cy="44.8" r="0.5" fill="#5a60b5" fill-opacity="0.3"/>
<circle cx="409.5" cy="42.0" r="0.5" fill="#5a60b5" fill-opacity="0.3"/>
<circle cx="398.1" cy="51.6" r="0.5" fill="#5a60b5" fill-opacity="0.3"/>
<circle cx="406.5" cy="48.1" r="0.5" fill="#8a8fd0" fill-opacity="0.3"/>
<circle cx="410.9" cy="47.6" r="0.5" fill="#5a60b5" fill-opacity="0.3"/>
<circle cx="413.7" cy="44.0" r="0.5" fill="#5a60b5" fill-opacity="0.3"/>
<circle cx="419.0" cy="49.8" r="0.5" fill="#7c7fc4" fill-opacity="0.3"/>
<circle cx="418.0" cy="32.0" r="0.5" fill="#7c7fc4" fill-opacity="0.3"/>
<circle cx="420.4" cy="44.4" r="0.5" fill="#6b70c0" fill-opacity="0.3"/>
<circle cx="410.2" cy="47.2" r="0.5" fill="#a0a4dc" fill-opacity="0.3"/>
<circle cx="410.6" cy="59.5" r="0.5" fill="#7c7fc4" fill-opacity="0.3"/>
<circle cx="395.4" cy="55.4" r="0.5" fill="#6b70c0" fill-opacity="0.3"/>
<circle cx="417.9" cy="54.0" r="0.5" fill="#6b70c0" fill-opacity="0.3"/>
<circle cx="414.8" cy="45.4" r="0.5" fill="#8a8fd0" fill-opacity="0.3"/>
<circle cx="410.5" cy="41.8" r="0.5" fill="#6b70c0" fill-opacity="0.3"/>
<circle cx="405.2" cy="46.2" r="0.5" fill="#5a60b5" fill-opacity="0.3"/>
<circle cx="398.3" cy="44.9" r="0.5" fill="#a0a4dc" fill-opacity="0.3"/>
<circle cx="422.9" cy="38.1" r="0.5" fill="#a0a4dc" fill-opacity="0.3"/>
<circle cx="406.8" cy="46.3" r="0.5" fill="#8a8fd0" fill-opacity="0.3"/>
<circle cx="418.0" cy="42.2" r="0.5" fill="#a0a4dc" fill-opacity="0.3"/>
<circle cx="409.4" cy="54.3" r="0.5" fill="#5a60b5" fill-opacity="0.3"/>
<circle cx="396.9" cy="56.9" r="0.5" fill="#6b70c0" fill-opacity="0.3"/>
<circle cx="409.7" cy="47.6" r="0.5" fill="#6b70c0" fill-opacity="0.3"/>
<circle cx="413.5" cy="46.1" r="0.5" fill="#6b70c0" fill-opacity="0.3"/>
<circle cx="411.1" cy="44.5" r="0.5" fill="#8a8fd0" fill-opacity="0.3"/>
<circle cx="425.4" cy="40.5" r="0.5" fill="#5a60b5" fill-opacity="0.3"/>
<circle cx="420.3" cy="42.4" r="0.5" fill="#8a8fd0" fill-opacity="0.3"/>
<circle cx="423.8" cy="44.2" r="0.5" fill="#5a60b5" fill-opacity="0.3"/>
<circle cx="420.2" cy="46.6" r="0.5" fill="#8a8fd0" fill-opacity="0.3"/>
<circle cx="436.1" cy="38.0" r="0.5" fill="#a0a4dc" fill-opacity="0.3"/>
<circle cx="408.0" cy="48.9" r="0.5" fill="#7c7fc4" fill-opacity="0.3"/>
<circle cx="407.2" cy="45.9" r="0.5" fill="#6b70c0" fill-opacity="0.3"/>
<circle cx="407.0" cy="51.1" r="0.5" fill="#7c7fc4" fill-opacity="0.3"/>
<circle cx="408.4" cy="46.7" r="0.5" fill="#5a60b5" fill-opacity="0.3"/>
<circle cx="414.1" cy="45.5" r="0.5" fill="#8a8fd0" fill-opacity="0.3"/>
<circle cx="421.5" cy="46.8" r="0.5" fill="#6b70c0" fill-opacity="0.3"/>
<circle cx="418.5" cy="39.5" r="0.5" fill="#6b70c0" fill-opacity="0.3"/>
<circle cx="412.9" cy="40.4" r="0.5" fill="#8a8fd0" fill-opacity="0.3"/>
<circle cx="414.3" cy="48.6" r="0.5" fill="#a0a4dc" fill-opacity="0.3"/>
<circle cx="416.8" cy="47.0" r="0.5" fill="#8a8fd0" fill-opacity="0.3"/>
<circle cx="418.7" cy="51.8" r="0.5" fill="#6b70c0" fill-opacity="0.3"/>
<circle cx="417.5" cy="46.3" r="0.5" fill="#a0a4dc" fill-opacity="0.3"/>
<circle cx="400.0" cy="48.5" r="0.5" fill="#8a8fd0" fill-opacity="0.3"/>
<circle cx="410.3" cy="47.5" r="0.5" fill="#6b70c0" fill-opacity="0.3"/>
<circle cx="417.4" cy="47.7" r="0.5" fill="#6b70c0" fill-opacity="0.3"/>
<circle cx="424.1" cy="44.6" r="0.5" fill="#8a8fd0" fill-opacity="0.3"/>
<circle cx="421.7" cy="48.4" r="0.5" fill="#5a60b5" fill-opacity="0.3"/>
<circle cx="410.5" cy="51.7" r="0.5" fill="#7c7fc4" fill-opacity="0.3"/>
<circle cx="416.0" cy="46.6" r="0.5" fill="#a0a4dc" fill-opacity="0.3"/>
<circle cx="425.4" cy="42.9" r="0.5" fill="#6b70c0" fill-opacity="0.3"/>
<circle cx="416.7" cy="35.5" r="0.5" fill="#5a60b5" fill-opacity="0.3"/>
<circle cx="420.8" cy="39.7" r="0.5" fill="#5a60b5" fill-opacity="0.3"/>
<circle cx="415.4" cy="50.4" r="0.5" fill="#6b70c0" fill-opacity="0.3"/>
<circle cx="425.1" cy="48.7" r="0.5" fill="#a0a4dc" fill-opacity="0.3"/>
<circle cx="417.9" cy="44.3" r="0.5" fill="#8a8fd0" fill-opacity="0.3"/>
<circle cx="416.4" cy="50.1" r="0.5" fill="#6b70c0" fill-opacity="0.3"/>
<circle cx="411.9" cy="40.2" r="0.5" fill="#6b70c0" fill-opacity="0.3"/>
<circle cx="402.7" cy="46.6" r="0.5" fill="#a0a4dc" fill-opacity="0.3"/>
<circle cx="414.7" cy="44.7" r="0.5" fill="#8a8fd0" fill-opacity="0.3"/>
<circle cx="410.5" cy="39.7" r="0.5" fill="#a0a4dc" fill-opacity="0.3"/>
<circle cx="404.8" cy="48.4" r="0.5" fill="#7c7fc4" fill-opacity="0.3"/>
<circle cx="421.2" cy="39.8" r="0.5" fill="#a0a4dc" fill-opacity="0.3"/>
<circle cx="428.8" cy="39.5" r="0.5" fill="#a0a4dc" fill-opacity="0.3"/>
<circle cx="418.8" cy="44.2" r="0.5" fill="#5a60b5" fill-opacity="0.3"/>
<circle cx="412.3" cy="48.4" r="0.5" fill="#8a8fd0" fill-opacity="0.3"/>
<circle cx="407.8" cy="53.2" r="0.5" fill="#6b70c0" fill-opacity="0.3"/>
<circle cx="413.5" cy="53.5" r="0.5" fill="#6b70c0" fill-opacity="0.3"/>
<circle cx="417.0" cy="52.8" r="0.5" fill="#8a8fd0" fill-opacity="0.3"/>
<circle cx="416.6" cy="50.5" r="0.5" fill="#7c7fc4" fill-opacity="0.3"/>
<circle cx="423.9" cy="50.7" r="0.5" fill="#6b70c0" fill-opacity="0.3"/>
<circle cx="410.1" cy="53.9" r="0.5" fill="#8a8fd0" fill-opacity="0.3"/>
<circle cx="425.4" cy="46.2" r="0.5" fill="#a0a4dc" fill-opacity="0.3"/>
<circle cx="408.6" cy="46.1" r="0.5" fill="#7c7fc4" fill-opacity="0.3"/>
<circle cx="413.1" cy="46.6" r="0.5" fill="#6b70c0" fill-opacity="0.3"/>
<circle cx="415.5" cy="43.8" r="0.5" fill="#5a60b5" fill-opacity="0.3"/>
<circle cx="422.0" cy="34.4" r="0.5" fill="#5a60b5" fill-opacity="0.3"/>
<circle cx="416.8" cy="52.0" r="0.5" fill="#6b70c0" fill-opacity="0.3"/>
<circle cx="413.8" cy="54.7" r="0.5" fill="#5a60b5" fill-opacity="0.3"/>
<circle cx="405.1" cy="50.5" r="0.5" fill="#6b70c0" fill-opacity="0.3"/>
<circle cx="423.9" cy="46.7" r="0.5" fill="#8a8fd0" fill-opacity="0.3"/>
<circle cx="405.1" cy="56.5" r="0.5" fill="#7c7fc4" fill-opacity="0.3"/>
<circle cx="411.6" cy="42.5" r="0.5" fill="#a0a4dc" fill-opacity="0.3"/>
<circle cx="417.6" cy="45.2" r="0.5" fill="#8a8fd0" fill-opacity="0.3"/>
<circle cx="418.4" cy="44.0" r="0.5" fill="#a0a4dc" fill-opacity="0.3"/>
<circle cx="409.4" cy="44.3" r="0.5" fill="#a0a4dc" fill-opacity="0.3"/>
<circle cx="417.3" cy="45.0" r="0.5" fill="#8a8fd0" fill-opacity="0.3"/>
<circle cx="412.2" cy="48.7" r="0.5" fill="#7c7fc4" fill-opacity="0.3"/>
<circle cx="417.3" cy="47.1" r="0.5" fill="#7c7fc4" fill-opacity="0.3"/>
<circle cx="414.2" cy="49.0" r="0.5" fill="#a0a4dc" fill-opacity="0.3"/>
<circle cx="420.3" cy="41.8" r="0.5" fill="#a0a4dc" fill-opacity="0.3"/>
<circle cx="420.3" cy="40.0" r="0.5" fill="#7c7fc4" fill-opacity="0.3"/>
<circle cx="416.1" cy="47.9" r="0.5" fill="#7c7fc4" fill-opacity="0.3"/>
<circle cx="420.8" cy="43.2" r="0.5" fill="#a0a4dc" fill-opacity="0.3"/>
<circle cx="408.3" cy="46.4" r="0.5" fill="#8a8fd0" fill-opacity="0.3"/>
<circle cx="403.8" cy="56.2" r="0.5" fill="#5a60b5" fill-opacity="0.3"/>
<circle cx="407.1" cy="47.7" r="0.5" fill="#7c7fc4" fill-opacity="0.3"/>
<circle cx="416.8" cy="51.8" r="0.5" fill="#a0a4dc" fill-opacity="0.3"/>
<circle cx="405.1" cy="47.7" r="0.5" fill="#a0a4dc" fill-opacity="0.3"/>
<circle cx="425.2" cy="44.4" r="0.5" fill="#5a60b5" fill-opacity="0.3"/>
<circle cx="415.8" cy="41.9" r="0.5" fill="#5a60b5" fill-opacity="0.3"/>
<circle cx="423.7" cy="39.2" r="0.5" fill="#a0a4dc" fill-opacity="0.3"/>
<circle cx="418.9" cy="46.0" r="0.5" fill="#5a60b5" fill-opacity="0.3"/>
<circle cx="396.6" cy="54.1" r="0.5" fill="#6b70c0" fill-opacity="0.3"/>
<circle cx="407.6" cy="52.9" r="0.5" fill="#8a8fd0" fill-opacity="0.3"/>
<circle cx="403.7" cy="48.0" r="0.5" fill="#5a60b5" fill-opacity="0.3"/>
<circle cx="410.3" cy="46.0" r="0.5" fill="#5a60b5" fill-opacity="0.3"/>
<circle cx="418.2" cy="43.1" r="0.5" fill="#8a8fd0" fill-opacity="0.3"/>
<circle cx="419.6" cy="44.5" r="0.5" fill="#6b70c0" fill-opacity="0.3"/>
<circle cx="418.7" cy="46.8" r="0.5" fill="#8a8fd0" fill-opacity="0.3"/>
<circle cx="411.1" cy="47.8" r="0.5" fill="#a0a4dc" fill-opacity="0.3"/>
<circle cx="407.1" cy="53.2" r="0.5" fill="#8a8fd0" fill-opacity="0.3"/>
<circle cx="415.5" cy="48.1" r="0.5" fill="#6b70c0" fill-opacity="0.3"/>
<circle cx="413.2" cy="48.7" r="0.5" fill="#7c7fc4" fill-opacity="0.3"/>
<circle cx="425.9" cy="42.6" r="0.5" fill="#5a60b5" fill-opacity="0.3"/>
<circle cx="404.9" cy="58.4" r="0.5" fill="#6b70c0" fill-opacity="0.3"/>
<circle cx="418.8" cy="35.6" r="0.5" fill="#6b70c0" fill-opacity="0.3"/>
<circle cx="409.7" cy="50.4" r="0.5" fill="#5a60b5" fill-opacity="0.3"/>
<circle cx="420.7" cy="50.5" r="0.5" fill="#8a8fd0" fill-opacity="0.3"/>
<circle cx="412.2" cy="49.7" r="0.5" fill="#5a60b5" fill-opacity="0.3"/>
<circle cx="409.6" cy="46.9" r="0.5" fill="#5a60b5" fill-opacity="0.3"/>
<circle cx="423.6" cy="37.4" r="0.5" fill="#8a8fd0" fill-opacity="0.3"/>
<circle cx="416.1" cy="43.1" r="0.5" fill="#7c7fc4" fill-opacity="0.3"/>
<circle cx="406.2" cy="51.0" r="0.5" fill="#a0a4dc" fill-opacity="0.3"/>
<circle cx="417.9" cy="51.4" r="0.5" fill="#a0a4dc" fill-opacity="0.3"/>
<circle cx="420.1" cy="39.6" r="0.5" fill="#a0a4dc" fill-opacity="0.3"/>
<circle cx="413.9" cy="43.1" r="0.5" fill="#5a60b5" fill-opacity="0.3"/>
<circle cx="423.2" cy="34.3" r="0.5" fill="#6b70c0" fill-opacity="0.3"/>
<circle cx="412.1" cy="49.0" r="0.5" fill="#8a8fd0" fill-opacity="0.3"/>
<circle cx="417.4" cy="49.1" r="0.5" fill="#5a60b5" fill-opacity="0.3"/>
<circle cx="405.2" cy="52.2" r="0.5" fill="#a0a4dc" fill-opacity="0.3"/>
<circle cx="416.9" cy="47.6" r="0.5" fill="#6b70c0" fill-opacity="0.3"/>
<circle cx="424.4" cy="40.8" r="0.5" fill="#6b70c0" fill-opacity="0.3"/>
<circle cx="424.9" cy="45.2" r="0.55" fill="#7c7fc4" fill-opacity="0.4"/>
<circle cx="413.8" cy="48.1" r="0.55" fill="#7c7fc4" fill-opacity="0.4"/>
<circle cx="418.9" cy="41.7" r="0.55" fill="#5a60b5" fill-opacity="0.4"/>
<circle cx="417.6" cy="51.9" r="0.55" fill="#a0a4dc" fill-opacity="0.4"/>
<circle cx="423.7" cy="40.4" r="0.55" fill="#8a8fd0" fill-opacity="0.4"/>
<circle cx="417.0" cy="46.7" r="0.55" fill="#a0a4dc" fill-opacity="0.4"/>
<circle cx="417.2" cy="48.2" r="0.55" fill="#6b70c0" fill-opacity="0.4"/>
<circle cx="420.7" cy="43.4" r="0.55" fill="#8a8fd0" fill-opacity="0.4"/>
<circle cx="421.8" cy="48.6" r="0.55" fill="#8a8fd0" fill-opacity="0.4"/>
<circle cx="422.2" cy="44.7" r="0.55" fill="#a0a4dc" fill-opacity="0.4"/>
<circle cx="414.8" cy="48.5" r="0.55" fill="#6b70c0" fill-opacity="0.4"/>
<circle cx="424.2" cy="42.8" r="0.55" fill="#8a8fd0" fill-opacity="0.4"/>
<circle cx="413.8" cy="50.8" r="0.55" fill="#5a60b5" fill-opacity="0.4"/>
<circle cx="425.0" cy="50.2" r="0.55" fill="#a0a4dc" fill-opacity="0.4"/>
<circle cx="413.6" cy="44.0" r="0.55" fill="#a0a4dc" fill-opacity="0.4"/>
<circle cx="424.7" cy="40.3" r="0.55" fill="#a0a4dc" fill-opacity="0.4"/>
<circle cx="419.7" cy="46.3" r="0.55" fill="#7c7fc4" fill-opacity="0.4"/>
<circle cx="419.8" cy="44.1" r="0.55" fill="#6b70c0" fill-opacity="0.4"/>
<circle cx="424.0" cy="43.9" r="0.55" fill="#8a8fd0" fill-opacity="0.4"/>
<circle cx="419.2" cy="42.9" r="0.55" fill="#8a8fd0" fill-opacity="0.4"/>
<circle cx="422.5" cy="48.9" r="0.55" fill="#5a60b5" fill-opacity="0.4"/>
<circle cx="420.3" cy="47.5" r="0.55" fill="#5a60b5" fill-opacity="0.4"/>
<circle cx="418.4" cy="49.4" r="0.55" fill="#6b70c0" fill-opacity="0.4"/>
<circle cx="418.5" cy="54.6" r="0.55" fill="#7c7fc4" fill-opacity="0.4"/>
<circle cx="423.7" cy="46.2" r="0.55" fill="#8a8fd0" fill-opacity="0.4"/>
<circle cx="424.9" cy="47.6" r="0.55" fill="#7c7fc4" fill-opacity="0.4"/>
<circle cx="424.3" cy="45.4" r="0.55" fill="#6b70c0" fill-opacity="0.4"/>
<circle cx="420.9" cy="49.3" r="0.55" fill="#a0a4dc" fill-opacity="0.4"/>
<circle cx="424.5" cy="37.7" r="0.55" fill="#5a60b5" fill-opacity="0.4"/>
<circle cx="416.3" cy="46.8" r="0.55" fill="#a0a4dc" fill-opacity="0.4"/>
<circle cx="418.4" cy="46.4" r="0.55" fill="#7c7fc4" fill-opacity="0.4"/>
<circle cx="422.3" cy="40.3" r="0.55" fill="#7c7fc4" fill-opacity="0.4"/>
<circle cx="413.4" cy="49.7" r="0.55" fill="#5a60b5" fill-opacity="0.4"/>
<circle cx="422.5" cy="46.0" r="0.55" fill="#8a8fd0" fill-opacity="0.4"/>
<circle cx="422.5" cy="37.7" r="0.55" fill="#a0a4dc" fill-opacity="0.4"/>
<circle cx="422.4" cy="46.3" r="0.55" fill="#6b70c0" fill-opacity="0.4"/>
<circle cx="417.2" cy="48.2" r="0.55" fill="#7c7fc4" fill-opacity="0.4"/>
<circle cx="420.1" cy="53.1" r="0.55" fill="#5a60b5" fill-opacity="0.4"/>
<circle cx="424.7" cy="43.1" r="0.55" fill="#8a8fd0" fill-opacity="0.4"/>
<circle cx="421.6" cy="44.2" r="0.55" fill="#a0a4dc" fill-opacity="0.4"/>
<circle cx="422.7" cy="50.9" r="0.55" fill="#7c7fc4" fill-opacity="0.4"/>
<circle cx="419.3" cy="45.2" r="0.55" fill="#a0a4dc" fill-opacity="0.4"/>
<circle cx="417.8" cy="48.4" r="0.55" fill="#5a60b5" fill-opacity="0.4"/>
<circle cx="421.6" cy="45.9" r="0.55" fill="#5a60b5" fill-opacity="0.4"/>
<circle cx="422.4" cy="46.2" r="0.55" fill="#6b70c0" fill-opacity="0.4"/>
<circle cx="415.5" cy="48.9" r="0.55" fill="#5a60b5" fill-opacity="0.4"/>
<circle cx="430.6" cy="38.3" r="0.55" fill="#5a60b5" fill-opacity="0.4"/>
<circle cx="416.1" cy="47.3" r="0.55" fill="#5a60b5" fill-opacity="0.4"/>
<circle cx="425.5" cy="47.8" r="0.55" fill="#5a60b5" fill-opacity="0.4"/>
<circle cx="422.0" cy="44.3" r="0.55" fill="#8a8fd0" fill-opacity="0.4"/>
<circle cx="419.3" cy="50.4" r="0.55" fill="#8a8fd0" fill-opacity="0.4"/>
<circle cx="422.5" cy="42.6" r="0.55" fill="#6b70c0" fill-opacity="0.4"/>
<circle cx="421.1" cy="45.1" r="0.55" fill="#a0a4dc" fill-opacity="0.4"/>
<circle cx="414.7" cy="46.7" r="0.55" fill="#a0a4dc" fill-opacity="0.4"/>
<circle cx="417.6" cy="50.6" r="0.55" fill="#5a60b5" fill-opacity="0.4"/>
<circle cx="418.2" cy="42.1" r="0.55" fill="#7c7fc4" fill-opacity="0.4"/>
<circle cx="415.5" cy="45.4" r="0.55" fill="#a0a4dc" fill-opacity="0.4"/>
<circle cx="425.1" cy="41.7" r="0.55" fill="#6b70c0" fill-opacity="0.4"/>
<circle cx="424.1" cy="44.5" r="0.55" fill="#a0a4dc" fill-opacity="0.4"/>
<circle cx="423.2" cy="42.2" r="0.55" fill="#5a60b5" fill-opacity="0.4"/>
<circle cx="418.0" cy="46.4" r="0.55" fill="#a0a4dc" fill-opacity="0.4"/>
<circle cx="423.6" cy="44.6" r="0.55" fill="#a0a4dc" fill-opacity="0.4"/>
<circle cx="426.9" cy="45.3" r="0.55" fill="#8a8fd0" fill-opacity="0.4"/>
<circle cx="412.9" cy="49.2" r="0.55" fill="#5a60b5" fill-opacity="0.4"/>
<circle cx="420.1" cy="48.8" r="0.55" fill="#a0a4dc" fill-opacity="0.4"/>
<circle cx="426.4" cy="42.1" r="0.55" fill="#6b70c0" fill-opacity="0.4"/>
<circle cx="425.8" cy="48.3" r="0.55" fill="#8a8fd0" fill-opacity="0.4"/>
<circle cx="423.0" cy="47.8" r="0.55" fill="#5a60b5" fill-opacity="0.4"/>
<circle cx="418.0" cy="42.7" r="0.55" fill="#a0a4dc" fill-opacity="0.4"/>
<circle cx="424.7" cy="44.2" r="0.55" fill="#8a8fd0" fill-opacity="0.4"/>
<circle cx="414.8" cy="52.4" r="0.55" fill="#a0a4dc" fill-opacity="0.4"/>
<circle cx="421.2" cy="45.4" r="0.55" fill="#a0a4dc" fill-opacity="0.4"/>
<circle cx="410.6" cy="49.4" r="0.55" fill="#8a8fd0" fill-opacity="0.4"/>
<circle cx="430.2" cy="48.3" r="0.55" fill="#6b70c0" fill-opacity="0.4"/>
<circle cx="422.0" cy="44.2" r="0.55" fill="#5a60b5" fill-opacity="0.4"/>
<circle cx="420.9" cy="49.9" r="0.55" fill="#7c7fc4" fill-opacity="0.4"/>
<circle cx="418.2" cy="46.2" r="0.55" fill="#5a60b5" fill-opacity="0.4"/>
<circle cx="421.4" cy="42.5" r="0.55" fill="#8a8fd0" fill-opacity="0.4"/>
<circle cx="422.0" cy="53.1" r="0.55" fill="#5a60b5" fill-opacity="0.4"/>
<circle cx="419.6" cy="48.1" r="0.55" fill="#5a60b5" fill-opacity="0.4"/>
<circle cx="423.2" cy="45.4" r="0.55" fill="#7c7fc4" fill-opacity="0.4"/>
<circle cx="420.1" cy="49.1" r="0.55" fill="#8a8fd0" fill-opacity="0.4"/>
<circle cx="419.2" cy="44.5" r="0.55" fill="#a0a4dc" fill-opacity="0.4"/>
<circle cx="416.4" cy="48.9" r="0.55" fill="#7c7fc4" fill-opacity="0.4"/>
<circle cx="416.7" cy="48.9" r="0.55" fill="#5a60b5" fill-opacity="0.4"/>
<circle cx="417.4" cy="46.2" r="0.55" fill="#5a60b5" fill-opacity="0.4"/>
<circle cx="420.0" cy="45.4" r="0.55" fill="#7c7fc4" fill-opacity="0.4"/>
<circle cx="423.5" cy="45.0" r="0.55" fill="#a0a4dc" fill-opacity="0.4"/>
<circle cx="422.8" cy="46.8" r="0.55" fill="#5a60b5" fill-opacity="0.4"/>
<circle cx="414.0" cy="48.6" r="0.55" fill="#8a8fd0" fill-opacity="0.4"/>
<circle cx="419.4" cy="50.5" r="0.55" fill="#7c7fc4" fill-opacity="0.4"/>
<circle cx="423.8" cy="47.0" r="0.55" fill="#5a60b5" fill-opacity="0.4"/>
<circle cx="419.0" cy="43.2" r="0.55" fill="#5a60b5" fill-opacity="0.4"/>
<circle cx="424.1" cy="45.6" r="0.55" fill="#a0a4dc" fill-opacity="0.4"/>
<circle cx="414.1" cy="51.8" r="0.55" fill="#6b70c0" fill-opacity="0.4"/>
<circle cx="416.8" cy="46.1" r="0.55" fill="#7c7fc4" fill-opacity="0.4"/>
<circle cx="423.5" cy="39.8" r="0.55" fill="#7c7fc4" fill-opacity="0.4"/>
<circle cx="419.9" cy="40.4" r="0.55" fill="#8a8fd0" fill-opacity="0.4"/>
<circle cx="420.6" cy="40.5" r="0.55" fill="#7c7fc4" fill-opacity="0.4"/>
<circle cx="411.9" cy="49.1" r="0.55" fill="#8a8fd0" fill-opacity="0.4"/>
<circle cx="418.2" cy="47.3" r="0.55" fill="#8a8fd0" fill-opacity="0.4"/>
<circle cx="421.9" cy="44.6" r="0.55" fill="#7c7fc4" fill-opacity="0.4"/>
<circle cx="423.2" cy="52.0" r="0.55" fill="#5a60b5" fill-opacity="0.4"/>
<circle cx="425.7" cy="45.6" r="0.55" fill="#5a60b5" fill-opacity="0.4"/>
<circle cx="422.8" cy="44.7" r="0.55" fill="#5a60b5" fill-opacity="0.4"/>
<circle cx="422.5" cy="40.5" r="0.55" fill="#a0a4dc" fill-opacity="0.4"/>
<circle cx="423.3" cy="43.3" r="0.55" fill="#5a60b5" fill-opacity="0.4"/>
<circle cx="419.5" cy="46.1" r="0.55" fill="#7c7fc4" fill-opacity="0.4"/>
<circle cx="424.5" cy="45.0" r="0.55" fill="#6b70c0" fill-opacity="0.4"/>
<circle cx="420.2" cy="48.3" r="0.55" fill="#5a60b5" fill-opacity="0.4"/>
<circle cx="421.6" cy="44.9" r="0.55" fill="#5a60b5" fill-opacity="0.4"/>
<circle cx="425.0" cy="46.0" r="0.55" fill="#7c7fc4" fill-opacity="0.4"/>
<circle cx="423.7" cy="45.9" r="0.55" fill="#5a60b5" fill-opacity="0.4"/>
<circle cx="415.9" cy="50.0" r="0.55" fill="#6b70c0" fill-opacity="0.4"/>
<circle cx="411.1" cy="49.5" r="0.55" fill="#7c7fc4" fill-opacity="0.4"/>
<circle cx="422.0" cy="48.0" r="0.55" fill="#5a60b5" fill-opacity="0.4"/>
<circle cx="422.6" cy="42.6" r="0.55" fill="#a0a4dc" fill-opacity="0.4"/>
<circle cx="417.5" cy="46.5" r="0.55" fill="#8a8fd0" fill-opacity="0.4"/>
<circle cx="428.8" cy="45.7" r="0.55" fill="#8a8fd0" fill-opacity="0.4"/>
<circle cx="418.7" cy="46.6" r="0.55" fill="#8a8fd0" fill-opacity="0.4"/>
<circle cx="418.2" cy="40.8" r="0.55" fill="#a0a4dc" fill-opacity="0.4"/>
<circle cx="416.2" cy="49.0" r="0.55" fill="#a0a4dc" fill-opacity="0.4"/>
<circle cx="425.2" cy="41.6" r="0.55" fill="#5a60b5" fill-opacity="0.4"/>
<circle cx="423.7" cy="46.3" r="0.55" fill="#7c7fc4" fill-opacity="0.4"/>
<circle cx="416.5" cy="40.8" r="0.55" fill="#7c7fc4" fill-opacity="0.4"/>
<circle cx="417.3" cy="46.4" r="0.55" fill="#6b70c0" fill-opacity="0.4"/>
<circle cx="429.7" cy="46.6" r="0.55" fill="#6b70c0" fill-opacity="0.4"/>
<circle cx="425.6" cy="47.6" r="0.55" fill="#8a8fd0" fill-opacity="0.4"/>
<circle cx="426.5" cy="38.9" r="0.55" fill="#5a60b5" fill-opacity="0.4"/>
<circle cx="421.3" cy="40.3" r="0.55" fill="#7c7fc4" fill-opacity="0.4"/>
<circle cx="413.9" cy="45.2" r="0.55" fill="#8a8fd0" fill-opacity="0.4"/>
<circle cx="421.7" cy="45.9" r="0.55" fill="#5a60b5" fill-opacity="0.4"/>
<circle cx="425.4" cy="43.9" r="0.55" fill="#5a60b5" fill-opacity="0.4"/>
<circle cx="420.8" cy="44.4" r="0.55" fill="#a0a4dc" fill-opacity="0.4"/>
<circle cx="417.5" cy="45.7" r="0.55" fill="#8a8fd0" fill-opacity="0.4"/>
<circle cx="418.8" cy="44.4" r="0.55" fill="#5a60b5" fill-opacity="0.4"/>
<circle cx="418.3" cy="48.9" r="0.55" fill="#5a60b5" fill-opacity="0.4"/>
<circle cx="415.5" cy="53.1" r="0.55" fill="#8a8fd0" fill-opacity="0.4"/>
<circle cx="430.4" cy="47.2" r="0.55" fill="#6b70c0" fill-opacity="0.4"/>
<circle cx="420.4" cy="44.9" r="0.55" fill="#5a60b5" fill-opacity="0.4"/>
<ellipse cx="428.20" cy="43.30" rx="11.30" ry="4.30" fill="#a0a2e0" fill-opacity="0.85" stroke="#6a6ec0" stroke-width="0.5" transform="rotate(-43 428.20 43.30)"/>
<ellipse cx="428.20" cy="43.30" rx="9.40" ry="3.40" fill="#7c80d0" fill-opacity="1" stroke="#4a50b0" stroke-width="0.5" transform="rotate(-43 428.20 43.30)"/>
<ellipse cx="428.40" cy="43.30" rx="7.20" ry="2.60" fill="#6a74c0" fill-opacity="1" stroke="none" stroke-width="0.5" transform="rotate(-45 428.40 43.30)"/>
<ellipse cx="428.40" cy="43.50" rx="5.40" ry="1.90" fill="#8cc43a" fill-opacity="1" stroke="none" stroke-width="0.5" transform="rotate(-48 428.40 43.50)"/>
<ellipse cx="428.40" cy="43.50" rx="3.90" ry="1.30" fill="#acd428" fill-opacity="1" stroke="none" stroke-width="0.5" transform="rotate(-48 428.40 43.50)"/>
<ellipse cx="428.40" cy="43.50" rx="1.80" ry="0.80" fill="#dcdc3c" fill-opacity="1" stroke="none" stroke-width="0.5" transform="rotate(-48 428.40 43.50)"/>
<rect x="394.30" y="28.70" width="47.50" height="47.40" fill="none" stroke="#3a3a3a" stroke-width="0.8" />
<rect x="392.30" y="65.50" width="2.00" height="2.00" fill="#111" stroke="none" stroke-width="1" />
<rect x="403.80" y="76.10" width="2.00" height="2.00" fill="#111" stroke="none" stroke-width="1" />
<line x1="392.10" y1="33.40" x2="394.30" y2="33.40" stroke="#222" stroke-width="0.8"/>
<line x1="392.10" y1="44.20" x2="394.30" y2="44.20" stroke="#222" stroke-width="0.8"/>
<line x1="392.10" y1="56.20" x2="394.30" y2="56.20" stroke="#222" stroke-width="0.8"/>
<line x1="392.10" y1="66.50" x2="394.30" y2="66.50" stroke="#222" stroke-width="0.8"/>
<line x1="392.80" y1="40.95" x2="394.30" y2="40.95" stroke="#222" stroke-width="0.6"/>
<line x1="392.80" y1="39.05" x2="394.30" y2="39.05" stroke="#222" stroke-width="0.6"/>
<line x1="392.80" y1="37.70" x2="394.30" y2="37.70" stroke="#222" stroke-width="0.6"/>
<line x1="392.80" y1="36.65" x2="394.30" y2="36.65" stroke="#222" stroke-width="0.6"/>
<line x1="392.80" y1="35.80" x2="394.30" y2="35.80" stroke="#222" stroke-width="0.6"/>
<line x1="392.80" y1="35.07" x2="394.30" y2="35.07" stroke="#222" stroke-width="0.6"/>
<line x1="392.80" y1="34.45" x2="394.30" y2="34.45" stroke="#222" stroke-width="0.6"/>
<line x1="392.80" y1="33.89" x2="394.30" y2="33.89" stroke="#222" stroke-width="0.6"/>
<line x1="392.80" y1="52.59" x2="394.30" y2="52.59" stroke="#222" stroke-width="0.6"/>
<line x1="392.80" y1="50.47" x2="394.30" y2="50.47" stroke="#222" stroke-width="0.6"/>
<line x1="392.80" y1="48.98" x2="394.30" y2="48.98" stroke="#222" stroke-width="0.6"/>
<line x1="392.80" y1="47.81" x2="394.30" y2="47.81" stroke="#222" stroke-width="0.6"/>
<line x1="392.80" y1="46.86" x2="394.30" y2="46.86" stroke="#222" stroke-width="0.6"/>
<line x1="392.80" y1="46.06" x2="394.30" y2="46.06" stroke="#222" stroke-width="0.6"/>
<line x1="392.80" y1="45.36" x2="394.30" y2="45.36" stroke="#222" stroke-width="0.6"/>
<line x1="392.80" y1="44.75" x2="394.30" y2="44.75" stroke="#222" stroke-width="0.6"/>
<line x1="392.80" y1="60.00" x2="394.30" y2="60.00" stroke="#222" stroke-width="0.6"/>
<line x1="392.80" y1="61.30" x2="394.30" y2="61.30" stroke="#222" stroke-width="0.6"/>
<line x1="392.80" y1="62.60" x2="394.30" y2="62.60" stroke="#222" stroke-width="0.6"/>
<line x1="392.80" y1="63.90" x2="394.30" y2="63.90" stroke="#222" stroke-width="0.6"/>
<line x1="392.80" y1="65.20" x2="394.30" y2="65.20" stroke="#222" stroke-width="0.6"/>
<line x1="392.80" y1="66.50" x2="394.30" y2="66.50" stroke="#222" stroke-width="0.6"/>
<line x1="392.80" y1="67.80" x2="394.30" y2="67.80" stroke="#222" stroke-width="0.6"/>
<line x1="392.80" y1="69.10" x2="394.30" y2="69.10" stroke="#222" stroke-width="0.6"/>
<line x1="392.80" y1="70.40" x2="394.30" y2="70.40" stroke="#222" stroke-width="0.6"/>
<line x1="392.80" y1="71.70" x2="394.30" y2="71.70" stroke="#222" stroke-width="0.6"/>
<line x1="392.80" y1="73.00" x2="394.30" y2="73.00" stroke="#222" stroke-width="0.6"/>
<line x1="392.80" y1="74.30" x2="394.30" y2="74.30" stroke="#222" stroke-width="0.6"/>
<line x1="404.80" y1="76.10" x2="404.80" y2="78.30" stroke="#222" stroke-width="0.8"/>
<line x1="416.30" y1="76.10" x2="416.30" y2="78.30" stroke="#222" stroke-width="0.8"/>
<line x1="426.80" y1="76.10" x2="426.80" y2="78.30" stroke="#222" stroke-width="0.8"/>
<line x1="437.30" y1="76.10" x2="437.30" y2="78.30" stroke="#222" stroke-width="0.8"/>
<line x1="419.46" y1="76.10" x2="419.46" y2="77.60" stroke="#222" stroke-width="0.6"/>
<line x1="421.31" y1="76.10" x2="421.31" y2="77.60" stroke="#222" stroke-width="0.6"/>
<line x1="422.62" y1="76.10" x2="422.62" y2="77.60" stroke="#222" stroke-width="0.6"/>
<line x1="423.64" y1="76.10" x2="423.64" y2="77.60" stroke="#222" stroke-width="0.6"/>
<line x1="424.47" y1="76.10" x2="424.47" y2="77.60" stroke="#222" stroke-width="0.6"/>
<line x1="425.17" y1="76.10" x2="425.17" y2="77.60" stroke="#222" stroke-width="0.6"/>
<line x1="425.78" y1="76.10" x2="425.78" y2="77.60" stroke="#222" stroke-width="0.6"/>
<line x1="426.32" y1="76.10" x2="426.32" y2="77.60" stroke="#222" stroke-width="0.6"/>
<line x1="429.96" y1="76.10" x2="429.96" y2="77.60" stroke="#222" stroke-width="0.6"/>
<line x1="431.81" y1="76.10" x2="431.81" y2="77.60" stroke="#222" stroke-width="0.6"/>
<line x1="433.12" y1="76.10" x2="433.12" y2="77.60" stroke="#222" stroke-width="0.6"/>
<line x1="434.14" y1="76.10" x2="434.14" y2="77.60" stroke="#222" stroke-width="0.6"/>
<line x1="434.97" y1="76.10" x2="434.97" y2="77.60" stroke="#222" stroke-width="0.6"/>
<line x1="435.67" y1="76.10" x2="435.67" y2="77.60" stroke="#222" stroke-width="0.6"/>
<line x1="436.28" y1="76.10" x2="436.28" y2="77.60" stroke="#222" stroke-width="0.6"/>
<line x1="436.82" y1="76.10" x2="436.82" y2="77.60" stroke="#222" stroke-width="0.6"/>
<line x1="398.30" y1="76.10" x2="398.30" y2="77.60" stroke="#222" stroke-width="0.6"/>
<line x1="399.60" y1="76.10" x2="399.60" y2="77.60" stroke="#222" stroke-width="0.6"/>
<line x1="400.90" y1="76.10" x2="400.90" y2="77.60" stroke="#222" stroke-width="0.6"/>
<line x1="402.20" y1="76.10" x2="402.20" y2="77.60" stroke="#222" stroke-width="0.6"/>
<line x1="403.50" y1="76.10" x2="403.50" y2="77.60" stroke="#222" stroke-width="0.6"/>
<line x1="404.80" y1="76.10" x2="404.80" y2="77.60" stroke="#222" stroke-width="0.6"/>
<line x1="406.10" y1="76.10" x2="406.10" y2="77.60" stroke="#222" stroke-width="0.6"/>
<line x1="407.40" y1="76.10" x2="407.40" y2="77.60" stroke="#222" stroke-width="0.6"/>
<line x1="408.70" y1="76.10" x2="408.70" y2="77.60" stroke="#222" stroke-width="0.6"/>
<line x1="410.00" y1="76.10" x2="410.00" y2="77.60" stroke="#222" stroke-width="0.6"/>
<line x1="411.30" y1="76.10" x2="411.30" y2="77.60" stroke="#222" stroke-width="0.6"/>
<text x="398.6" y="70.5" font-size="7.2" fill="#222" textLength="21.5" lengthAdjust="spacingAndGlyphs">WT only</text>
<text x="388.80" y="35.50" font-size="6.6" text-anchor="end" fill="#2a2a2a">10<tspan font-size="4.36" dy="-2.51">4</tspan></text>
<text x="388.80" y="46.30" font-size="6.6" text-anchor="end" fill="#2a2a2a">10<tspan font-size="4.36" dy="-2.51">3</tspan></text>
<text x="388.80" y="58.30" font-size="6.6" text-anchor="end" fill="#2a2a2a">10<tspan font-size="4.36" dy="-2.51">2</tspan></text>
<text x="388.0" y="68.6" font-size="6.6" text-anchor="end" fill="#2a2a2a" font-weight="normal" >0</text>
<text x="408.40" y="84.30" font-size="6.6" text-anchor="end" fill="#2a2a2a" transform="rotate(-45 408.40 84.30)">0</text>
<text x="422.10" y="84.30" font-size="6.6" text-anchor="end" fill="#2a2a2a" transform="rotate(-45 422.1 84.3)">10<tspan font-size="4.36" dy="-2.51">2</tspan></text>
<text x="432.70" y="84.30" font-size="6.6" text-anchor="end" fill="#2a2a2a" transform="rotate(-45 432.70000000000005 84.3)">10<tspan font-size="4.36" dy="-2.51">4</tspan></text>
<text x="441.40" y="84.30" font-size="6.6" text-anchor="end" fill="#2a2a2a" transform="rotate(-45 441.40000000000003 84.3)">10<tspan font-size="4.36" dy="-2.51">5</tspan></text>
<circle cx="410.2" cy="105.8" r="0.55" fill="#8a8ab6" fill-opacity="0.35"/>
<circle cx="406.3" cy="109.3" r="0.55" fill="#80809f" fill-opacity="0.35"/>
<circle cx="409.2" cy="112.5" r="0.55" fill="#8a8ab6" fill-opacity="0.35"/>
<circle cx="403.5" cy="112.4" r="0.55" fill="#7676a8" fill-opacity="0.35"/>
<circle cx="396.3" cy="118.2" r="0.55" fill="#80809f" fill-opacity="0.35"/>
<circle cx="414.4" cy="107.2" r="0.55" fill="#80809f" fill-opacity="0.35"/>
<circle cx="404.5" cy="110.0" r="0.55" fill="#9a9abf" fill-opacity="0.35"/>
<circle cx="405.8" cy="110.0" r="0.55" fill="#80809f" fill-opacity="0.35"/>
<circle cx="403.9" cy="108.7" r="0.55" fill="#80809f" fill-opacity="0.35"/>
<circle cx="405.4" cy="110.8" r="0.55" fill="#64649a" fill-opacity="0.35"/>
<circle cx="394.4" cy="102.9" r="0.55" fill="#80809f" fill-opacity="0.35"/>
<circle cx="407.3" cy="110.8" r="0.55" fill="#80809f" fill-opacity="0.35"/>
<circle cx="413.5" cy="109.7" r="0.55" fill="#9a9abf" fill-opacity="0.35"/>
<circle cx="404.8" cy="105.7" r="0.55" fill="#64649a" fill-opacity="0.35"/>
<circle cx="414.0" cy="111.5" r="0.55" fill="#64649a" fill-opacity="0.35"/>
<circle cx="405.4" cy="115.0" r="0.55" fill="#7676a8" fill-opacity="0.35"/>
<circle cx="398.0" cy="107.3" r="0.55" fill="#7676a8" fill-opacity="0.35"/>
<circle cx="412.8" cy="112.1" r="0.55" fill="#64649a" fill-opacity="0.35"/>
<circle cx="408.6" cy="107.0" r="0.55" fill="#8a8ab6" fill-opacity="0.35"/>
<circle cx="402.3" cy="108.6" r="0.55" fill="#64649a" fill-opacity="0.35"/>
<circle cx="411.9" cy="110.2" r="0.55" fill="#64649a" fill-opacity="0.35"/>
<circle cx="400.6" cy="115.6" r="0.55" fill="#80809f" fill-opacity="0.35"/>
<circle cx="406.1" cy="114.1" r="0.55" fill="#7676a8" fill-opacity="0.35"/>
<circle cx="396.2" cy="113.8" r="0.55" fill="#80809f" fill-opacity="0.35"/>
<circle cx="410.3" cy="112.1" r="0.55" fill="#9a9abf" fill-opacity="0.35"/>
<circle cx="409.8" cy="110.5" r="0.55" fill="#7676a8" fill-opacity="0.35"/>
<circle cx="416.5" cy="101.2" r="0.55" fill="#80809f" fill-opacity="0.35"/>
<circle cx="411.1" cy="113.6" r="0.55" fill="#80809f" fill-opacity="0.35"/>
<circle cx="400.6" cy="111.3" r="0.55" fill="#9a9abf" fill-opacity="0.35"/>
<circle cx="413.8" cy="109.1" r="0.55" fill="#64649a" fill-opacity="0.35"/>
<circle cx="412.8" cy="111.2" r="0.55" fill="#7676a8" fill-opacity="0.35"/>
<circle cx="406.7" cy="109.2" r="0.55" fill="#7676a8" fill-opacity="0.35"/>
<circle cx="407.8" cy="112.7" r="0.55" fill="#80809f" fill-opacity="0.35"/>
<circle cx="396.4" cy="112.8" r="0.55" fill="#80809f" fill-opacity="0.35"/>
<circle cx="419.4" cy="109.5" r="0.55" fill="#64649a" fill-opacity="0.35"/>
<circle cx="411.4" cy="108.1" r="0.55" fill="#80809f" fill-opacity="0.35"/>
<circle cx="404.7" cy="109.2" r="0.55" fill="#7676a8" fill-opacity="0.35"/>
<circle cx="397.7" cy="109.5" r="0.55" fill="#8a8ab6" fill-opacity="0.35"/>
<circle cx="405.3" cy="105.8" r="0.55" fill="#7676a8" fill-opacity="0.35"/>
<circle cx="408.2" cy="108.3" r="0.55" fill="#9a9abf" fill-opacity="0.35"/>
<circle cx="411.2" cy="106.8" r="0.55" fill="#9a9abf" fill-opacity="0.35"/>
<circle cx="406.3" cy="109.0" r="0.55" fill="#80809f" fill-opacity="0.35"/>
<circle cx="413.5" cy="110.0" r="0.55" fill="#7676a8" fill-opacity="0.35"/>
<circle cx="405.0" cy="111.8" r="0.55" fill="#9a9abf" fill-opacity="0.35"/>
<circle cx="401.9" cy="115.0" r="0.55" fill="#80809f" fill-opacity="0.35"/>
<circle cx="411.9" cy="112.8" r="0.55" fill="#64649a" fill-opacity="0.35"/>
<circle cx="412.8" cy="106.0" r="0.55" fill="#64649a" fill-opacity="0.35"/>
<circle cx="400.8" cy="114.6" r="0.55" fill="#64649a" fill-opacity="0.35"/>
<circle cx="410.6" cy="117.2" r="0.55" fill="#7676a8" fill-opacity="0.35"/>
<circle cx="416.6" cy="108.6" r="0.55" fill="#80809f" fill-opacity="0.35"/>
<circle cx="400.0" cy="110.2" r="0.55" fill="#7676a8" fill-opacity="0.35"/>
<circle cx="405.3" cy="107.0" r="0.55" fill="#9a9abf" fill-opacity="0.35"/>
<circle cx="411.6" cy="109.1" r="0.55" fill="#8a8ab6" fill-opacity="0.35"/>
<circle cx="407.8" cy="110.2" r="0.55" fill="#7676a8" fill-opacity="0.35"/>
<circle cx="411.0" cy="113.7" r="0.55" fill="#9a9abf" fill-opacity="0.35"/>
<circle cx="396.8" cy="116.1" r="0.55" fill="#64649a" fill-opacity="0.35"/>
<circle cx="405.5" cy="112.0" r="0.55" fill="#9a9abf" fill-opacity="0.35"/>
<circle cx="408.0" cy="110.4" r="0.55" fill="#80809f" fill-opacity="0.35"/>
<circle cx="401.5" cy="107.1" r="0.55" fill="#8a8ab6" fill-opacity="0.35"/>
<circle cx="405.5" cy="107.5" r="0.55" fill="#8a8ab6" fill-opacity="0.35"/>
<circle cx="406.9" cy="111.9" r="0.55" fill="#9a9abf" fill-opacity="0.35"/>
<circle cx="418.5" cy="106.0" r="0.55" fill="#80809f" fill-opacity="0.35"/>
<circle cx="395.7" cy="110.2" r="0.55" fill="#8a8ab6" fill-opacity="0.35"/>
<circle cx="411.4" cy="111.1" r="0.55" fill="#7676a8" fill-opacity="0.35"/>
<circle cx="420.2" cy="110.0" r="0.55" fill="#7676a8" fill-opacity="0.35"/>
<circle cx="408.0" cy="109.1" r="0.55" fill="#9a9abf" fill-opacity="0.35"/>
<circle cx="407.6" cy="116.5" r="0.55" fill="#8a8ab6" fill-opacity="0.35"/>
<circle cx="412.9" cy="112.3" r="0.55" fill="#7676a8" fill-opacity="0.35"/>
<circle cx="408.7" cy="111.0" r="0.55" fill="#64649a" fill-opacity="0.35"/>
<circle cx="403.9" cy="110.5" r="0.55" fill="#80809f" fill-opacity="0.35"/>
<circle cx="398.5" cy="113.6" r="0.55" fill="#7676a8" fill-opacity="0.35"/>
<circle cx="401.2" cy="109.0" r="0.55" fill="#8a8ab6" fill-opacity="0.35"/>
<circle cx="403.6" cy="101.8" r="0.55" fill="#9a9abf" fill-opacity="0.35"/>
<circle cx="407.5" cy="112.1" r="0.55" fill="#9a9abf" fill-opacity="0.35"/>
<circle cx="409.3" cy="107.9" r="0.55" fill="#7676a8" fill-opacity="0.35"/>
<circle cx="401.3" cy="109.7" r="0.55" fill="#7676a8" fill-opacity="0.35"/>
<circle cx="404.9" cy="109.7" r="0.55" fill="#9a9abf" fill-opacity="0.35"/>
<circle cx="411.2" cy="107.6" r="0.55" fill="#8a8ab6" fill-opacity="0.35"/>
<circle cx="411.4" cy="114.7" r="0.55" fill="#80809f" fill-opacity="0.35"/>
<circle cx="406.9" cy="110.2" r="0.55" fill="#8a8ab6" fill-opacity="0.35"/>
<circle cx="401.4" cy="110.5" r="0.55" fill="#80809f" fill-opacity="0.35"/>
<circle cx="409.9" cy="106.8" r="0.55" fill="#7676a8" fill-opacity="0.35"/>
<circle cx="408.9" cy="111.3" r="0.55" fill="#80809f" fill-opacity="0.35"/>
<circle cx="406.3" cy="117.3" r="0.55" fill="#80809f" fill-opacity="0.35"/>
<circle cx="410.1" cy="112.1" r="0.55" fill="#8a8ab6" fill-opacity="0.35"/>
<circle cx="400.9" cy="112.3" r="0.55" fill="#8a8ab6" fill-opacity="0.35"/>
<circle cx="402.3" cy="104.3" r="0.55" fill="#9a9abf" fill-opacity="0.35"/>
<circle cx="409.7" cy="108.5" r="0.55" fill="#9a9abf" fill-opacity="0.35"/>
<circle cx="412.0" cy="104.5" r="0.55" fill="#8a8ab6" fill-opacity="0.35"/>
<circle cx="405.2" cy="112.0" r="0.55" fill="#9a9abf" fill-opacity="0.35"/>
<circle cx="407.4" cy="106.1" r="0.55" fill="#8a8ab6" fill-opacity="0.35"/>
<circle cx="405.2" cy="113.4" r="0.55" fill="#64649a" fill-opacity="0.35"/>
<circle cx="407.3" cy="102.9" r="0.55" fill="#64649a" fill-opacity="0.35"/>
<circle cx="404.3" cy="114.0" r="0.55" fill="#80809f" fill-opacity="0.35"/>
<circle cx="403.4" cy="109.8" r="0.55" fill="#80809f" fill-opacity="0.35"/>
<circle cx="401.2" cy="109.2" r="0.55" fill="#7676a8" fill-opacity="0.35"/>
<circle cx="407.1" cy="106.0" r="0.55" fill="#8a8ab6" fill-opacity="0.35"/>
<circle cx="406.0" cy="103.3" r="0.55" fill="#9a9abf" fill-opacity="0.35"/>
<circle cx="396.1" cy="109.7" r="0.55" fill="#7676a8" fill-opacity="0.35"/>
<circle cx="401.2" cy="108.4" r="0.55" fill="#8a8ab6" fill-opacity="0.35"/>
<circle cx="402.7" cy="105.0" r="0.55" fill="#8a8ab6" fill-opacity="0.35"/>
<circle cx="408.6" cy="110.8" r="0.55" fill="#9a9abf" fill-opacity="0.35"/>
<circle cx="409.0" cy="110.9" r="0.55" fill="#7676a8" fill-opacity="0.35"/>
<circle cx="397.5" cy="105.5" r="0.55" fill="#80809f" fill-opacity="0.35"/>
<circle cx="402.1" cy="104.2" r="0.55" fill="#80809f" fill-opacity="0.35"/>
<circle cx="399.4" cy="107.4" r="0.55" fill="#80809f" fill-opacity="0.35"/>
<circle cx="410.6" cy="110.6" r="0.55" fill="#9a9abf" fill-opacity="0.35"/>
<circle cx="415.0" cy="113.1" r="0.55" fill="#8a8ab6" fill-opacity="0.35"/>
<circle cx="402.9" cy="108.5" r="0.55" fill="#7676a8" fill-opacity="0.35"/>
<circle cx="407.9" cy="113.0" r="0.55" fill="#80809f" fill-opacity="0.35"/>
<circle cx="407.9" cy="112.1" r="0.55" fill="#7676a8" fill-opacity="0.35"/>
<circle cx="404.5" cy="110.7" r="0.55" fill="#9a9abf" fill-opacity="0.35"/>
<circle cx="407.4" cy="110.4" r="0.55" fill="#80809f" fill-opacity="0.35"/>
<circle cx="404.7" cy="111.7" r="0.55" fill="#8a8ab6" fill-opacity="0.35"/>
<circle cx="415.3" cy="106.9" r="0.55" fill="#64649a" fill-opacity="0.35"/>
<circle cx="405.7" cy="105.6" r="0.55" fill="#64649a" fill-opacity="0.35"/>
<circle cx="407.1" cy="107.3" r="0.55" fill="#8a8ab6" fill-opacity="0.35"/>
<circle cx="411.1" cy="107.9" r="0.55" fill="#80809f" fill-opacity="0.35"/>
<circle cx="402.8" cy="108.6" r="0.55" fill="#7676a8" fill-opacity="0.35"/>
<circle cx="405.7" cy="111.4" r="0.55" fill="#7676a8" fill-opacity="0.35"/>
<circle cx="402.9" cy="108.6" r="0.55" fill="#7676a8" fill-opacity="0.35"/>
<circle cx="415.2" cy="113.4" r="0.55" fill="#8a8ab6" fill-opacity="0.35"/>
<circle cx="412.1" cy="107.6" r="0.55" fill="#8a8ab6" fill-opacity="0.35"/>
<circle cx="397.7" cy="115.9" r="0.55" fill="#8a8ab6" fill-opacity="0.35"/>
<circle cx="395.6" cy="105.1" r="0.55" fill="#80809f" fill-opacity="0.35"/>
<circle cx="407.7" cy="114.6" r="0.55" fill="#7676a8" fill-opacity="0.35"/>
<circle cx="401.1" cy="112.9" r="0.55" fill="#8a8ab6" fill-opacity="0.35"/>
<circle cx="412.8" cy="109.7" r="0.55" fill="#8a8ab6" fill-opacity="0.35"/>
<circle cx="406.0" cy="107.5" r="0.55" fill="#7676a8" fill-opacity="0.35"/>
<circle cx="406.9" cy="111.6" r="0.55" fill="#8a8ab6" fill-opacity="0.35"/>
<circle cx="411.1" cy="106.4" r="0.55" fill="#80809f" fill-opacity="0.35"/>
<circle cx="415.4" cy="105.9" r="0.55" fill="#7676a8" fill-opacity="0.35"/>
<circle cx="403.5" cy="106.0" r="0.55" fill="#80809f" fill-opacity="0.35"/>
<circle cx="402.7" cy="108.3" r="0.55" fill="#80809f" fill-opacity="0.35"/>
<circle cx="395.2" cy="112.5" r="0.55" fill="#64649a" fill-opacity="0.35"/>
<circle cx="412.8" cy="110.4" r="0.55" fill="#9a9abf" fill-opacity="0.35"/>
<circle cx="392.0" cy="111.4" r="0.55" fill="#80809f" fill-opacity="0.35"/>
<circle cx="410.5" cy="111.1" r="0.55" fill="#64649a" fill-opacity="0.35"/>
<circle cx="407.1" cy="109.5" r="0.55" fill="#7676a8" fill-opacity="0.35"/>
<circle cx="410.9" cy="114.8" r="0.55" fill="#80809f" fill-opacity="0.35"/>
<circle cx="401.7" cy="106.3" r="0.55" fill="#80809f" fill-opacity="0.35"/>
<circle cx="408.2" cy="106.2" r="0.55" fill="#8a8ab6" fill-opacity="0.35"/>
<circle cx="404.9" cy="113.5" r="0.55" fill="#80809f" fill-opacity="0.35"/>
<circle cx="408.9" cy="115.3" r="0.55" fill="#80809f" fill-opacity="0.35"/>
<circle cx="411.4" cy="108.7" r="0.55" fill="#64649a" fill-opacity="0.35"/>
<circle cx="397.0" cy="108.1" r="0.55" fill="#64649a" fill-opacity="0.35"/>
<circle cx="403.2" cy="115.3" r="0.55" fill="#9a9abf" fill-opacity="0.35"/>
<circle cx="405.9" cy="104.5" r="0.55" fill="#8a8ab6" fill-opacity="0.35"/>
<circle cx="404.7" cy="111.4" r="0.55" fill="#80809f" fill-opacity="0.35"/>
<circle cx="387.1" cy="110.2" r="0.55" fill="#80809f" fill-opacity="0.35"/>
<circle cx="410.4" cy="112.9" r="0.55" fill="#7676a8" fill-opacity="0.35"/>
<circle cx="414.8" cy="110.4" r="0.55" fill="#80809f" fill-opacity="0.35"/>
<circle cx="408.1" cy="115.7" r="0.55" fill="#9a9abf" fill-opacity="0.35"/>
<circle cx="400.0" cy="107.0" r="0.55" fill="#80809f" fill-opacity="0.35"/>
<circle cx="399.3" cy="114.9" r="0.55" fill="#64649a" fill-opacity="0.35"/>
<circle cx="414.4" cy="112.6" r="0.55" fill="#7676a8" fill-opacity="0.35"/>
<circle cx="392.5" cy="113.8" r="0.55" fill="#9a9abf" fill-opacity="0.35"/>
<circle cx="406.6" cy="106.5" r="0.55" fill="#80809f" fill-opacity="0.35"/>
<circle cx="404.5" cy="111.5" r="0.55" fill="#8a8ab6" fill-opacity="0.35"/>
<circle cx="411.0" cy="114.7" r="0.55" fill="#8a8ab6" fill-opacity="0.35"/>
<circle cx="402.9" cy="108.9" r="0.55" fill="#64649a" fill-opacity="0.35"/>
<circle cx="416.9" cy="113.5" r="0.55" fill="#7676a8" fill-opacity="0.35"/>
<circle cx="403.0" cy="109.2" r="0.55" fill="#9a9abf" fill-opacity="0.35"/>
<circle cx="416.1" cy="112.7" r="0.55" fill="#8a8ab6" fill-opacity="0.35"/>
<circle cx="410.3" cy="107.3" r="0.55" fill="#64649a" fill-opacity="0.35"/>
<circle cx="408.8" cy="108.7" r="0.55" fill="#80809f" fill-opacity="0.35"/>
<circle cx="417.8" cy="109.2" r="0.55" fill="#7676a8" fill-opacity="0.35"/>
<circle cx="408.9" cy="105.5" r="0.55" fill="#64649a" fill-opacity="0.35"/>
<circle cx="413.5" cy="119.2" r="0.55" fill="#64649a" fill-opacity="0.35"/>
<circle cx="402.9" cy="113.3" r="0.55" fill="#80809f" fill-opacity="0.35"/>
<circle cx="415.1" cy="111.3" r="0.55" fill="#9a9abf" fill-opacity="0.35"/>
<circle cx="402.9" cy="113.2" r="0.55" fill="#9a9abf" fill-opacity="0.35"/>
<circle cx="407.5" cy="113.5" r="0.55" fill="#9a9abf" fill-opacity="0.35"/>
<circle cx="399.4" cy="115.7" r="0.55" fill="#9a9abf" fill-opacity="0.35"/>
<circle cx="401.8" cy="107.3" r="0.55" fill="#8a8ab6" fill-opacity="0.35"/>
<circle cx="408.1" cy="119.2" r="0.55" fill="#80809f" fill-opacity="0.35"/>
<circle cx="405.3" cy="106.8" r="0.55" fill="#9a9abf" fill-opacity="0.35"/>
<circle cx="405.3" cy="106.4" r="0.55" fill="#64649a" fill-opacity="0.35"/>
<circle cx="400.3" cy="106.9" r="0.55" fill="#9a9abf" fill-opacity="0.35"/>
<circle cx="411.2" cy="107.2" r="0.55" fill="#9a9abf" fill-opacity="0.35"/>
<circle cx="403.8" cy="110.8" r="0.55" fill="#80809f" fill-opacity="0.35"/>
<circle cx="402.8" cy="110.9" r="0.55" fill="#8a8ab6" fill-opacity="0.35"/>
<circle cx="406.7" cy="108.4" r="0.55" fill="#7676a8" fill-opacity="0.35"/>
<circle cx="408.8" cy="110.0" r="0.55" fill="#64649a" fill-opacity="0.35"/>
<circle cx="417.2" cy="108.8" r="0.55" fill="#9a9abf" fill-opacity="0.35"/>
<circle cx="412.1" cy="112.2" r="0.55" fill="#8a8ab6" fill-opacity="0.35"/>
<circle cx="402.6" cy="114.5" r="0.55" fill="#9a9abf" fill-opacity="0.35"/>
<circle cx="404.0" cy="113.5" r="0.55" fill="#80809f" fill-opacity="0.35"/>
<circle cx="399.8" cy="104.5" r="0.55" fill="#80809f" fill-opacity="0.35"/>
<circle cx="408.0" cy="110.5" r="0.55" fill="#80809f" fill-opacity="0.35"/>
<circle cx="407.2" cy="113.2" r="0.55" fill="#9a9abf" fill-opacity="0.35"/>
<circle cx="405.7" cy="106.4" r="0.55" fill="#9a9abf" fill-opacity="0.35"/>
<circle cx="402.8" cy="110.1" r="0.55" fill="#9a9abf" fill-opacity="0.35"/>
<circle cx="406.9" cy="106.0" r="0.55" fill="#8a8ab6" fill-opacity="0.35"/>
<circle cx="404.6" cy="109.1" r="0.55" fill="#8a8ab6" fill-opacity="0.35"/>
<circle cx="411.9" cy="110.9" r="0.55" fill="#9a9abf" fill-opacity="0.35"/>
<circle cx="405.2" cy="107.6" r="0.55" fill="#80809f" fill-opacity="0.35"/>
<circle cx="405.8" cy="116.9" r="0.55" fill="#7676a8" fill-opacity="0.35"/>
<circle cx="396.7" cy="119.8" r="0.55" fill="#9a9abf" fill-opacity="0.35"/>
<circle cx="409.6" cy="114.4" r="0.55" fill="#64649a" fill-opacity="0.35"/>
<circle cx="414.2" cy="112.4" r="0.55" fill="#7676a8" fill-opacity="0.35"/>
<circle cx="408.6" cy="108.6" r="0.55" fill="#7676a8" fill-opacity="0.35"/>
<circle cx="403.0" cy="109.3" r="0.55" fill="#64649a" fill-opacity="0.35"/>
<circle cx="409.0" cy="105.5" r="0.55" fill="#64649a" fill-opacity="0.35"/>
<circle cx="412.2" cy="114.0" r="0.55" fill="#80809f" fill-opacity="0.35"/>
<circle cx="402.1" cy="107.3" r="0.55" fill="#80809f" fill-opacity="0.35"/>
<circle cx="410.0" cy="115.3" r="0.55" fill="#9a9abf" fill-opacity="0.35"/>
<circle cx="407.8" cy="107.4" r="0.55" fill="#7676a8" fill-opacity="0.35"/>
<circle cx="408.4" cy="108.8" r="0.55" fill="#8a8ab6" fill-opacity="0.35"/>
<circle cx="409.9" cy="113.9" r="0.55" fill="#64649a" fill-opacity="0.35"/>
<circle cx="412.6" cy="110.1" r="0.55" fill="#9a9abf" fill-opacity="0.35"/>
<circle cx="406.8" cy="110.4" r="0.55" fill="#9a9abf" fill-opacity="0.35"/>
<circle cx="406.3" cy="113.4" r="0.55" fill="#64649a" fill-opacity="0.35"/>
<circle cx="404.8" cy="107.2" r="0.55" fill="#80809f" fill-opacity="0.35"/>
<circle cx="412.8" cy="104.3" r="0.55" fill="#8a8ab6" fill-opacity="0.35"/>
<circle cx="406.9" cy="109.5" r="0.55" fill="#9a9abf" fill-opacity="0.35"/>
<circle cx="403.3" cy="116.0" r="0.55" fill="#9a9abf" fill-opacity="0.35"/>
<circle cx="406.3" cy="107.3" r="0.55" fill="#9a9abf" fill-opacity="0.35"/>
<circle cx="412.0" cy="110.2" r="0.55" fill="#80809f" fill-opacity="0.35"/>
<circle cx="398.5" cy="112.1" r="0.55" fill="#9a9abf" fill-opacity="0.35"/>
<circle cx="401.1" cy="109.5" r="0.55" fill="#7676a8" fill-opacity="0.35"/>
<circle cx="398.6" cy="110.1" r="0.55" fill="#64649a" fill-opacity="0.35"/>
<circle cx="399.5" cy="111.9" r="0.55" fill="#7676a8" fill-opacity="0.35"/>
<circle cx="406.6" cy="107.9" r="0.55" fill="#7676a8" fill-opacity="0.35"/>
<circle cx="397.6" cy="113.9" r="0.55" fill="#7676a8" fill-opacity="0.35"/>
<circle cx="411.8" cy="113.2" r="0.55" fill="#64649a" fill-opacity="0.35"/>
<circle cx="406.2" cy="110.3" r="0.55" fill="#9a9abf" fill-opacity="0.35"/>
<circle cx="405.8" cy="109.0" r="0.55" fill="#9a9abf" fill-opacity="0.35"/>
<circle cx="410.8" cy="110.9" r="0.55" fill="#80809f" fill-opacity="0.35"/>
<circle cx="407.3" cy="107.4" r="0.55" fill="#80809f" fill-opacity="0.35"/>
<circle cx="414.5" cy="110.4" r="0.55" fill="#8a8ab6" fill-opacity="0.35"/>
<circle cx="403.0" cy="109.6" r="0.55" fill="#7676a8" fill-opacity="0.35"/>
<circle cx="407.4" cy="107.1" r="0.55" fill="#80809f" fill-opacity="0.35"/>
<circle cx="400.6" cy="110.0" r="0.55" fill="#80809f" fill-opacity="0.35"/>
<circle cx="400.8" cy="108.1" r="0.55" fill="#9a9abf" fill-opacity="0.35"/>
<circle cx="410.8" cy="106.4" r="0.55" fill="#8a8ab6" fill-opacity="0.35"/>
<circle cx="418.0" cy="109.3" r="0.55" fill="#80809f" fill-opacity="0.35"/>
<circle cx="399.0" cy="109.1" r="0.55" fill="#7676a8" fill-opacity="0.35"/>
<circle cx="404.4" cy="107.7" r="0.55" fill="#80809f" fill-opacity="0.35"/>
<circle cx="410.5" cy="112.9" r="0.55" fill="#64649a" fill-opacity="0.35"/>
<circle cx="402.8" cy="111.0" r="0.55" fill="#64649a" fill-opacity="0.35"/>
<circle cx="407.4" cy="109.7" r="0.55" fill="#8a8ab6" fill-opacity="0.35"/>
<circle cx="404.6" cy="112.6" r="0.55" fill="#9a9abf" fill-opacity="0.35"/>
<circle cx="414.0" cy="111.7" r="0.55" fill="#7676a8" fill-opacity="0.35"/>
<circle cx="408.0" cy="103.8" r="0.55" fill="#80809f" fill-opacity="0.35"/>
<circle cx="413.2" cy="109.2" r="0.55" fill="#9a9abf" fill-opacity="0.35"/>
<circle cx="401.9" cy="109.6" r="0.55" fill="#8a8ab6" fill-opacity="0.35"/>
<circle cx="409.8" cy="106.8" r="0.55" fill="#80809f" fill-opacity="0.35"/>
<circle cx="408.9" cy="106.5" r="0.55" fill="#64649a" fill-opacity="0.35"/>
<circle cx="411.6" cy="110.1" r="0.55" fill="#9a9abf" fill-opacity="0.35"/>
<circle cx="396.6" cy="108.5" r="0.55" fill="#7676a8" fill-opacity="0.35"/>
<circle cx="420.0" cy="104.7" r="0.55" fill="#64649a" fill-opacity="0.35"/>
<circle cx="409.2" cy="105.1" r="0.55" fill="#8a8ab6" fill-opacity="0.35"/>
<circle cx="411.4" cy="111.1" r="0.55" fill="#80809f" fill-opacity="0.35"/>
<circle cx="411.9" cy="104.1" r="0.55" fill="#8a8ab6" fill-opacity="0.35"/>
<circle cx="417.4" cy="105.6" r="0.55" fill="#9a9abf" fill-opacity="0.35"/>
<circle cx="407.6" cy="112.9" r="0.55" fill="#64649a" fill-opacity="0.35"/>
<circle cx="399.7" cy="103.2" r="0.55" fill="#9a9abf" fill-opacity="0.35"/>
<circle cx="406.7" cy="111.1" r="0.55" fill="#80809f" fill-opacity="0.35"/>
<circle cx="399.8" cy="106.9" r="0.55" fill="#80809f" fill-opacity="0.35"/>
<ellipse cx="406.80" cy="109.90" rx="9.80" ry="6.00" fill="#9a9ac0" fill-opacity="0.5" stroke="none" stroke-width="0.5" transform="rotate(0 406.80 109.90)"/>
<ellipse cx="406.80" cy="109.90" rx="7.20" ry="4.30" fill="#8484b4" fill-opacity="0.6" stroke="none" stroke-width="0.5" transform="rotate(0 406.80 109.90)"/>
<ellipse cx="406.80" cy="109.90" rx="7.20" ry="4.30" fill="none" fill-opacity="1" stroke="#6a6a9a" stroke-width="0.4" transform="rotate(0 406.80 109.90)"/>
<ellipse cx="406.80" cy="110.10" rx="4.60" ry="2.00" fill="#a4b07a" fill-opacity="0.9" stroke="none" stroke-width="0.5" transform="rotate(0 406.80 110.10)"/>
<ellipse cx="406.80" cy="110.10" rx="2.60" ry="1.00" fill="#c4cc62" fill-opacity="0.9" stroke="none" stroke-width="0.5" transform="rotate(0 406.80 110.10)"/>
<rect x="396.50" y="102.60" width="22.50" height="14.30" fill="none" stroke="#888" stroke-width="0.6" />
<rect x="394.30" y="97.90" width="47.50" height="47.40" fill="none" stroke="#3a3a3a" stroke-width="0.8" />
<rect x="392.30" y="134.70" width="2.00" height="2.00" fill="#111" stroke="none" stroke-width="1" />
<rect x="403.80" y="145.30" width="2.00" height="2.00" fill="#111" stroke="none" stroke-width="1" />
<line x1="392.10" y1="102.60" x2="394.30" y2="102.60" stroke="#222" stroke-width="0.8"/>
<line x1="392.10" y1="113.40" x2="394.30" y2="113.40" stroke="#222" stroke-width="0.8"/>
<line x1="392.10" y1="125.40" x2="394.30" y2="125.40" stroke="#222" stroke-width="0.8"/>
<line x1="392.10" y1="135.70" x2="394.30" y2="135.70" stroke="#222" stroke-width="0.8"/>
<line x1="392.80" y1="110.15" x2="394.30" y2="110.15" stroke="#222" stroke-width="0.6"/>
<line x1="392.80" y1="108.25" x2="394.30" y2="108.25" stroke="#222" stroke-width="0.6"/>
<line x1="392.80" y1="106.90" x2="394.30" y2="106.90" stroke="#222" stroke-width="0.6"/>
<line x1="392.80" y1="105.85" x2="394.30" y2="105.85" stroke="#222" stroke-width="0.6"/>
<line x1="392.80" y1="105.00" x2="394.30" y2="105.00" stroke="#222" stroke-width="0.6"/>
<line x1="392.80" y1="104.27" x2="394.30" y2="104.27" stroke="#222" stroke-width="0.6"/>
<line x1="392.80" y1="103.65" x2="394.30" y2="103.65" stroke="#222" stroke-width="0.6"/>
<line x1="392.80" y1="103.09" x2="394.30" y2="103.09" stroke="#222" stroke-width="0.6"/>
<line x1="392.80" y1="121.79" x2="394.30" y2="121.79" stroke="#222" stroke-width="0.6"/>
<line x1="392.80" y1="119.67" x2="394.30" y2="119.67" stroke="#222" stroke-width="0.6"/>
<line x1="392.80" y1="118.18" x2="394.30" y2="118.18" stroke="#222" stroke-width="0.6"/>
<line x1="392.80" y1="117.01" x2="394.30" y2="117.01" stroke="#222" stroke-width="0.6"/>
<line x1="392.80" y1="116.06" x2="394.30" y2="116.06" stroke="#222" stroke-width="0.6"/>
<line x1="392.80" y1="115.26" x2="394.30" y2="115.26" stroke="#222" stroke-width="0.6"/>
<line x1="392.80" y1="114.56" x2="394.30" y2="114.56" stroke="#222" stroke-width="0.6"/>
<line x1="392.80" y1="113.95" x2="394.30" y2="113.95" stroke="#222" stroke-width="0.6"/>
<line x1="392.80" y1="129.20" x2="394.30" y2="129.20" stroke="#222" stroke-width="0.6"/>
<line x1="392.80" y1="130.50" x2="394.30" y2="130.50" stroke="#222" stroke-width="0.6"/>
<line x1="392.80" y1="131.80" x2="394.30" y2="131.80" stroke="#222" stroke-width="0.6"/>
<line x1="392.80" y1="133.10" x2="394.30" y2="133.10" stroke="#222" stroke-width="0.6"/>
<line x1="392.80" y1="134.40" x2="394.30" y2="134.40" stroke="#222" stroke-width="0.6"/>
<line x1="392.80" y1="135.70" x2="394.30" y2="135.70" stroke="#222" stroke-width="0.6"/>
<line x1="392.80" y1="137.00" x2="394.30" y2="137.00" stroke="#222" stroke-width="0.6"/>
<line x1="392.80" y1="138.30" x2="394.30" y2="138.30" stroke="#222" stroke-width="0.6"/>
<line x1="392.80" y1="139.60" x2="394.30" y2="139.60" stroke="#222" stroke-width="0.6"/>
<line x1="392.80" y1="140.90" x2="394.30" y2="140.90" stroke="#222" stroke-width="0.6"/>
<line x1="392.80" y1="142.20" x2="394.30" y2="142.20" stroke="#222" stroke-width="0.6"/>
<line x1="392.80" y1="143.50" x2="394.30" y2="143.50" stroke="#222" stroke-width="0.6"/>
<line x1="404.80" y1="145.30" x2="404.80" y2="147.50" stroke="#222" stroke-width="0.8"/>
<line x1="416.30" y1="145.30" x2="416.30" y2="147.50" stroke="#222" stroke-width="0.8"/>
<line x1="426.80" y1="145.30" x2="426.80" y2="147.50" stroke="#222" stroke-width="0.8"/>
<line x1="437.30" y1="145.30" x2="437.30" y2="147.50" stroke="#222" stroke-width="0.8"/>
<line x1="419.46" y1="145.30" x2="419.46" y2="146.80" stroke="#222" stroke-width="0.6"/>
<line x1="421.31" y1="145.30" x2="421.31" y2="146.80" stroke="#222" stroke-width="0.6"/>
<line x1="422.62" y1="145.30" x2="422.62" y2="146.80" stroke="#222" stroke-width="0.6"/>
<line x1="423.64" y1="145.30" x2="423.64" y2="146.80" stroke="#222" stroke-width="0.6"/>
<line x1="424.47" y1="145.30" x2="424.47" y2="146.80" stroke="#222" stroke-width="0.6"/>
<line x1="425.17" y1="145.30" x2="425.17" y2="146.80" stroke="#222" stroke-width="0.6"/>
<line x1="425.78" y1="145.30" x2="425.78" y2="146.80" stroke="#222" stroke-width="0.6"/>
<line x1="426.32" y1="145.30" x2="426.32" y2="146.80" stroke="#222" stroke-width="0.6"/>
<line x1="429.96" y1="145.30" x2="429.96" y2="146.80" stroke="#222" stroke-width="0.6"/>
<line x1="431.81" y1="145.30" x2="431.81" y2="146.80" stroke="#222" stroke-width="0.6"/>
<line x1="433.12" y1="145.30" x2="433.12" y2="146.80" stroke="#222" stroke-width="0.6"/>
<line x1="434.14" y1="145.30" x2="434.14" y2="146.80" stroke="#222" stroke-width="0.6"/>
<line x1="434.97" y1="145.30" x2="434.97" y2="146.80" stroke="#222" stroke-width="0.6"/>
<line x1="435.67" y1="145.30" x2="435.67" y2="146.80" stroke="#222" stroke-width="0.6"/>
<line x1="436.28" y1="145.30" x2="436.28" y2="146.80" stroke="#222" stroke-width="0.6"/>
<line x1="436.82" y1="145.30" x2="436.82" y2="146.80" stroke="#222" stroke-width="0.6"/>
<line x1="398.30" y1="145.30" x2="398.30" y2="146.80" stroke="#222" stroke-width="0.6"/>
<line x1="399.60" y1="145.30" x2="399.60" y2="146.80" stroke="#222" stroke-width="0.6"/>
<line x1="400.90" y1="145.30" x2="400.90" y2="146.80" stroke="#222" stroke-width="0.6"/>
<line x1="402.20" y1="145.30" x2="402.20" y2="146.80" stroke="#222" stroke-width="0.6"/>
<line x1="403.50" y1="145.30" x2="403.50" y2="146.80" stroke="#222" stroke-width="0.6"/>
<line x1="404.80" y1="145.30" x2="404.80" y2="146.80" stroke="#222" stroke-width="0.6"/>
<line x1="406.10" y1="145.30" x2="406.10" y2="146.80" stroke="#222" stroke-width="0.6"/>
<line x1="407.40" y1="145.30" x2="407.40" y2="146.80" stroke="#222" stroke-width="0.6"/>
<line x1="408.70" y1="145.30" x2="408.70" y2="146.80" stroke="#222" stroke-width="0.6"/>
<line x1="410.00" y1="145.30" x2="410.00" y2="146.80" stroke="#222" stroke-width="0.6"/>
<line x1="411.30" y1="145.30" x2="411.30" y2="146.80" stroke="#222" stroke-width="0.6"/>
<text x="398.6" y="139.70000000000002" font-size="7.2" fill="#3a64a0" textLength="21.5" lengthAdjust="spacingAndGlyphs">KO only</text>
<text x="388.80" y="104.70" font-size="6.6" text-anchor="end" fill="#2a2a2a">10<tspan font-size="4.36" dy="-2.51">4</tspan></text>
<text x="388.80" y="115.50" font-size="6.6" text-anchor="end" fill="#2a2a2a">10<tspan font-size="4.36" dy="-2.51">3</tspan></text>
<text x="388.80" y="127.50" font-size="6.6" text-anchor="end" fill="#2a2a2a">10<tspan font-size="4.36" dy="-2.51">2</tspan></text>
<text x="388.0" y="137.79999999999998" font-size="6.6" text-anchor="end" fill="#2a2a2a" font-weight="normal" >0</text>
<text x="408.40" y="153.50" font-size="6.6" text-anchor="end" fill="#2a2a2a" transform="rotate(-45 408.40 153.50)">0</text>
<text x="422.10" y="153.50" font-size="6.6" text-anchor="end" fill="#2a2a2a" transform="rotate(-45 422.1 153.5)">10<tspan font-size="4.36" dy="-2.51">2</tspan></text>
<text x="432.70" y="153.50" font-size="6.6" text-anchor="end" fill="#2a2a2a" transform="rotate(-45 432.70000000000005 153.5)">10<tspan font-size="4.36" dy="-2.51">4</tspan></text>
<text x="441.40" y="153.50" font-size="6.6" text-anchor="end" fill="#2a2a2a" transform="rotate(-45 441.40000000000003 153.5)">10<tspan font-size="4.36" dy="-2.51">5</tspan></text>
<circle cx="461.6" cy="89.3" r="0.55" fill="#6a72aa" fill-opacity="0.4"/>
<circle cx="462.0" cy="82.8" r="0.55" fill="#7c84b8" fill-opacity="0.4"/>
<circle cx="463.6" cy="84.6" r="0.55" fill="#6a72aa" fill-opacity="0.4"/>
<circle cx="460.6" cy="81.0" r="0.55" fill="#8c94c4" fill-opacity="0.4"/>
<circle cx="489.4" cy="83.9" r="0.55" fill="#8c94c4" fill-opacity="0.4"/>
<circle cx="476.9" cy="89.9" r="0.55" fill="#7c84b8" fill-opacity="0.4"/>
<circle cx="478.8" cy="79.9" r="0.55" fill="#5c64a0" fill-opacity="0.4"/>
<circle cx="470.0" cy="83.2" r="0.55" fill="#6a72aa" fill-opacity="0.4"/>
<circle cx="469.7" cy="87.9" r="0.55" fill="#7c84b8" fill-opacity="0.4"/>
<circle cx="474.0" cy="81.7" r="0.55" fill="#8c94c4" fill-opacity="0.4"/>
<circle cx="482.1" cy="83.4" r="0.55" fill="#8c94c4" fill-opacity="0.4"/>
<circle cx="475.6" cy="82.0" r="0.55" fill="#5c64a0" fill-opacity="0.4"/>
<circle cx="471.1" cy="82.0" r="0.55" fill="#5c64a0" fill-opacity="0.4"/>
<circle cx="473.2" cy="78.9" r="0.55" fill="#7c84b8" fill-opacity="0.4"/>
<circle cx="483.4" cy="81.1" r="0.55" fill="#7c84b8" fill-opacity="0.4"/>
<circle cx="477.0" cy="84.2" r="0.55" fill="#5c64a0" fill-opacity="0.4"/>
<circle cx="469.9" cy="86.5" r="0.55" fill="#5c64a0" fill-opacity="0.4"/>
<circle cx="473.0" cy="86.3" r="0.55" fill="#7c84b8" fill-opacity="0.4"/>
<circle cx="472.1" cy="84.9" r="0.55" fill="#5c64a0" fill-opacity="0.4"/>
<circle cx="474.2" cy="85.8" r="0.55" fill="#7c84b8" fill-opacity="0.4"/>
<circle cx="481.1" cy="79.4" r="0.55" fill="#5c64a0" fill-opacity="0.4"/>
<circle cx="486.5" cy="78.2" r="0.55" fill="#8c94c4" fill-opacity="0.4"/>
<circle cx="478.2" cy="86.4" r="0.55" fill="#6a72aa" fill-opacity="0.4"/>
<circle cx="470.8" cy="86.5" r="0.55" fill="#5c64a0" fill-opacity="0.4"/>
<circle cx="485.1" cy="82.5" r="0.55" fill="#6a72aa" fill-opacity="0.4"/>
<circle cx="474.5" cy="83.3" r="0.55" fill="#6a72aa" fill-opacity="0.4"/>
<circle cx="471.7" cy="82.8" r="0.55" fill="#5c64a0" fill-opacity="0.4"/>
<circle cx="475.7" cy="88.1" r="0.55" fill="#8c94c4" fill-opacity="0.4"/>
<circle cx="464.5" cy="82.7" r="0.55" fill="#7c84b8" fill-opacity="0.4"/>
<circle cx="473.9" cy="86.6" r="0.55" fill="#5c64a0" fill-opacity="0.4"/>
<circle cx="471.8" cy="86.1" r="0.55" fill="#6a72aa" fill-opacity="0.4"/>
<circle cx="477.8" cy="79.2" r="0.55" fill="#8c94c4" fill-opacity="0.4"/>
<circle cx="478.1" cy="78.7" r="0.55" fill="#6a72aa" fill-opacity="0.4"/>
<circle cx="467.4" cy="81.6" r="0.55" fill="#8c94c4" fill-opacity="0.4"/>
<circle cx="473.2" cy="85.9" r="0.55" fill="#5c64a0" fill-opacity="0.4"/>
<circle cx="471.8" cy="81.2" r="0.55" fill="#7c84b8" fill-opacity="0.4"/>
<circle cx="466.7" cy="78.4" r="0.55" fill="#8c94c4" fill-opacity="0.4"/>
<circle cx="477.5" cy="84.2" r="0.55" fill="#8c94c4" fill-opacity="0.4"/>
<circle cx="478.4" cy="86.1" r="0.55" fill="#5c64a0" fill-opacity="0.4"/>
<circle cx="473.3" cy="84.5" r="0.55" fill="#6a72aa" fill-opacity="0.4"/>
<circle cx="465.6" cy="88.9" r="0.55" fill="#6a72aa" fill-opacity="0.4"/>
<circle cx="469.4" cy="81.2" r="0.55" fill="#7c84b8" fill-opacity="0.4"/>
<circle cx="472.1" cy="80.6" r="0.55" fill="#5c64a0" fill-opacity="0.4"/>
<circle cx="482.4" cy="82.7" r="0.55" fill="#5c64a0" fill-opacity="0.4"/>
<circle cx="468.1" cy="82.5" r="0.55" fill="#7c84b8" fill-opacity="0.4"/>
<circle cx="480.7" cy="81.6" r="0.55" fill="#6a72aa" fill-opacity="0.4"/>
<circle cx="482.7" cy="82.8" r="0.55" fill="#8c94c4" fill-opacity="0.4"/>
<circle cx="469.1" cy="84.9" r="0.55" fill="#5c64a0" fill-opacity="0.4"/>
<circle cx="469.0" cy="84.2" r="0.55" fill="#8c94c4" fill-opacity="0.4"/>
<circle cx="468.4" cy="85.3" r="0.55" fill="#6a72aa" fill-opacity="0.4"/>
<circle cx="466.3" cy="88.6" r="0.55" fill="#5c64a0" fill-opacity="0.4"/>
<circle cx="459.3" cy="83.8" r="0.55" fill="#6a72aa" fill-opacity="0.4"/>
<circle cx="463.8" cy="82.6" r="0.55" fill="#8c94c4" fill-opacity="0.4"/>
<circle cx="486.2" cy="86.1" r="0.55" fill="#8c94c4" fill-opacity="0.4"/>
<circle cx="471.6" cy="82.4" r="0.55" fill="#8c94c4" fill-opacity="0.4"/>
<circle cx="469.6" cy="84.6" r="0.55" fill="#6a72aa" fill-opacity="0.4"/>
<circle cx="470.6" cy="79.2" r="0.55" fill="#7c84b8" fill-opacity="0.4"/>
<circle cx="490.9" cy="80.1" r="0.55" fill="#5c64a0" fill-opacity="0.4"/>
<circle cx="472.4" cy="78.5" r="0.55" fill="#8c94c4" fill-opacity="0.4"/>
<circle cx="466.9" cy="88.5" r="0.55" fill="#8c94c4" fill-opacity="0.4"/>
<circle cx="481.5" cy="83.4" r="0.55" fill="#5c64a0" fill-opacity="0.4"/>
<circle cx="482.0" cy="79.8" r="0.55" fill="#7c84b8" fill-opacity="0.4"/>
<circle cx="478.8" cy="80.2" r="0.55" fill="#8c94c4" fill-opacity="0.4"/>
<circle cx="482.9" cy="84.9" r="0.55" fill="#8c94c4" fill-opacity="0.4"/>
<circle cx="474.0" cy="84.8" r="0.55" fill="#7c84b8" fill-opacity="0.4"/>
<circle cx="469.5" cy="91.0" r="0.55" fill="#8c94c4" fill-opacity="0.4"/>
<circle cx="472.5" cy="84.0" r="0.55" fill="#8c94c4" fill-opacity="0.4"/>
<circle cx="471.7" cy="82.5" r="0.55" fill="#6a72aa" fill-opacity="0.4"/>
<circle cx="478.0" cy="86.8" r="0.55" fill="#8c94c4" fill-opacity="0.4"/>
<circle cx="476.5" cy="87.0" r="0.55" fill="#8c94c4" fill-opacity="0.4"/>
<circle cx="476.1" cy="85.4" r="0.55" fill="#6a72aa" fill-opacity="0.4"/>
<circle cx="476.1" cy="82.9" r="0.55" fill="#7c84b8" fill-opacity="0.4"/>
<circle cx="475.2" cy="91.6" r="0.55" fill="#8c94c4" fill-opacity="0.4"/>
<circle cx="477.4" cy="82.6" r="0.55" fill="#6a72aa" fill-opacity="0.4"/>
<circle cx="469.6" cy="81.5" r="0.55" fill="#5c64a0" fill-opacity="0.4"/>
<circle cx="479.3" cy="82.4" r="0.55" fill="#6a72aa" fill-opacity="0.4"/>
<circle cx="473.6" cy="79.5" r="0.55" fill="#6a72aa" fill-opacity="0.4"/>
<circle cx="476.8" cy="85.9" r="0.55" fill="#6a72aa" fill-opacity="0.4"/>
<circle cx="476.4" cy="79.2" r="0.55" fill="#6a72aa" fill-opacity="0.4"/>
<circle cx="484.6" cy="82.0" r="0.55" fill="#6a72aa" fill-opacity="0.4"/>
<circle cx="469.6" cy="82.2" r="0.55" fill="#6a72aa" fill-opacity="0.4"/>
<circle cx="479.3" cy="79.5" r="0.55" fill="#7c84b8" fill-opacity="0.4"/>
<circle cx="474.5" cy="89.3" r="0.55" fill="#8c94c4" fill-opacity="0.4"/>
<circle cx="472.7" cy="81.9" r="0.55" fill="#8c94c4" fill-opacity="0.4"/>
<circle cx="478.3" cy="83.4" r="0.55" fill="#5c64a0" fill-opacity="0.4"/>
<circle cx="486.4" cy="81.3" r="0.55" fill="#7c84b8" fill-opacity="0.4"/>
<circle cx="471.3" cy="85.8" r="0.55" fill="#8c94c4" fill-opacity="0.4"/>
<circle cx="474.2" cy="85.1" r="0.55" fill="#6a72aa" fill-opacity="0.4"/>
<circle cx="488.0" cy="80.6" r="0.55" fill="#6a72aa" fill-opacity="0.4"/>
<circle cx="464.4" cy="82.7" r="0.55" fill="#8c94c4" fill-opacity="0.4"/>
<circle cx="456.6" cy="86.1" r="0.55" fill="#8c94c4" fill-opacity="0.4"/>
<circle cx="471.0" cy="85.3" r="0.55" fill="#5c64a0" fill-opacity="0.4"/>
<circle cx="460.7" cy="81.7" r="0.55" fill="#5c64a0" fill-opacity="0.4"/>
<circle cx="467.5" cy="86.2" r="0.55" fill="#5c64a0" fill-opacity="0.4"/>
<circle cx="474.7" cy="81.1" r="0.55" fill="#8c94c4" fill-opacity="0.4"/>
<circle cx="461.6" cy="80.0" r="0.55" fill="#7c84b8" fill-opacity="0.4"/>
<circle cx="479.6" cy="87.2" r="0.55" fill="#8c94c4" fill-opacity="0.4"/>
<circle cx="486.2" cy="80.4" r="0.55" fill="#5c64a0" fill-opacity="0.4"/>
<circle cx="478.7" cy="81.8" r="0.55" fill="#6a72aa" fill-opacity="0.4"/>
<circle cx="473.5" cy="84.9" r="0.55" fill="#7c84b8" fill-opacity="0.4"/>
<circle cx="474.7" cy="82.6" r="0.55" fill="#5c64a0" fill-opacity="0.4"/>
<circle cx="475.6" cy="83.4" r="0.55" fill="#8c94c4" fill-opacity="0.4"/>
<circle cx="476.0" cy="81.6" r="0.55" fill="#6a72aa" fill-opacity="0.4"/>
<circle cx="470.3" cy="87.0" r="0.55" fill="#7c84b8" fill-opacity="0.4"/>
<circle cx="483.1" cy="83.4" r="0.55" fill="#6a72aa" fill-opacity="0.4"/>
<circle cx="467.4" cy="85.0" r="0.55" fill="#6a72aa" fill-opacity="0.4"/>
<circle cx="473.1" cy="86.1" r="0.55" fill="#7c84b8" fill-opacity="0.4"/>
<circle cx="469.6" cy="83.4" r="0.55" fill="#8c94c4" fill-opacity="0.4"/>
<circle cx="465.7" cy="82.5" r="0.55" fill="#5c64a0" fill-opacity="0.4"/>
<circle cx="477.2" cy="86.6" r="0.55" fill="#5c64a0" fill-opacity="0.4"/>
<circle cx="473.9" cy="81.7" r="0.55" fill="#8c94c4" fill-opacity="0.4"/>
<circle cx="476.2" cy="79.7" r="0.55" fill="#5c64a0" fill-opacity="0.4"/>
<circle cx="475.5" cy="80.7" r="0.55" fill="#5c64a0" fill-opacity="0.4"/>
<circle cx="472.4" cy="85.5" r="0.55" fill="#7c84b8" fill-opacity="0.4"/>
<circle cx="482.4" cy="80.3" r="0.55" fill="#8c94c4" fill-opacity="0.4"/>
<circle cx="474.3" cy="79.8" r="0.55" fill="#8c94c4" fill-opacity="0.4"/>
<circle cx="471.6" cy="86.6" r="0.55" fill="#6a72aa" fill-opacity="0.4"/>
<circle cx="475.0" cy="86.9" r="0.55" fill="#5c64a0" fill-opacity="0.4"/>
<circle cx="474.1" cy="84.2" r="0.55" fill="#5c64a0" fill-opacity="0.4"/>
<circle cx="466.7" cy="88.7" r="0.55" fill="#8c94c4" fill-opacity="0.4"/>
<circle cx="481.5" cy="77.1" r="0.55" fill="#5c64a0" fill-opacity="0.4"/>
<circle cx="465.2" cy="85.9" r="0.55" fill="#6a72aa" fill-opacity="0.4"/>
<circle cx="492.5" cy="78.2" r="0.55" fill="#6a72aa" fill-opacity="0.4"/>
<circle cx="473.0" cy="82.8" r="0.55" fill="#6a72aa" fill-opacity="0.4"/>
<circle cx="473.2" cy="80.4" r="0.55" fill="#7c84b8" fill-opacity="0.4"/>
<circle cx="487.3" cy="79.4" r="0.55" fill="#5c64a0" fill-opacity="0.4"/>
<circle cx="484.1" cy="85.5" r="0.55" fill="#6a72aa" fill-opacity="0.4"/>
<circle cx="475.5" cy="79.1" r="0.55" fill="#7c84b8" fill-opacity="0.4"/>
<circle cx="467.0" cy="82.4" r="0.55" fill="#8c94c4" fill-opacity="0.4"/>
<circle cx="469.6" cy="85.6" r="0.55" fill="#6a72aa" fill-opacity="0.4"/>
<circle cx="471.8" cy="85.1" r="0.55" fill="#6a72aa" fill-opacity="0.4"/>
<circle cx="486.5" cy="86.5" r="0.55" fill="#7c84b8" fill-opacity="0.4"/>
<circle cx="475.6" cy="87.8" r="0.55" fill="#7c84b8" fill-opacity="0.4"/>
<circle cx="469.7" cy="86.2" r="0.55" fill="#7c84b8" fill-opacity="0.4"/>
<circle cx="459.6" cy="83.1" r="0.55" fill="#6a72aa" fill-opacity="0.4"/>
<circle cx="464.2" cy="81.7" r="0.55" fill="#6a72aa" fill-opacity="0.4"/>
<circle cx="482.4" cy="85.0" r="0.55" fill="#6a72aa" fill-opacity="0.4"/>
<circle cx="482.2" cy="80.8" r="0.55" fill="#7c84b8" fill-opacity="0.4"/>
<circle cx="471.7" cy="85.3" r="0.55" fill="#5c64a0" fill-opacity="0.4"/>
<circle cx="477.6" cy="84.1" r="0.55" fill="#7c84b8" fill-opacity="0.4"/>
<circle cx="463.2" cy="85.6" r="0.55" fill="#8c94c4" fill-opacity="0.4"/>
<circle cx="473.5" cy="82.9" r="0.55" fill="#8c94c4" fill-opacity="0.4"/>
<circle cx="478.7" cy="85.8" r="0.55" fill="#6a72aa" fill-opacity="0.4"/>
<circle cx="486.6" cy="86.1" r="0.55" fill="#7c84b8" fill-opacity="0.4"/>
<circle cx="468.1" cy="77.2" r="0.55" fill="#8c94c4" fill-opacity="0.4"/>
<circle cx="478.5" cy="87.2" r="0.55" fill="#8c94c4" fill-opacity="0.4"/>
<circle cx="478.3" cy="86.9" r="0.55" fill="#7c84b8" fill-opacity="0.4"/>
<circle cx="474.0" cy="83.8" r="0.55" fill="#7c84b8" fill-opacity="0.4"/>
<circle cx="474.5" cy="84.5" r="0.55" fill="#7c84b8" fill-opacity="0.4"/>
<circle cx="481.6" cy="78.5" r="0.55" fill="#7c84b8" fill-opacity="0.4"/>
<circle cx="476.1" cy="78.8" r="0.55" fill="#5c64a0" fill-opacity="0.4"/>
<circle cx="469.8" cy="83.7" r="0.55" fill="#7c84b8" fill-opacity="0.4"/>
<circle cx="469.4" cy="84.7" r="0.55" fill="#5c64a0" fill-opacity="0.4"/>
<circle cx="471.8" cy="83.5" r="0.55" fill="#7c84b8" fill-opacity="0.4"/>
<circle cx="477.7" cy="82.9" r="0.55" fill="#6a72aa" fill-opacity="0.4"/>
<circle cx="468.5" cy="86.2" r="0.55" fill="#7c84b8" fill-opacity="0.4"/>
<circle cx="473.6" cy="85.0" r="0.55" fill="#7c84b8" fill-opacity="0.4"/>
<circle cx="473.7" cy="83.9" r="0.55" fill="#8c94c4" fill-opacity="0.4"/>
<circle cx="470.6" cy="89.1" r="0.55" fill="#8c94c4" fill-opacity="0.4"/>
<circle cx="479.7" cy="80.5" r="0.55" fill="#8c94c4" fill-opacity="0.4"/>
<circle cx="468.4" cy="88.9" r="0.55" fill="#6a72aa" fill-opacity="0.4"/>
<circle cx="468.6" cy="88.9" r="0.55" fill="#5c64a0" fill-opacity="0.4"/>
<circle cx="477.7" cy="77.8" r="0.55" fill="#8c94c4" fill-opacity="0.4"/>
<circle cx="482.5" cy="86.0" r="0.55" fill="#5c64a0" fill-opacity="0.4"/>
<circle cx="463.0" cy="86.2" r="0.55" fill="#6a72aa" fill-opacity="0.4"/>
<circle cx="462.3" cy="81.4" r="0.55" fill="#5c64a0" fill-opacity="0.4"/>
<circle cx="469.9" cy="79.5" r="0.55" fill="#8c94c4" fill-opacity="0.4"/>
<circle cx="481.6" cy="80.7" r="0.55" fill="#8c94c4" fill-opacity="0.4"/>
<circle cx="459.1" cy="84.3" r="0.55" fill="#5c64a0" fill-opacity="0.4"/>
<circle cx="474.6" cy="84.9" r="0.55" fill="#5c64a0" fill-opacity="0.4"/>
<circle cx="475.8" cy="86.6" r="0.55" fill="#8c94c4" fill-opacity="0.4"/>
<circle cx="478.7" cy="83.2" r="0.55" fill="#8c94c4" fill-opacity="0.4"/>
<circle cx="464.0" cy="85.3" r="0.55" fill="#5c64a0" fill-opacity="0.4"/>
<circle cx="482.3" cy="85.9" r="0.55" fill="#5c64a0" fill-opacity="0.4"/>
<circle cx="482.1" cy="85.1" r="0.55" fill="#7c84b8" fill-opacity="0.4"/>
<circle cx="466.6" cy="84.7" r="0.55" fill="#8c94c4" fill-opacity="0.4"/>
<circle cx="474.4" cy="90.1" r="0.55" fill="#8c94c4" fill-opacity="0.4"/>
<circle cx="480.5" cy="72.2" r="0.55" fill="#6a72aa" fill-opacity="0.4"/>
<circle cx="476.1" cy="83.5" r="0.55" fill="#8c94c4" fill-opacity="0.4"/>
<circle cx="479.5" cy="76.4" r="0.55" fill="#7c84b8" fill-opacity="0.4"/>
<circle cx="462.3" cy="81.6" r="0.55" fill="#7c84b8" fill-opacity="0.4"/>
<circle cx="472.2" cy="79.9" r="0.55" fill="#6a72aa" fill-opacity="0.4"/>
<circle cx="476.4" cy="84.0" r="0.55" fill="#7c84b8" fill-opacity="0.4"/>
<circle cx="465.7" cy="81.4" r="0.55" fill="#5c64a0" fill-opacity="0.4"/>
<circle cx="468.8" cy="84.5" r="0.55" fill="#7c84b8" fill-opacity="0.4"/>
<circle cx="477.7" cy="74.8" r="0.55" fill="#6a72aa" fill-opacity="0.4"/>
<circle cx="477.0" cy="81.1" r="0.55" fill="#5c64a0" fill-opacity="0.4"/>
<circle cx="484.1" cy="81.0" r="0.55" fill="#5c64a0" fill-opacity="0.4"/>
<circle cx="470.4" cy="91.9" r="0.55" fill="#5c64a0" fill-opacity="0.4"/>
<circle cx="474.4" cy="88.0" r="0.55" fill="#5c64a0" fill-opacity="0.4"/>
<circle cx="472.9" cy="84.8" r="0.55" fill="#8c94c4" fill-opacity="0.4"/>
<circle cx="468.9" cy="79.1" r="0.55" fill="#6a72aa" fill-opacity="0.4"/>
<circle cx="475.3" cy="83.0" r="0.55" fill="#5c64a0" fill-opacity="0.4"/>
<circle cx="469.6" cy="87.5" r="0.55" fill="#6a72aa" fill-opacity="0.4"/>
<circle cx="487.4" cy="82.9" r="0.55" fill="#5c64a0" fill-opacity="0.4"/>
<circle cx="483.5" cy="88.2" r="0.55" fill="#6a72aa" fill-opacity="0.4"/>
<circle cx="462.8" cy="85.1" r="0.55" fill="#7c84b8" fill-opacity="0.4"/>
<circle cx="453.8" cy="83.7" r="0.55" fill="#6a72aa" fill-opacity="0.4"/>
<circle cx="475.8" cy="79.6" r="0.55" fill="#6a72aa" fill-opacity="0.4"/>
<circle cx="472.1" cy="83.3" r="0.55" fill="#5c64a0" fill-opacity="0.4"/>
<circle cx="473.7" cy="82.5" r="0.55" fill="#6a72aa" fill-opacity="0.4"/>
<circle cx="478.2" cy="84.0" r="0.55" fill="#5c64a0" fill-opacity="0.4"/>
<circle cx="466.4" cy="83.0" r="0.55" fill="#6a72aa" fill-opacity="0.4"/>
<circle cx="463.7" cy="79.0" r="0.55" fill="#7c84b8" fill-opacity="0.4"/>
<circle cx="464.3" cy="84.7" r="0.55" fill="#7c84b8" fill-opacity="0.4"/>
<circle cx="478.8" cy="79.6" r="0.55" fill="#7c84b8" fill-opacity="0.4"/>
<circle cx="477.6" cy="82.9" r="0.55" fill="#8c94c4" fill-opacity="0.4"/>
<circle cx="480.5" cy="92.8" r="0.55" fill="#7c84b8" fill-opacity="0.4"/>
<circle cx="486.8" cy="82.6" r="0.55" fill="#6a72aa" fill-opacity="0.4"/>
<circle cx="467.2" cy="86.8" r="0.55" fill="#6a72aa" fill-opacity="0.4"/>
<circle cx="473.9" cy="87.7" r="0.55" fill="#6a72aa" fill-opacity="0.4"/>
<circle cx="482.5" cy="85.8" r="0.55" fill="#6a72aa" fill-opacity="0.4"/>
<circle cx="480.8" cy="82.8" r="0.55" fill="#6a72aa" fill-opacity="0.4"/>
<circle cx="471.5" cy="83.9" r="0.55" fill="#5c64a0" fill-opacity="0.4"/>
<circle cx="480.3" cy="80.6" r="0.55" fill="#8c94c4" fill-opacity="0.4"/>
<circle cx="465.1" cy="79.0" r="0.55" fill="#5c64a0" fill-opacity="0.4"/>
<circle cx="474.2" cy="80.0" r="0.55" fill="#7c84b8" fill-opacity="0.4"/>
<circle cx="473.4" cy="80.8" r="0.55" fill="#7c84b8" fill-opacity="0.4"/>
<circle cx="480.2" cy="83.5" r="0.55" fill="#8c94c4" fill-opacity="0.4"/>
<circle cx="477.5" cy="80.4" r="0.55" fill="#7c84b8" fill-opacity="0.4"/>
<circle cx="466.0" cy="85.7" r="0.55" fill="#5c64a0" fill-opacity="0.4"/>
<circle cx="477.3" cy="80.3" r="0.55" fill="#5c64a0" fill-opacity="0.4"/>
<circle cx="480.7" cy="84.7" r="0.55" fill="#5c64a0" fill-opacity="0.4"/>
<circle cx="475.5" cy="84.1" r="0.55" fill="#6a72aa" fill-opacity="0.4"/>
<circle cx="477.6" cy="87.4" r="0.55" fill="#6a72aa" fill-opacity="0.4"/>
<circle cx="477.7" cy="89.6" r="0.55" fill="#7c84b8" fill-opacity="0.4"/>
<circle cx="474.3" cy="81.9" r="0.55" fill="#6a72aa" fill-opacity="0.4"/>
<circle cx="477.3" cy="84.9" r="0.55" fill="#5c64a0" fill-opacity="0.4"/>
<circle cx="468.4" cy="83.3" r="0.55" fill="#7c84b8" fill-opacity="0.4"/>
<circle cx="480.0" cy="77.5" r="0.55" fill="#6a72aa" fill-opacity="0.4"/>
<circle cx="488.8" cy="84.4" r="0.55" fill="#7c84b8" fill-opacity="0.4"/>
<circle cx="473.7" cy="84.0" r="0.55" fill="#5c64a0" fill-opacity="0.4"/>
<circle cx="473.4" cy="83.6" r="0.55" fill="#7c84b8" fill-opacity="0.4"/>
<circle cx="472.5" cy="84.7" r="0.55" fill="#5c64a0" fill-opacity="0.4"/>
<circle cx="479.9" cy="85.3" r="0.55" fill="#7c84b8" fill-opacity="0.4"/>
<circle cx="474.1" cy="82.4" r="0.55" fill="#7c84b8" fill-opacity="0.4"/>
<circle cx="471.3" cy="79.1" r="0.55" fill="#5c64a0" fill-opacity="0.4"/>
<circle cx="489.8" cy="85.0" r="0.55" fill="#7c84b8" fill-opacity="0.4"/>
<circle cx="467.8" cy="84.1" r="0.55" fill="#6a72aa" fill-opacity="0.4"/>
<circle cx="461.6" cy="86.1" r="0.55" fill="#7c84b8" fill-opacity="0.4"/>
<circle cx="475.4" cy="83.8" r="0.55" fill="#6a72aa" fill-opacity="0.4"/>
<circle cx="478.6" cy="83.7" r="0.55" fill="#5c64a0" fill-opacity="0.4"/>
<circle cx="473.5" cy="83.3" r="0.55" fill="#5c64a0" fill-opacity="0.4"/>
<circle cx="470.7" cy="89.2" r="0.55" fill="#8c94c4" fill-opacity="0.4"/>
<circle cx="466.5" cy="85.2" r="0.55" fill="#6a72aa" fill-opacity="0.4"/>
<circle cx="464.9" cy="89.0" r="0.55" fill="#7c84b8" fill-opacity="0.4"/>
<circle cx="483.0" cy="80.0" r="0.55" fill="#6a72aa" fill-opacity="0.4"/>
<circle cx="475.8" cy="79.1" r="0.55" fill="#8c94c4" fill-opacity="0.4"/>
<circle cx="476.9" cy="80.1" r="0.55" fill="#6a72aa" fill-opacity="0.4"/>
<circle cx="485.0" cy="81.4" r="0.55" fill="#5c64a0" fill-opacity="0.4"/>
<circle cx="479.2" cy="81.1" r="0.55" fill="#7c84b8" fill-opacity="0.4"/>
<circle cx="462.3" cy="85.4" r="0.55" fill="#5c64a0" fill-opacity="0.4"/>
<circle cx="473.6" cy="80.6" r="0.55" fill="#5c64a0" fill-opacity="0.4"/>
<circle cx="470.9" cy="80.6" r="0.55" fill="#5c64a0" fill-opacity="0.4"/>
<circle cx="470.4" cy="83.8" r="0.55" fill="#7c84b8" fill-opacity="0.4"/>
<circle cx="484.1" cy="87.3" r="0.55" fill="#5c64a0" fill-opacity="0.4"/>
<circle cx="467.3" cy="84.8" r="0.55" fill="#8c94c4" fill-opacity="0.4"/>
<circle cx="471.6" cy="81.3" r="0.55" fill="#5c64a0" fill-opacity="0.4"/>
<circle cx="476.4" cy="75.9" r="0.55" fill="#6a72aa" fill-opacity="0.4"/>
<circle cx="477.8" cy="83.2" r="0.55" fill="#5c64a0" fill-opacity="0.4"/>
<circle cx="474.7" cy="84.4" r="0.55" fill="#5c64a0" fill-opacity="0.4"/>
<circle cx="475.6" cy="78.6" r="0.55" fill="#5c64a0" fill-opacity="0.4"/>
<circle cx="459.3" cy="82.3" r="0.55" fill="#6a72aa" fill-opacity="0.4"/>
<circle cx="479.6" cy="85.4" r="0.55" fill="#8c94c4" fill-opacity="0.4"/>
<circle cx="459.1" cy="87.8" r="0.55" fill="#6a72aa" fill-opacity="0.4"/>
<circle cx="477.3" cy="82.0" r="0.55" fill="#8c94c4" fill-opacity="0.4"/>
<circle cx="483.3" cy="84.0" r="0.55" fill="#7c84b8" fill-opacity="0.4"/>
<circle cx="483.9" cy="75.4" r="0.55" fill="#8c94c4" fill-opacity="0.4"/>
<circle cx="473.9" cy="82.5" r="0.55" fill="#8c94c4" fill-opacity="0.4"/>
<circle cx="484.6" cy="84.4" r="0.55" fill="#7c84b8" fill-opacity="0.4"/>
<circle cx="471.2" cy="86.0" r="0.55" fill="#6a72aa" fill-opacity="0.4"/>
<circle cx="478.6" cy="83.8" r="0.55" fill="#5c64a0" fill-opacity="0.4"/>
<circle cx="482.7" cy="81.1" r="0.55" fill="#8c94c4" fill-opacity="0.4"/>
<circle cx="480.0" cy="81.2" r="0.55" fill="#6a72aa" fill-opacity="0.4"/>
<circle cx="470.4" cy="80.2" r="0.55" fill="#8c94c4" fill-opacity="0.4"/>
<circle cx="476.7" cy="85.7" r="0.55" fill="#5c64a0" fill-opacity="0.4"/>
<circle cx="476.0" cy="83.0" r="0.55" fill="#7c84b8" fill-opacity="0.4"/>
<circle cx="463.5" cy="86.9" r="0.55" fill="#5c64a0" fill-opacity="0.4"/>
<circle cx="483.4" cy="85.1" r="0.55" fill="#6a72aa" fill-opacity="0.4"/>
<circle cx="474.1" cy="84.9" r="0.55" fill="#5c64a0" fill-opacity="0.4"/>
<circle cx="471.8" cy="82.0" r="0.55" fill="#6a72aa" fill-opacity="0.4"/>
<circle cx="475.0" cy="85.6" r="0.55" fill="#8c94c4" fill-opacity="0.4"/>
<circle cx="468.5" cy="82.3" r="0.55" fill="#6a72aa" fill-opacity="0.4"/>
<circle cx="461.4" cy="91.4" r="0.55" fill="#5c64a0" fill-opacity="0.4"/>
<circle cx="477.7" cy="79.7" r="0.55" fill="#7c84b8" fill-opacity="0.4"/>
<circle cx="477.2" cy="83.2" r="0.55" fill="#8c94c4" fill-opacity="0.4"/>
<circle cx="474.9" cy="79.4" r="0.55" fill="#5c64a0" fill-opacity="0.4"/>
<circle cx="472.2" cy="83.2" r="0.55" fill="#8c94c4" fill-opacity="0.4"/>
<circle cx="482.7" cy="81.0" r="0.55" fill="#5c64a0" fill-opacity="0.4"/>
<circle cx="486.1" cy="76.9" r="0.55" fill="#6a72aa" fill-opacity="0.4"/>
<circle cx="476.0" cy="88.1" r="0.55" fill="#5c64a0" fill-opacity="0.4"/>
<circle cx="463.9" cy="80.1" r="0.55" fill="#6a72aa" fill-opacity="0.4"/>
<circle cx="481.5" cy="84.7" r="0.55" fill="#7c84b8" fill-opacity="0.4"/>
<circle cx="465.3" cy="90.3" r="0.55" fill="#8c94c4" fill-opacity="0.4"/>
<circle cx="468.0" cy="80.7" r="0.55" fill="#5c64a0" fill-opacity="0.4"/>
<circle cx="482.9" cy="87.8" r="0.55" fill="#7c84b8" fill-opacity="0.4"/>
<circle cx="472.6" cy="79.7" r="0.55" fill="#6a72aa" fill-opacity="0.4"/>
<circle cx="480.4" cy="83.5" r="0.55" fill="#8c94c4" fill-opacity="0.4"/>
<circle cx="481.9" cy="81.4" r="0.55" fill="#6a72aa" fill-opacity="0.4"/>
<circle cx="465.4" cy="85.5" r="0.55" fill="#8c94c4" fill-opacity="0.4"/>
<circle cx="475.0" cy="89.9" r="0.55" fill="#7c84b8" fill-opacity="0.4"/>
<circle cx="477.4" cy="81.1" r="0.55" fill="#8c94c4" fill-opacity="0.4"/>
<circle cx="480.3" cy="85.5" r="0.55" fill="#7c84b8" fill-opacity="0.4"/>
<circle cx="473.8" cy="81.7" r="0.55" fill="#6a72aa" fill-opacity="0.4"/>
<circle cx="482.1" cy="83.1" r="0.55" fill="#6a72aa" fill-opacity="0.4"/>
<circle cx="477.3" cy="80.3" r="0.55" fill="#6a72aa" fill-opacity="0.4"/>
<circle cx="470.6" cy="87.4" r="0.55" fill="#7c84b8" fill-opacity="0.4"/>
<circle cx="472.7" cy="83.8" r="0.55" fill="#6a72aa" fill-opacity="0.4"/>
<circle cx="491.6" cy="78.5" r="0.55" fill="#7c84b8" fill-opacity="0.4"/>
<circle cx="473.8" cy="83.8" r="0.55" fill="#7c84b8" fill-opacity="0.4"/>
<circle cx="478.0" cy="83.5" r="0.55" fill="#8c94c4" fill-opacity="0.4"/>
<circle cx="488.4" cy="80.2" r="0.55" fill="#5c64a0" fill-opacity="0.4"/>
<circle cx="481.8" cy="84.8" r="0.55" fill="#5c64a0" fill-opacity="0.4"/>
<circle cx="487.4" cy="76.9" r="0.55" fill="#6a72aa" fill-opacity="0.4"/>
<circle cx="467.1" cy="86.8" r="0.55" fill="#8c94c4" fill-opacity="0.4"/>
<circle cx="472.9" cy="83.7" r="0.55" fill="#8c94c4" fill-opacity="0.4"/>
<circle cx="467.6" cy="80.5" r="0.55" fill="#5c64a0" fill-opacity="0.4"/>
<circle cx="459.5" cy="86.7" r="0.55" fill="#7c84b8" fill-opacity="0.4"/>
<circle cx="474.7" cy="75.8" r="0.55" fill="#6a72aa" fill-opacity="0.4"/>
<circle cx="471.8" cy="84.6" r="0.55" fill="#6a72aa" fill-opacity="0.4"/>
<ellipse cx="474.30" cy="83.80" rx="9.80" ry="5.60" fill="#8a90c0" fill-opacity="0.6" stroke="none" stroke-width="0.5" transform="rotate(-10 474.30 83.80)"/>
<ellipse cx="474.30" cy="83.80" rx="7.40" ry="4.20" fill="#7078b0" fill-opacity="0.65" stroke="none" stroke-width="0.5" transform="rotate(-10 474.30 83.80)"/>
<ellipse cx="474.30" cy="83.80" rx="7.00" ry="4.00" fill="none" fill-opacity="1" stroke="#b0b4dc" stroke-width="0.35" transform="rotate(-10 474.30 83.80)"/>
<ellipse cx="474.30" cy="83.80" rx="5.50" ry="3.15" fill="none" fill-opacity="1" stroke="#b0b4dc" stroke-width="0.35" transform="rotate(-10 474.30 83.80)"/>
<ellipse cx="474.30" cy="83.80" rx="4.00" ry="2.30" fill="none" fill-opacity="1" stroke="#b0b4dc" stroke-width="0.35" transform="rotate(-10 474.30 83.80)"/>
<ellipse cx="474.30" cy="83.80" rx="2.50" ry="1.45" fill="none" fill-opacity="1" stroke="#b0b4dc" stroke-width="0.35" transform="rotate(-10 474.30 83.80)"/>
<rect x="463.50" y="76.70" width="22.40" height="14.10" fill="none" stroke="#888" stroke-width="0.6" />
<circle cx="494.3" cy="86.8" r="0.5" fill="#a0a4dc" fill-opacity="0.3"/>
<circle cx="492.2" cy="88.1" r="0.5" fill="#6b70c0" fill-opacity="0.3"/>
<circle cx="493.2" cy="83.9" r="0.5" fill="#8a8fd0" fill-opacity="0.3"/>
<circle cx="492.7" cy="82.6" r="0.5" fill="#7c7fc4" fill-opacity="0.3"/>
<circle cx="492.9" cy="83.6" r="0.5" fill="#8a8fd0" fill-opacity="0.3"/>
<circle cx="495.3" cy="83.1" r="0.5" fill="#7c7fc4" fill-opacity="0.3"/>
<circle cx="493.4" cy="87.2" r="0.5" fill="#a0a4dc" fill-opacity="0.3"/>
<circle cx="495.0" cy="87.1" r="0.5" fill="#6b70c0" fill-opacity="0.3"/>
<circle cx="499.4" cy="87.4" r="0.5" fill="#a0a4dc" fill-opacity="0.3"/>
<circle cx="496.0" cy="87.0" r="0.5" fill="#a0a4dc" fill-opacity="0.3"/>
<circle cx="492.4" cy="88.2" r="0.5" fill="#6b70c0" fill-opacity="0.3"/>
<circle cx="490.2" cy="92.3" r="0.5" fill="#8a8fd0" fill-opacity="0.3"/>
<circle cx="499.4" cy="84.9" r="0.5" fill="#7c7fc4" fill-opacity="0.3"/>
<circle cx="493.5" cy="88.9" r="0.5" fill="#5a60b5" fill-opacity="0.3"/>
<circle cx="492.7" cy="81.8" r="0.5" fill="#8a8fd0" fill-opacity="0.3"/>
<circle cx="494.9" cy="93.4" r="0.5" fill="#8a8fd0" fill-opacity="0.3"/>
<circle cx="494.3" cy="86.3" r="0.5" fill="#a0a4dc" fill-opacity="0.3"/>
<circle cx="489.1" cy="85.3" r="0.5" fill="#a0a4dc" fill-opacity="0.3"/>
<circle cx="492.4" cy="92.6" r="0.5" fill="#8a8fd0" fill-opacity="0.3"/>
<circle cx="490.5" cy="90.4" r="0.5" fill="#a0a4dc" fill-opacity="0.3"/>
<circle cx="496.2" cy="85.5" r="0.5" fill="#6b70c0" fill-opacity="0.3"/>
<circle cx="496.2" cy="85.4" r="0.5" fill="#a0a4dc" fill-opacity="0.3"/>
<circle cx="497.3" cy="84.2" r="0.5" fill="#5a60b5" fill-opacity="0.3"/>
<circle cx="492.7" cy="88.1" r="0.5" fill="#6b70c0" fill-opacity="0.3"/>
<circle cx="497.4" cy="89.3" r="0.5" fill="#a0a4dc" fill-opacity="0.3"/>
<circle cx="492.7" cy="91.2" r="0.5" fill="#8a8fd0" fill-opacity="0.3"/>
<circle cx="499.0" cy="84.4" r="0.5" fill="#5a60b5" fill-opacity="0.3"/>
<circle cx="496.0" cy="89.1" r="0.5" fill="#a0a4dc" fill-opacity="0.3"/>
<circle cx="492.6" cy="91.7" r="0.5" fill="#8a8fd0" fill-opacity="0.3"/>
<circle cx="492.5" cy="87.4" r="0.5" fill="#6b70c0" fill-opacity="0.3"/>
<circle cx="496.3" cy="85.1" r="0.5" fill="#5a60b5" fill-opacity="0.3"/>
<circle cx="490.5" cy="89.4" r="0.5" fill="#5a60b5" fill-opacity="0.3"/>
<circle cx="491.9" cy="87.1" r="0.5" fill="#5a60b5" fill-opacity="0.3"/>
<circle cx="487.1" cy="95.8" r="0.5" fill="#7c7fc4" fill-opacity="0.3"/>
<circle cx="497.1" cy="80.3" r="0.5" fill="#6b70c0" fill-opacity="0.3"/>
<circle cx="494.7" cy="85.1" r="0.5" fill="#7c7fc4" fill-opacity="0.3"/>
<circle cx="489.5" cy="87.6" r="0.5" fill="#6b70c0" fill-opacity="0.3"/>
<circle cx="494.1" cy="86.8" r="0.5" fill="#7c7fc4" fill-opacity="0.3"/>
<circle cx="497.1" cy="83.0" r="0.5" fill="#5a60b5" fill-opacity="0.3"/>
<circle cx="496.1" cy="92.1" r="0.5" fill="#6b70c0" fill-opacity="0.3"/>
<circle cx="494.9" cy="83.4" r="0.5" fill="#6b70c0" fill-opacity="0.3"/>
<circle cx="491.8" cy="91.4" r="0.5" fill="#5a60b5" fill-opacity="0.3"/>
<circle cx="492.8" cy="91.3" r="0.5" fill="#5a60b5" fill-opacity="0.3"/>
<circle cx="493.1" cy="90.6" r="0.5" fill="#8a8fd0" fill-opacity="0.3"/>
<circle cx="496.1" cy="87.0" r="0.5" fill="#7c7fc4" fill-opacity="0.3"/>
<circle cx="496.5" cy="80.6" r="0.5" fill="#5a60b5" fill-opacity="0.3"/>
<circle cx="492.1" cy="89.9" r="0.5" fill="#8a8fd0" fill-opacity="0.3"/>
<circle cx="498.1" cy="84.0" r="0.5" fill="#a0a4dc" fill-opacity="0.3"/>
<circle cx="494.3" cy="85.7" r="0.5" fill="#7c7fc4" fill-opacity="0.3"/>
<circle cx="498.3" cy="81.3" r="0.5" fill="#7c7fc4" fill-opacity="0.3"/>
<circle cx="494.1" cy="89.0" r="0.5" fill="#7c7fc4" fill-opacity="0.3"/>
<circle cx="493.0" cy="86.7" r="0.5" fill="#5a60b5" fill-opacity="0.3"/>
<circle cx="494.1" cy="87.7" r="0.5" fill="#8a8fd0" fill-opacity="0.3"/>
<circle cx="495.1" cy="83.1" r="0.5" fill="#7c7fc4" fill-opacity="0.3"/>
<circle cx="497.8" cy="83.7" r="0.5" fill="#a0a4dc" fill-opacity="0.3"/>
<circle cx="492.6" cy="88.8" r="0.5" fill="#7c7fc4" fill-opacity="0.3"/>
<circle cx="490.2" cy="93.5" r="0.5" fill="#8a8fd0" fill-opacity="0.3"/>
<circle cx="493.0" cy="93.0" r="0.5" fill="#7c7fc4" fill-opacity="0.3"/>
<circle cx="489.7" cy="88.9" r="0.5" fill="#6b70c0" fill-opacity="0.3"/>
<circle cx="494.1" cy="90.5" r="0.5" fill="#8a8fd0" fill-opacity="0.3"/>
<polygon points="487.4,92.1 493.5,81.5 500.1,78.4 503.7,80.0 501.7,85.5 495.6,92.7 490.5,94.2" fill="#eeeef8" stroke="#6a6fa8" stroke-width="0.6"/>
<ellipse cx="495.10" cy="86.70" rx="7.60" ry="3.40" fill="#4858b0" fill-opacity="1" stroke="none" stroke-width="0.5" transform="rotate(-57 495.10 86.70)"/>
<ellipse cx="495.10" cy="86.70" rx="6.20" ry="2.60" fill="#5a7a9a" fill-opacity="1" stroke="none" stroke-width="0.5" transform="rotate(-57 495.10 86.70)"/>
<ellipse cx="495.10" cy="86.70" rx="4.80" ry="1.90" fill="#a9b830" fill-opacity="1" stroke="none" stroke-width="0.5" transform="rotate(-60 495.10 86.70)"/>
<ellipse cx="495.10" cy="86.70" rx="2.70" ry="1.10" fill="#e2c82a" fill-opacity="1" stroke="none" stroke-width="0.5" transform="rotate(-60 495.10 86.70)"/>
<rect x="461.30" y="72.30" width="46.80" height="47.00" fill="none" stroke="#3a3a3a" stroke-width="0.8" />
<rect x="459.30" y="109.10" width="2.00" height="2.00" fill="#111" stroke="none" stroke-width="1" />
<rect x="470.80" y="119.30" width="2.00" height="2.00" fill="#111" stroke="none" stroke-width="1" />
<line x1="459.10" y1="77.00" x2="461.30" y2="77.00" stroke="#222" stroke-width="0.8"/>
<line x1="459.10" y1="87.80" x2="461.30" y2="87.80" stroke="#222" stroke-width="0.8"/>
<line x1="459.10" y1="99.80" x2="461.30" y2="99.80" stroke="#222" stroke-width="0.8"/>
<line x1="459.10" y1="110.10" x2="461.30" y2="110.10" stroke="#222" stroke-width="0.8"/>
<line x1="459.80" y1="84.55" x2="461.30" y2="84.55" stroke="#222" stroke-width="0.6"/>
<line x1="459.80" y1="82.65" x2="461.30" y2="82.65" stroke="#222" stroke-width="0.6"/>
<line x1="459.80" y1="81.30" x2="461.30" y2="81.30" stroke="#222" stroke-width="0.6"/>
<line x1="459.80" y1="80.25" x2="461.30" y2="80.25" stroke="#222" stroke-width="0.6"/>
<line x1="459.80" y1="79.40" x2="461.30" y2="79.40" stroke="#222" stroke-width="0.6"/>
<line x1="459.80" y1="78.67" x2="461.30" y2="78.67" stroke="#222" stroke-width="0.6"/>
<line x1="459.80" y1="78.05" x2="461.30" y2="78.05" stroke="#222" stroke-width="0.6"/>
<line x1="459.80" y1="77.49" x2="461.30" y2="77.49" stroke="#222" stroke-width="0.6"/>
<line x1="459.80" y1="96.19" x2="461.30" y2="96.19" stroke="#222" stroke-width="0.6"/>
<line x1="459.80" y1="94.07" x2="461.30" y2="94.07" stroke="#222" stroke-width="0.6"/>
<line x1="459.80" y1="92.58" x2="461.30" y2="92.58" stroke="#222" stroke-width="0.6"/>
<line x1="459.80" y1="91.41" x2="461.30" y2="91.41" stroke="#222" stroke-width="0.6"/>
<line x1="459.80" y1="90.46" x2="461.30" y2="90.46" stroke="#222" stroke-width="0.6"/>
<line x1="459.80" y1="89.66" x2="461.30" y2="89.66" stroke="#222" stroke-width="0.6"/>
<line x1="459.80" y1="88.96" x2="461.30" y2="88.96" stroke="#222" stroke-width="0.6"/>
<line x1="459.80" y1="88.35" x2="461.30" y2="88.35" stroke="#222" stroke-width="0.6"/>
<line x1="459.80" y1="103.60" x2="461.30" y2="103.60" stroke="#222" stroke-width="0.6"/>
<line x1="459.80" y1="104.90" x2="461.30" y2="104.90" stroke="#222" stroke-width="0.6"/>
<line x1="459.80" y1="106.20" x2="461.30" y2="106.20" stroke="#222" stroke-width="0.6"/>
<line x1="459.80" y1="107.50" x2="461.30" y2="107.50" stroke="#222" stroke-width="0.6"/>
<line x1="459.80" y1="108.80" x2="461.30" y2="108.80" stroke="#222" stroke-width="0.6"/>
<line x1="459.80" y1="110.10" x2="461.30" y2="110.10" stroke="#222" stroke-width="0.6"/>
<line x1="459.80" y1="111.40" x2="461.30" y2="111.40" stroke="#222" stroke-width="0.6"/>
<line x1="459.80" y1="112.70" x2="461.30" y2="112.70" stroke="#222" stroke-width="0.6"/>
<line x1="459.80" y1="114.00" x2="461.30" y2="114.00" stroke="#222" stroke-width="0.6"/>
<line x1="459.80" y1="115.30" x2="461.30" y2="115.30" stroke="#222" stroke-width="0.6"/>
<line x1="459.80" y1="116.60" x2="461.30" y2="116.60" stroke="#222" stroke-width="0.6"/>
<line x1="459.80" y1="117.90" x2="461.30" y2="117.90" stroke="#222" stroke-width="0.6"/>
<line x1="471.80" y1="119.30" x2="471.80" y2="121.50" stroke="#222" stroke-width="0.8"/>
<line x1="483.30" y1="119.30" x2="483.30" y2="121.50" stroke="#222" stroke-width="0.8"/>
<line x1="493.80" y1="119.30" x2="493.80" y2="121.50" stroke="#222" stroke-width="0.8"/>
<line x1="504.30" y1="119.30" x2="504.30" y2="121.50" stroke="#222" stroke-width="0.8"/>
<line x1="486.46" y1="119.30" x2="486.46" y2="120.80" stroke="#222" stroke-width="0.6"/>
<line x1="488.31" y1="119.30" x2="488.31" y2="120.80" stroke="#222" stroke-width="0.6"/>
<line x1="489.62" y1="119.30" x2="489.62" y2="120.80" stroke="#222" stroke-width="0.6"/>
<line x1="490.64" y1="119.30" x2="490.64" y2="120.80" stroke="#222" stroke-width="0.6"/>
<line x1="491.47" y1="119.30" x2="491.47" y2="120.80" stroke="#222" stroke-width="0.6"/>
<line x1="492.17" y1="119.30" x2="492.17" y2="120.80" stroke="#222" stroke-width="0.6"/>
<line x1="492.78" y1="119.30" x2="492.78" y2="120.80" stroke="#222" stroke-width="0.6"/>
<line x1="493.32" y1="119.30" x2="493.32" y2="120.80" stroke="#222" stroke-width="0.6"/>
<line x1="496.96" y1="119.30" x2="496.96" y2="120.80" stroke="#222" stroke-width="0.6"/>
<line x1="498.81" y1="119.30" x2="498.81" y2="120.80" stroke="#222" stroke-width="0.6"/>
<line x1="500.12" y1="119.30" x2="500.12" y2="120.80" stroke="#222" stroke-width="0.6"/>
<line x1="501.14" y1="119.30" x2="501.14" y2="120.80" stroke="#222" stroke-width="0.6"/>
<line x1="501.97" y1="119.30" x2="501.97" y2="120.80" stroke="#222" stroke-width="0.6"/>
<line x1="502.67" y1="119.30" x2="502.67" y2="120.80" stroke="#222" stroke-width="0.6"/>
<line x1="503.28" y1="119.30" x2="503.28" y2="120.80" stroke="#222" stroke-width="0.6"/>
<line x1="503.82" y1="119.30" x2="503.82" y2="120.80" stroke="#222" stroke-width="0.6"/>
<line x1="465.30" y1="119.30" x2="465.30" y2="120.80" stroke="#222" stroke-width="0.6"/>
<line x1="466.60" y1="119.30" x2="466.60" y2="120.80" stroke="#222" stroke-width="0.6"/>
<line x1="467.90" y1="119.30" x2="467.90" y2="120.80" stroke="#222" stroke-width="0.6"/>
<line x1="469.20" y1="119.30" x2="469.20" y2="120.80" stroke="#222" stroke-width="0.6"/>
<line x1="470.50" y1="119.30" x2="470.50" y2="120.80" stroke="#222" stroke-width="0.6"/>
<line x1="471.80" y1="119.30" x2="471.80" y2="120.80" stroke="#222" stroke-width="0.6"/>
<line x1="473.10" y1="119.30" x2="473.10" y2="120.80" stroke="#222" stroke-width="0.6"/>
<line x1="474.40" y1="119.30" x2="474.40" y2="120.80" stroke="#222" stroke-width="0.6"/>
<line x1="475.70" y1="119.30" x2="475.70" y2="120.80" stroke="#222" stroke-width="0.6"/>
<line x1="477.00" y1="119.30" x2="477.00" y2="120.80" stroke="#222" stroke-width="0.6"/>
<line x1="478.30" y1="119.30" x2="478.30" y2="120.80" stroke="#222" stroke-width="0.6"/>
<text x="455.80" y="79.10" font-size="6.6" text-anchor="end" fill="#2a2a2a">10<tspan font-size="4.36" dy="-2.51">4</tspan></text>
<text x="455.80" y="89.90" font-size="6.6" text-anchor="end" fill="#2a2a2a">10<tspan font-size="4.36" dy="-2.51">3</tspan></text>
<text x="455.80" y="101.90" font-size="6.6" text-anchor="end" fill="#2a2a2a">10<tspan font-size="4.36" dy="-2.51">2</tspan></text>
<text x="455.0" y="112.19999999999999" font-size="6.6" text-anchor="end" fill="#2a2a2a" font-weight="normal" >0</text>
<text x="475.40" y="127.50" font-size="6.6" text-anchor="end" fill="#2a2a2a" transform="rotate(-45 475.40 127.50)">0</text>
<text x="489.10" y="127.50" font-size="6.6" text-anchor="end" fill="#2a2a2a" transform="rotate(-45 489.1 127.5)">10<tspan font-size="4.36" dy="-2.51">2</tspan></text>
<text x="499.70" y="127.50" font-size="6.6" text-anchor="end" fill="#2a2a2a" transform="rotate(-45 499.70000000000005 127.5)">10<tspan font-size="4.36" dy="-2.51">4</tspan></text>
<text x="508.40" y="127.50" font-size="6.6" text-anchor="end" fill="#2a2a2a" transform="rotate(-45 508.40000000000003 127.5)">10<tspan font-size="4.36" dy="-2.51">5</tspan></text>
<text x="484.6" y="69.5" font-size="8.6" text-anchor="middle" fill="#222" font-weight="normal" textLength="19.4" lengthAdjust="spacingAndGlyphs">Mixed</text>
<text x="15.9" y="238.2" font-size="6.8" font-weight="bold" text-anchor="middle" fill="#2a2a2a" transform="rotate(-90 15.9 238.2)" textLength="21.8" lengthAdjust="spacingAndGlyphs">% IFN&#947;<tspan font-size="4.5" dy="-2.4">+</tspan></text>
<text x="60.4" y="204.6" font-size="8.8" text-anchor="middle" fill="#222" font-weight="normal" textLength="15.8" lengthAdjust="spacingAndGlyphs">CD4</text>
<text x="135.9" y="204.4" font-size="8.8" text-anchor="middle" fill="#222" font-weight="normal" textLength="16.2" lengthAdjust="spacingAndGlyphs">CD8</text>
<line x1="34.20" y1="209.50" x2="34.20" y2="268.90" stroke="#333" stroke-width="1.3"/>
<line x1="31.40" y1="211.70" x2="34.20" y2="211.70" stroke="#333" stroke-width="1"/>
<text x="28.000000000000004" y="214.2" font-size="6.7" text-anchor="end" fill="#333" font-weight="normal" >30</text>
<line x1="31.40" y1="230.50" x2="34.20" y2="230.50" stroke="#333" stroke-width="1"/>
<text x="28.000000000000004" y="233.0" font-size="6.7" text-anchor="end" fill="#333" font-weight="normal" >20</text>
<line x1="31.40" y1="249.30" x2="34.20" y2="249.30" stroke="#333" stroke-width="1"/>
<text x="28.000000000000004" y="251.8" font-size="6.7" text-anchor="end" fill="#333" font-weight="normal" >10</text>
<line x1="31.40" y1="268.00" x2="34.20" y2="268.00" stroke="#333" stroke-width="1"/>
<text x="28.000000000000004" y="270.5" font-size="6.7" text-anchor="end" fill="#333" font-weight="normal" >0</text>
<rect x="37.70" y="229.20" width="8.70" height="39.10" fill="#f0a593" stroke="#e28a84" stroke-width="0.5" />
<line x1="42.05" y1="224.00" x2="42.05" y2="233.00" stroke="#cc1838" stroke-width="0.8"/>
<line x1="39.85" y1="224.00" x2="44.25" y2="224.00" stroke="#cc1838" stroke-width="0.8"/>
<line x1="39.85" y1="233.00" x2="44.25" y2="233.00" stroke="#cc1838" stroke-width="0.8"/>
<rect x="39.4" y="219.5" width="2" height="2" fill="#cc1838"/>
<rect x="41.4" y="218.5" width="2" height="2" fill="#cc1838"/>
<rect x="43.2" y="227.5" width="2" height="2" fill="#cc1838"/>
<rect x="39.1" y="228.5" width="2" height="2" fill="#cc1838"/>
<rect x="40.8" y="229.5" width="2" height="2" fill="#cc1838"/>
<rect x="42.7" y="230.0" width="2" height="2" fill="#cc1838"/>
<rect x="39.0" y="231.0" width="2" height="2" fill="#cc1838"/>
<rect x="41.4" y="232.0" width="2" height="2" fill="#cc1838"/>
<rect x="49.50" y="231.80" width="9.20" height="36.50" fill="#f0a593" stroke="#e28a84" stroke-width="0.5" />
<line x1="54.10" y1="227.50" x2="54.10" y2="235.00" stroke="#d04868" stroke-width="0.8"/>
<line x1="51.90" y1="227.50" x2="56.30" y2="227.50" stroke="#d04868" stroke-width="0.8"/>
<line x1="51.90" y1="235.00" x2="56.30" y2="235.00" stroke="#d04868" stroke-width="0.8"/>
<circle cx="52.15" cy="229.00" r="1.0" fill="none" stroke="#d04868" stroke-width="0.5"/>
<circle cx="54.58" cy="230.00" r="1.0" fill="none" stroke="#d04868" stroke-width="0.5"/>
<circle cx="56.40" cy="231.00" r="1.0" fill="none" stroke="#d04868" stroke-width="0.5"/>
<circle cx="52.14" cy="232.00" r="1.0" fill="none" stroke="#d04868" stroke-width="0.5"/>
<circle cx="54.19" cy="233.00" r="1.0" fill="none" stroke="#d04868" stroke-width="0.5"/>
<circle cx="56.02" cy="234.00" r="1.0" fill="none" stroke="#d04868" stroke-width="0.5"/>
<circle cx="52.51" cy="235.00" r="1.0" fill="none" stroke="#d04868" stroke-width="0.5"/>
<rect x="61.10" y="259.70" width="9.20" height="8.60" fill="#adbbde" stroke="#8c9fcc" stroke-width="0.5" />
<line x1="65.70" y1="256.00" x2="65.70" y2="262.00" stroke="#3d66b0" stroke-width="0.8"/>
<line x1="63.50" y1="256.00" x2="67.90" y2="256.00" stroke="#3d66b0" stroke-width="0.8"/>
<line x1="63.50" y1="262.00" x2="67.90" y2="262.00" stroke="#3d66b0" stroke-width="0.8"/>
<circle cx="64.03" cy="254.00" r="1.0" fill="none" stroke="#3d66b0" stroke-width="0.5"/>
<circle cx="65.38" cy="257.00" r="1.0" fill="none" stroke="#3d66b0" stroke-width="0.5"/>
<circle cx="68.10" cy="259.00" r="1.0" fill="none" stroke="#3d66b0" stroke-width="0.5"/>
<circle cx="63.88" cy="260.00" r="1.0" fill="none" stroke="#3d66b0" stroke-width="0.5"/>
<circle cx="65.56" cy="261.00" r="1.0" fill="none" stroke="#3d66b0" stroke-width="0.5"/>
<circle cx="67.94" cy="262.00" r="1.0" fill="none" stroke="#3d66b0" stroke-width="0.5"/>
<rect x="72.70" y="259.30" width="9.20" height="9.00" fill="#adbbde" stroke="#8c9fcc" stroke-width="0.5" />
<rect x="74.2" y="255.0" width="2" height="2" fill="#1d3f7a"/>
<rect x="76.5" y="256.5" width="2" height="2" fill="#1d3f7a"/>
<rect x="78.3" y="257.5" width="2" height="2" fill="#1d3f7a"/>
<rect x="74.4" y="258.5" width="2" height="2" fill="#1d3f7a"/>
<rect x="76.7" y="259.0" width="2" height="2" fill="#1d3f7a"/>
<rect x="78.7" y="260.0" width="2" height="2" fill="#1d3f7a"/>
<line x1="33.60" y1="268.30" x2="84.80" y2="268.30" stroke="#333" stroke-width="1.3"/>
<line x1="42.00" y1="268.30" x2="42.00" y2="270.80" stroke="#333" stroke-width="1"/>
<line x1="54.10" y1="268.30" x2="54.10" y2="270.80" stroke="#333" stroke-width="1"/>
<line x1="65.70" y1="268.30" x2="65.70" y2="270.80" stroke="#333" stroke-width="1"/>
<line x1="77.30" y1="268.30" x2="77.30" y2="270.80" stroke="#333" stroke-width="1"/>
<line x1="41.80" y1="210.20" x2="78.40" y2="210.20" stroke="#333" stroke-width="0.9"/>
<text x="60.1" y="210.5" font-size="5.6" text-anchor="middle" fill="#222" font-weight="bold" >****</text>
<line x1="41.80" y1="214.70" x2="54.00" y2="214.70" stroke="#333" stroke-width="0.9"/>
<text x="47.9" y="215.89999999999998" font-size="5.6" text-anchor="middle" fill="#222" font-weight="bold" >*</text>
<line x1="54.60" y1="223.90" x2="64.80" y2="223.90" stroke="#333" stroke-width="0.9"/>
<text x="59.7" y="224.20000000000002" font-size="5.6" text-anchor="middle" fill="#222" font-weight="bold" >****</text>
<text x="42" y="279.8" font-size="6.6" text-anchor="middle" fill="#cc4a66" font-weight="normal" >fl/fl</text>
<text x="54.1" y="279.8" font-size="6.6" text-anchor="middle" fill="#cc4a66" font-weight="normal" >fl/fl</text>
<text x="65.7" y="279.8" font-size="6.6" text-anchor="middle" fill="#3a64a0" font-weight="normal" >KO</text>
<text x="77.3" y="279.8" font-size="6.6" text-anchor="middle" fill="#3a64a0" font-weight="normal" >KO</text>
<line x1="51.00" y1="281.40" x2="69.20" y2="281.40" stroke="#333" stroke-width="0.9"/>
<text x="60.1" y="288.3" font-size="6.6" text-anchor="middle" fill="#333" font-weight="normal" >mix</text>
<line x1="107.50" y1="209.50" x2="107.50" y2="268.90" stroke="#333" stroke-width="1.3"/>
<line x1="104.70" y1="220.10" x2="107.50" y2="220.10" stroke="#333" stroke-width="1"/>
<text x="101.3" y="222.6" font-size="6.7" text-anchor="end" fill="#333" font-weight="normal" >20</text>
<line x1="104.70" y1="244.20" x2="107.50" y2="244.20" stroke="#333" stroke-width="1"/>
<text x="101.3" y="246.7" font-size="6.7" text-anchor="end" fill="#333" font-weight="normal" >10</text>
<line x1="104.70" y1="268.10" x2="107.50" y2="268.10" stroke="#333" stroke-width="1"/>
<text x="101.3" y="270.6" font-size="6.7" text-anchor="end" fill="#333" font-weight="normal" >0</text>
<rect x="111.80" y="229.40" width="8.40" height="38.90" fill="#f0a593" stroke="#e28a84" stroke-width="0.5" />
<line x1="116.00" y1="222.80" x2="116.00" y2="236.00" stroke="#cc1838" stroke-width="0.8"/>
<line x1="113.80" y1="222.80" x2="118.20" y2="222.80" stroke="#cc1838" stroke-width="0.8"/>
<line x1="113.80" y1="236.00" x2="118.20" y2="236.00" stroke="#cc1838" stroke-width="0.8"/>
<rect x="113.0" y="217.7" width="2" height="2" fill="#cc1838"/>
<rect x="114.9" y="217.7" width="2" height="2" fill="#cc1838"/>
<rect x="117.2" y="229.0" width="2" height="2" fill="#cc1838"/>
<rect x="113.2" y="231.0" width="2" height="2" fill="#cc1838"/>
<rect x="114.6" y="233.0" width="2" height="2" fill="#cc1838"/>
<rect x="117.0" y="235.0" width="2" height="2" fill="#cc1838"/>
<rect x="112.8" y="237.0" width="2" height="2" fill="#cc1838"/>
<rect x="115.1" y="239.0" width="2" height="2" fill="#cc1838"/>
<rect x="122.70" y="233.90" width="9.10" height="34.40" fill="#f0a593" stroke="#e28a84" stroke-width="0.5" />
<line x1="127.25" y1="230.00" x2="127.25" y2="238.00" stroke="#d04868" stroke-width="0.8"/>
<line x1="125.05" y1="230.00" x2="129.45" y2="230.00" stroke="#d04868" stroke-width="0.8"/>
<line x1="125.05" y1="238.00" x2="129.45" y2="238.00" stroke="#d04868" stroke-width="0.8"/>
<circle cx="124.92" cy="230.00" r="1.0" fill="none" stroke="#d04868" stroke-width="0.5"/>
<circle cx="127.05" cy="232.00" r="1.0" fill="none" stroke="#d04868" stroke-width="0.5"/>
<circle cx="129.00" cy="233.50" r="1.0" fill="none" stroke="#d04868" stroke-width="0.5"/>
<circle cx="125.03" cy="235.00" r="1.0" fill="none" stroke="#d04868" stroke-width="0.5"/>
<circle cx="127.32" cy="236.50" r="1.0" fill="none" stroke="#d04868" stroke-width="0.5"/>
<circle cx="129.61" cy="238.00" r="1.0" fill="none" stroke="#d04868" stroke-width="0.5"/>
<circle cx="125.39" cy="240.00" r="1.0" fill="none" stroke="#d04868" stroke-width="0.5"/>
<rect x="133.90" y="259.40" width="10.10" height="8.90" fill="#adbbde" stroke="#8c9fcc" stroke-width="0.5" />
<circle cx="137.10" cy="258.00" r="1.0" fill="none" stroke="#3d66b0" stroke-width="0.5"/>
<circle cx="139.21" cy="259.00" r="1.0" fill="none" stroke="#3d66b0" stroke-width="0.5"/>
<circle cx="140.84" cy="260.00" r="1.0" fill="none" stroke="#3d66b0" stroke-width="0.5"/>
<circle cx="136.88" cy="260.50" r="1.0" fill="none" stroke="#3d66b0" stroke-width="0.5"/>
<circle cx="139.10" cy="261.00" r="1.0" fill="none" stroke="#3d66b0" stroke-width="0.5"/>
<circle cx="140.66" cy="262.00" r="1.0" fill="none" stroke="#3d66b0" stroke-width="0.5"/>
<rect x="145.70" y="259.00" width="9.60" height="9.30" fill="#adbbde" stroke="#8c9fcc" stroke-width="0.5" />
<line x1="150.50" y1="256.00" x2="150.50" y2="260.50" stroke="#1d3f7a" stroke-width="0.8"/>
<line x1="148.30" y1="256.00" x2="152.70" y2="256.00" stroke="#1d3f7a" stroke-width="0.8"/>
<line x1="148.30" y1="260.50" x2="152.70" y2="260.50" stroke="#1d3f7a" stroke-width="0.8"/>
<path d="M147.5,257.5 L148.8,255.2 L150.1,257.5 Z" fill="#1d3f7a"/>
<path d="M149.6,258.5 L150.9,256.2 L152.2,258.5 Z" fill="#1d3f7a"/>
<path d="M151.6,259.0 L152.9,256.7 L154.2,259.0 Z" fill="#1d3f7a"/>
<path d="M146.8,259.5 L148.1,257.2 L149.4,259.5 Z" fill="#1d3f7a"/>
<path d="M149.6,260.0 L150.9,257.7 L152.2,260.0 Z" fill="#1d3f7a"/>
<path d="M150.9,261.0 L152.2,258.7 L153.5,261.0 Z" fill="#1d3f7a"/>
<line x1="106.90" y1="268.30" x2="158.00" y2="268.30" stroke="#333" stroke-width="1.3"/>
<line x1="116.00" y1="268.30" x2="116.00" y2="270.80" stroke="#333" stroke-width="1"/>
<line x1="127.20" y1="268.30" x2="127.20" y2="270.80" stroke="#333" stroke-width="1"/>
<line x1="139.00" y1="268.30" x2="139.00" y2="270.80" stroke="#333" stroke-width="1"/>
<line x1="150.50" y1="268.30" x2="150.50" y2="270.80" stroke="#333" stroke-width="1"/>
<line x1="115.00" y1="210.50" x2="150.20" y2="210.50" stroke="#333" stroke-width="0.9"/>
<text x="132.6" y="210.8" font-size="5.6" text-anchor="middle" fill="#222" font-weight="bold" >****</text>
<line x1="115.00" y1="215.50" x2="126.80" y2="215.50" stroke="#333" stroke-width="0.9"/>
<text x="120.9" y="216.7" font-size="5.6" text-anchor="middle" fill="#222" font-weight="bold" >*</text>
<line x1="126.80" y1="224.10" x2="139.00" y2="224.10" stroke="#333" stroke-width="0.9"/>
<text x="132.9" y="224.4" font-size="5.6" text-anchor="middle" fill="#222" font-weight="bold" >****</text>
<text x="116" y="279.8" font-size="6.6" text-anchor="middle" fill="#cc4a66" font-weight="normal" >fl/fl</text>
<text x="127.2" y="279.8" font-size="6.6" text-anchor="middle" fill="#cc4a66" font-weight="normal" >fl/fl</text>
<text x="139" y="279.8" font-size="6.6" text-anchor="middle" fill="#3a64a0" font-weight="normal" >KO</text>
<text x="150.5" y="279.8" font-size="6.6" text-anchor="middle" fill="#3a64a0" font-weight="normal" >KO</text>
<line x1="123.70" y1="281.40" x2="140.00" y2="281.40" stroke="#333" stroke-width="0.9"/>
<text x="131.85" y="288.3" font-size="6.6" text-anchor="middle" fill="#333" font-weight="normal" >mix</text>
<text x="226.0" y="203.7" font-size="9.0" text-anchor="middle" fill="#bc344e" font-weight="normal" textLength="10.3" lengthAdjust="spacingAndGlyphs">fl/fl</text>
<text x="296.4" y="203.8" font-size="9.0" text-anchor="middle" fill="#2b509a" font-weight="normal" textLength="11.2" lengthAdjust="spacingAndGlyphs">KO</text>
<line x1="179.80" y1="276.60" x2="179.80" y2="213.30" stroke="#3a3a3a" stroke-width="1.2"/>
<path d="M176.8,216.3 L179.8,209.3 L182.8,216.3 L179.8,214.70000000000002 Z" fill="#111"/>
<line x1="179.30" y1="276.50" x2="316.50" y2="276.50" stroke="#2a2a2a" stroke-width="1.15"/>
<path d="M313.5,273.8 L320.5,276.5 L313.5,279.2 L315.1,276.5 Z" fill="#111"/>
<text x="174.2" y="243.3" font-size="6.4" font-weight="bold" text-anchor="middle" fill="#2a2a2a" transform="rotate(-90 174.2 243.3)" textLength="10.2" lengthAdjust="spacingAndGlyphs">CD4</text>
<text x="246" y="286.3" font-size="6.4" text-anchor="middle" fill="#2a2a2a" font-weight="bold" textLength="10.2" lengthAdjust="spacingAndGlyphs">CD8</text>
<rect x="210.00" y="227.40" width="7.80" height="13.40" fill="#e2e2ee" stroke="none" stroke-width="1" />
<rect x="219.40" y="240.90" width="20.20" height="6.20" fill="#e4e4ee" stroke="none" stroke-width="1" />
<circle cx="215.1" cy="237.1" r="0.55" fill="#9494b8" fill-opacity="0.5"/>
<circle cx="213.8" cy="235.3" r="0.55" fill="#707098" fill-opacity="0.5"/>
<circle cx="213.6" cy="241.6" r="0.55" fill="#8484ac" fill-opacity="0.5"/>
<circle cx="212.2" cy="230.6" r="0.55" fill="#707098" fill-opacity="0.5"/>
<circle cx="212.7" cy="236.8" r="0.55" fill="#707098" fill-opacity="0.5"/>
<circle cx="212.1" cy="234.9" r="0.55" fill="#8484ac" fill-opacity="0.5"/>
<circle cx="213.4" cy="234.2" r="0.55" fill="#8484ac" fill-opacity="0.5"/>
<circle cx="213.5" cy="232.1" r="0.55" fill="#707098" fill-opacity="0.5"/>
<circle cx="213.5" cy="237.5" r="0.55" fill="#9494b8" fill-opacity="0.5"/>
<circle cx="213.0" cy="234.1" r="0.55" fill="#9494b8" fill-opacity="0.5"/>
<circle cx="213.9" cy="238.4" r="0.55" fill="#9494b8" fill-opacity="0.5"/>
<circle cx="214.7" cy="236.9" r="0.55" fill="#707098" fill-opacity="0.5"/>
<circle cx="212.3" cy="235.5" r="0.55" fill="#8484ac" fill-opacity="0.5"/>
<circle cx="213.3" cy="232.0" r="0.55" fill="#707098" fill-opacity="0.5"/>
<circle cx="213.7" cy="233.1" r="0.55" fill="#707098" fill-opacity="0.5"/>
<circle cx="213.9" cy="236.3" r="0.55" fill="#9494b8" fill-opacity="0.5"/>
<circle cx="212.4" cy="230.3" r="0.55" fill="#8484ac" fill-opacity="0.5"/>
<circle cx="212.6" cy="234.3" r="0.55" fill="#8484ac" fill-opacity="0.5"/>
<circle cx="214.9" cy="234.7" r="0.55" fill="#9494b8" fill-opacity="0.5"/>
<circle cx="213.6" cy="228.3" r="0.55" fill="#8484ac" fill-opacity="0.5"/>
<circle cx="213.4" cy="237.3" r="0.55" fill="#9494b8" fill-opacity="0.5"/>
<circle cx="215.0" cy="235.0" r="0.55" fill="#8484ac" fill-opacity="0.5"/>
<circle cx="212.4" cy="232.3" r="0.55" fill="#707098" fill-opacity="0.5"/>
<circle cx="214.3" cy="235.1" r="0.55" fill="#707098" fill-opacity="0.5"/>
<circle cx="214.5" cy="233.6" r="0.55" fill="#9494b8" fill-opacity="0.5"/>
<circle cx="215.2" cy="228.3" r="0.55" fill="#8484ac" fill-opacity="0.5"/>
<circle cx="214.5" cy="239.9" r="0.55" fill="#9494b8" fill-opacity="0.5"/>
<circle cx="214.3" cy="233.9" r="0.55" fill="#8484ac" fill-opacity="0.5"/>
<circle cx="214.7" cy="234.9" r="0.55" fill="#707098" fill-opacity="0.5"/>
<circle cx="212.6" cy="232.2" r="0.55" fill="#8484ac" fill-opacity="0.5"/>
<circle cx="214.2" cy="233.8" r="0.55" fill="#9494b8" fill-opacity="0.5"/>
<circle cx="211.7" cy="239.2" r="0.55" fill="#9494b8" fill-opacity="0.5"/>
<circle cx="213.5" cy="236.9" r="0.55" fill="#707098" fill-opacity="0.5"/>
<circle cx="212.4" cy="237.1" r="0.55" fill="#8484ac" fill-opacity="0.5"/>
<circle cx="211.3" cy="234.3" r="0.55" fill="#8484ac" fill-opacity="0.5"/>
<circle cx="212.2" cy="236.5" r="0.55" fill="#707098" fill-opacity="0.5"/>
<circle cx="213.7" cy="231.3" r="0.55" fill="#9494b8" fill-opacity="0.5"/>
<circle cx="215.4" cy="228.8" r="0.55" fill="#8484ac" fill-opacity="0.5"/>
<circle cx="214.0" cy="237.8" r="0.55" fill="#9494b8" fill-opacity="0.5"/>
<circle cx="212.8" cy="234.1" r="0.55" fill="#707098" fill-opacity="0.5"/>
<circle cx="215.1" cy="232.5" r="0.55" fill="#8484ac" fill-opacity="0.5"/>
<circle cx="211.9" cy="236.1" r="0.55" fill="#707098" fill-opacity="0.5"/>
<circle cx="213.8" cy="231.4" r="0.55" fill="#9494b8" fill-opacity="0.5"/>
<circle cx="214.0" cy="236.8" r="0.55" fill="#9494b8" fill-opacity="0.5"/>
<circle cx="213.8" cy="235.6" r="0.55" fill="#707098" fill-opacity="0.5"/>
<circle cx="214.9" cy="233.8" r="0.55" fill="#9494b8" fill-opacity="0.5"/>
<circle cx="212.2" cy="237.3" r="0.55" fill="#707098" fill-opacity="0.5"/>
<circle cx="212.5" cy="232.8" r="0.55" fill="#9494b8" fill-opacity="0.5"/>
<circle cx="212.8" cy="232.6" r="0.55" fill="#8484ac" fill-opacity="0.5"/>
<circle cx="213.8" cy="234.6" r="0.55" fill="#8484ac" fill-opacity="0.5"/>
<circle cx="215.1" cy="235.1" r="0.55" fill="#707098" fill-opacity="0.5"/>
<circle cx="215.5" cy="235.8" r="0.55" fill="#9494b8" fill-opacity="0.5"/>
<circle cx="214.4" cy="235.9" r="0.55" fill="#707098" fill-opacity="0.5"/>
<circle cx="213.8" cy="231.6" r="0.55" fill="#707098" fill-opacity="0.5"/>
<circle cx="212.9" cy="240.1" r="0.55" fill="#707098" fill-opacity="0.5"/>
<circle cx="211.8" cy="234.4" r="0.55" fill="#707098" fill-opacity="0.5"/>
<circle cx="214.3" cy="237.9" r="0.55" fill="#8484ac" fill-opacity="0.5"/>
<circle cx="213.2" cy="232.3" r="0.55" fill="#9494b8" fill-opacity="0.5"/>
<circle cx="215.8" cy="233.9" r="0.55" fill="#8484ac" fill-opacity="0.5"/>
<circle cx="215.2" cy="237.6" r="0.55" fill="#8484ac" fill-opacity="0.5"/>
<circle cx="215.3" cy="237.8" r="0.55" fill="#8484ac" fill-opacity="0.5"/>
<circle cx="212.4" cy="233.0" r="0.55" fill="#9494b8" fill-opacity="0.5"/>
<circle cx="213.9" cy="239.2" r="0.55" fill="#9494b8" fill-opacity="0.5"/>
<circle cx="212.1" cy="231.2" r="0.55" fill="#9494b8" fill-opacity="0.5"/>
<circle cx="214.6" cy="231.9" r="0.55" fill="#707098" fill-opacity="0.5"/>
<circle cx="213.3" cy="234.0" r="0.55" fill="#707098" fill-opacity="0.5"/>
<circle cx="213.6" cy="233.2" r="0.55" fill="#707098" fill-opacity="0.5"/>
<circle cx="214.0" cy="234.0" r="0.55" fill="#9494b8" fill-opacity="0.5"/>
<circle cx="213.3" cy="240.5" r="0.55" fill="#9494b8" fill-opacity="0.5"/>
<circle cx="214.4" cy="232.4" r="0.55" fill="#9494b8" fill-opacity="0.5"/>
<circle cx="234.3" cy="243.8" r="0.55" fill="#646488" fill-opacity="0.5"/>
<circle cx="226.2" cy="245.4" r="0.55" fill="#7c7c98" fill-opacity="0.5"/>
<circle cx="223.8" cy="244.1" r="0.55" fill="#8c8ca8" fill-opacity="0.5"/>
<circle cx="228.6" cy="244.5" r="0.55" fill="#8c8ca8" fill-opacity="0.5"/>
<circle cx="236.2" cy="243.7" r="0.55" fill="#8c8ca8" fill-opacity="0.5"/>
<circle cx="228.7" cy="244.6" r="0.55" fill="#646488" fill-opacity="0.5"/>
<circle cx="224.5" cy="245.2" r="0.55" fill="#8c8ca8" fill-opacity="0.5"/>
<circle cx="227.9" cy="245.1" r="0.55" fill="#646488" fill-opacity="0.5"/>
<circle cx="229.8" cy="243.8" r="0.55" fill="#7c7c98" fill-opacity="0.5"/>
<circle cx="225.7" cy="246.2" r="0.55" fill="#7c7c98" fill-opacity="0.5"/>
<circle cx="230.4" cy="246.0" r="0.55" fill="#7c7c98" fill-opacity="0.5"/>
<circle cx="228.0" cy="243.9" r="0.55" fill="#646488" fill-opacity="0.5"/>
<circle cx="230.5" cy="243.6" r="0.55" fill="#7c7c98" fill-opacity="0.5"/>
<circle cx="228.5" cy="245.5" r="0.55" fill="#646488" fill-opacity="0.5"/>
<circle cx="229.9" cy="244.8" r="0.55" fill="#646488" fill-opacity="0.5"/>
<circle cx="223.6" cy="244.1" r="0.55" fill="#7c7c98" fill-opacity="0.5"/>
<circle cx="219.6" cy="244.7" r="0.55" fill="#646488" fill-opacity="0.5"/>
<circle cx="225.2" cy="244.9" r="0.55" fill="#646488" fill-opacity="0.5"/>
<circle cx="224.1" cy="244.0" r="0.55" fill="#646488" fill-opacity="0.5"/>
<circle cx="221.9" cy="245.1" r="0.55" fill="#7c7c98" fill-opacity="0.5"/>
<circle cx="229.1" cy="245.3" r="0.55" fill="#7c7c98" fill-opacity="0.5"/>
<circle cx="232.7" cy="244.5" r="0.55" fill="#646488" fill-opacity="0.5"/>
<circle cx="224.7" cy="243.4" r="0.55" fill="#646488" fill-opacity="0.5"/>
<circle cx="232.9" cy="244.9" r="0.55" fill="#7c7c98" fill-opacity="0.5"/>
<circle cx="219.8" cy="245.6" r="0.55" fill="#7c7c98" fill-opacity="0.5"/>
<circle cx="222.1" cy="244.0" r="0.55" fill="#646488" fill-opacity="0.5"/>
<circle cx="220.0" cy="245.2" r="0.55" fill="#7c7c98" fill-opacity="0.5"/>
<circle cx="233.2" cy="246.0" r="0.55" fill="#646488" fill-opacity="0.5"/>
<circle cx="217.2" cy="244.7" r="0.55" fill="#7c7c98" fill-opacity="0.5"/>
<circle cx="229.2" cy="243.5" r="0.55" fill="#7c7c98" fill-opacity="0.5"/>
<circle cx="229.4" cy="244.4" r="0.55" fill="#646488" fill-opacity="0.5"/>
<circle cx="228.9" cy="245.7" r="0.55" fill="#7c7c98" fill-opacity="0.5"/>
<circle cx="227.2" cy="244.4" r="0.55" fill="#7c7c98" fill-opacity="0.5"/>
<circle cx="225.7" cy="243.2" r="0.55" fill="#8c8ca8" fill-opacity="0.5"/>
<circle cx="232.3" cy="243.9" r="0.55" fill="#7c7c98" fill-opacity="0.5"/>
<circle cx="223.5" cy="243.9" r="0.55" fill="#646488" fill-opacity="0.5"/>
<circle cx="230.7" cy="243.8" r="0.55" fill="#8c8ca8" fill-opacity="0.5"/>
<circle cx="232.2" cy="245.4" r="0.55" fill="#8c8ca8" fill-opacity="0.5"/>
<circle cx="227.4" cy="244.2" r="0.55" fill="#7c7c98" fill-opacity="0.5"/>
<circle cx="225.7" cy="245.4" r="0.55" fill="#7c7c98" fill-opacity="0.5"/>
<circle cx="229.5" cy="244.9" r="0.55" fill="#646488" fill-opacity="0.5"/>
<circle cx="230.2" cy="243.8" r="0.55" fill="#7c7c98" fill-opacity="0.5"/>
<circle cx="223.9" cy="244.7" r="0.55" fill="#7c7c98" fill-opacity="0.5"/>
<circle cx="230.3" cy="244.9" r="0.55" fill="#646488" fill-opacity="0.5"/>
<circle cx="224.6" cy="245.2" r="0.55" fill="#8c8ca8" fill-opacity="0.5"/>
<circle cx="221.5" cy="244.1" r="0.55" fill="#646488" fill-opacity="0.5"/>
<circle cx="219.4" cy="244.3" r="0.55" fill="#8c8ca8" fill-opacity="0.5"/>
<circle cx="226.0" cy="244.8" r="0.55" fill="#7c7c98" fill-opacity="0.5"/>
<circle cx="225.4" cy="244.0" r="0.55" fill="#8c8ca8" fill-opacity="0.5"/>
<circle cx="231.2" cy="244.5" r="0.55" fill="#646488" fill-opacity="0.5"/>
<circle cx="243.5" cy="245.1" r="0.55" fill="#7c7c98" fill-opacity="0.5"/>
<circle cx="228.8" cy="244.2" r="0.55" fill="#8c8ca8" fill-opacity="0.5"/>
<circle cx="229.7" cy="245.6" r="0.55" fill="#8c8ca8" fill-opacity="0.5"/>
<circle cx="229.4" cy="243.3" r="0.55" fill="#646488" fill-opacity="0.5"/>
<circle cx="222.0" cy="244.4" r="0.55" fill="#7c7c98" fill-opacity="0.5"/>
<circle cx="229.3" cy="245.9" r="0.55" fill="#8c8ca8" fill-opacity="0.5"/>
<circle cx="233.4" cy="243.2" r="0.55" fill="#8c8ca8" fill-opacity="0.5"/>
<circle cx="228.5" cy="242.9" r="0.55" fill="#7c7c98" fill-opacity="0.5"/>
<circle cx="219.8" cy="245.3" r="0.55" fill="#8c8ca8" fill-opacity="0.5"/>
<circle cx="227.4" cy="246.2" r="0.55" fill="#646488" fill-opacity="0.5"/>
<circle cx="224.8" cy="245.5" r="0.55" fill="#646488" fill-opacity="0.5"/>
<circle cx="230.5" cy="244.0" r="0.55" fill="#8c8ca8" fill-opacity="0.5"/>
<circle cx="237.7" cy="245.3" r="0.55" fill="#646488" fill-opacity="0.5"/>
<circle cx="233.8" cy="244.5" r="0.55" fill="#8c8ca8" fill-opacity="0.5"/>
<circle cx="229.5" cy="244.3" r="0.55" fill="#646488" fill-opacity="0.5"/>
<circle cx="233.1" cy="245.1" r="0.55" fill="#646488" fill-opacity="0.5"/>
<circle cx="229.0" cy="243.3" r="0.55" fill="#646488" fill-opacity="0.5"/>
<circle cx="233.8" cy="244.6" r="0.55" fill="#8c8ca8" fill-opacity="0.5"/>
<circle cx="233.9" cy="245.2" r="0.55" fill="#646488" fill-opacity="0.5"/>
<circle cx="232.4" cy="245.3" r="0.55" fill="#646488" fill-opacity="0.5"/>
<circle cx="239.4" cy="244.6" r="0.55" fill="#8c8ca8" fill-opacity="0.5"/>
<circle cx="232.8" cy="243.6" r="0.55" fill="#646488" fill-opacity="0.5"/>
<circle cx="225.8" cy="244.2" r="0.55" fill="#7c7c98" fill-opacity="0.5"/>
<circle cx="236.3" cy="243.7" r="0.55" fill="#7c7c98" fill-opacity="0.5"/>
<circle cx="228.0" cy="243.3" r="0.55" fill="#646488" fill-opacity="0.5"/>
<circle cx="232.6" cy="245.2" r="0.55" fill="#7c7c98" fill-opacity="0.5"/>
<circle cx="235.4" cy="245.7" r="0.55" fill="#7c7c98" fill-opacity="0.5"/>
<circle cx="233.8" cy="242.8" r="0.55" fill="#646488" fill-opacity="0.5"/>
<circle cx="227.0" cy="244.1" r="0.55" fill="#7c7c98" fill-opacity="0.5"/>
<circle cx="234.7" cy="245.3" r="0.55" fill="#646488" fill-opacity="0.5"/>
<circle cx="223.0" cy="244.7" r="0.55" fill="#7c7c98" fill-opacity="0.5"/>
<circle cx="234.9" cy="244.6" r="0.55" fill="#8c8ca8" fill-opacity="0.5"/>
<circle cx="228.4" cy="244.7" r="0.55" fill="#8c8ca8" fill-opacity="0.5"/>
<circle cx="238.8" cy="243.9" r="0.55" fill="#8c8ca8" fill-opacity="0.5"/>
<circle cx="232.2" cy="243.0" r="0.55" fill="#7c7c98" fill-opacity="0.5"/>
<circle cx="237.6" cy="243.3" r="0.55" fill="#646488" fill-opacity="0.5"/>
<circle cx="228.4" cy="244.1" r="0.55" fill="#8c8ca8" fill-opacity="0.5"/>
<circle cx="233.6" cy="245.6" r="0.55" fill="#8c8ca8" fill-opacity="0.5"/>
<circle cx="222.9" cy="243.5" r="0.55" fill="#646488" fill-opacity="0.5"/>
<circle cx="229.2" cy="246.2" r="0.55" fill="#7c7c98" fill-opacity="0.5"/>
<rect x="210.00" y="227.40" width="7.80" height="13.40" fill="none" stroke="#6a6a7a" stroke-width="0.6" />
<rect x="219.40" y="240.90" width="20.20" height="6.20" fill="none" stroke="#6a6a7a" stroke-width="0.6" />
<rect x="201.00" y="208.10" width="49.30" height="49.40" fill="none" stroke="#3a3a3a" stroke-width="0.8" />
<rect x="199.00" y="245.00" width="2.00" height="2.00" fill="#111" stroke="none" stroke-width="1" />
<rect x="212.00" y="257.50" width="2.00" height="2.00" fill="#111" stroke="none" stroke-width="1" />
<line x1="198.80" y1="211.80" x2="201.00" y2="211.80" stroke="#222" stroke-width="0.8"/>
<line x1="198.80" y1="223.40" x2="201.00" y2="223.40" stroke="#222" stroke-width="0.8"/>
<line x1="198.80" y1="238.40" x2="201.00" y2="238.40" stroke="#222" stroke-width="0.8"/>
<line x1="198.80" y1="246.00" x2="201.00" y2="246.00" stroke="#222" stroke-width="0.8"/>
<line x1="198.80" y1="253.90" x2="201.00" y2="253.90" stroke="#222" stroke-width="0.8"/>
<line x1="199.50" y1="233.88" x2="201.00" y2="233.88" stroke="#222" stroke-width="0.6"/>
<line x1="199.50" y1="231.24" x2="201.00" y2="231.24" stroke="#222" stroke-width="0.6"/>
<line x1="199.50" y1="229.37" x2="201.00" y2="229.37" stroke="#222" stroke-width="0.6"/>
<line x1="199.50" y1="227.92" x2="201.00" y2="227.92" stroke="#222" stroke-width="0.6"/>
<line x1="199.50" y1="226.73" x2="201.00" y2="226.73" stroke="#222" stroke-width="0.6"/>
<line x1="199.50" y1="225.72" x2="201.00" y2="225.72" stroke="#222" stroke-width="0.6"/>
<line x1="199.50" y1="224.85" x2="201.00" y2="224.85" stroke="#222" stroke-width="0.6"/>
<line x1="199.50" y1="224.09" x2="201.00" y2="224.09" stroke="#222" stroke-width="0.6"/>
<line x1="199.50" y1="219.91" x2="201.00" y2="219.91" stroke="#222" stroke-width="0.6"/>
<line x1="199.50" y1="217.87" x2="201.00" y2="217.87" stroke="#222" stroke-width="0.6"/>
<line x1="199.50" y1="216.42" x2="201.00" y2="216.42" stroke="#222" stroke-width="0.6"/>
<line x1="199.50" y1="215.29" x2="201.00" y2="215.29" stroke="#222" stroke-width="0.6"/>
<line x1="199.50" y1="214.37" x2="201.00" y2="214.37" stroke="#222" stroke-width="0.6"/>
<line x1="199.50" y1="213.60" x2="201.00" y2="213.60" stroke="#222" stroke-width="0.6"/>
<line x1="199.50" y1="212.92" x2="201.00" y2="212.92" stroke="#222" stroke-width="0.6"/>
<line x1="199.50" y1="212.33" x2="201.00" y2="212.33" stroke="#222" stroke-width="0.6"/>
<line x1="199.50" y1="238.20" x2="201.00" y2="238.20" stroke="#222" stroke-width="0.6"/>
<line x1="199.50" y1="239.50" x2="201.00" y2="239.50" stroke="#222" stroke-width="0.6"/>
<line x1="199.50" y1="240.80" x2="201.00" y2="240.80" stroke="#222" stroke-width="0.6"/>
<line x1="199.50" y1="242.10" x2="201.00" y2="242.10" stroke="#222" stroke-width="0.6"/>
<line x1="199.50" y1="243.40" x2="201.00" y2="243.40" stroke="#222" stroke-width="0.6"/>
<line x1="199.50" y1="244.70" x2="201.00" y2="244.70" stroke="#222" stroke-width="0.6"/>
<line x1="199.50" y1="246.00" x2="201.00" y2="246.00" stroke="#222" stroke-width="0.6"/>
<line x1="199.50" y1="247.30" x2="201.00" y2="247.30" stroke="#222" stroke-width="0.6"/>
<line x1="199.50" y1="248.60" x2="201.00" y2="248.60" stroke="#222" stroke-width="0.6"/>
<line x1="199.50" y1="249.90" x2="201.00" y2="249.90" stroke="#222" stroke-width="0.6"/>
<line x1="199.50" y1="251.20" x2="201.00" y2="251.20" stroke="#222" stroke-width="0.6"/>
<line x1="199.50" y1="252.50" x2="201.00" y2="252.50" stroke="#222" stroke-width="0.6"/>
<line x1="205.00" y1="257.50" x2="205.00" y2="259.70" stroke="#222" stroke-width="0.8"/>
<line x1="213.00" y1="257.50" x2="213.00" y2="259.70" stroke="#222" stroke-width="0.8"/>
<line x1="218.50" y1="257.50" x2="218.50" y2="259.70" stroke="#222" stroke-width="0.8"/>
<line x1="232.00" y1="257.50" x2="232.00" y2="259.70" stroke="#222" stroke-width="0.8"/>
<line x1="246.00" y1="257.50" x2="246.00" y2="259.70" stroke="#222" stroke-width="0.8"/>
<line x1="222.56" y1="257.50" x2="222.56" y2="259.00" stroke="#222" stroke-width="0.6"/>
<line x1="224.94" y1="257.50" x2="224.94" y2="259.00" stroke="#222" stroke-width="0.6"/>
<line x1="226.63" y1="257.50" x2="226.63" y2="259.00" stroke="#222" stroke-width="0.6"/>
<line x1="227.94" y1="257.50" x2="227.94" y2="259.00" stroke="#222" stroke-width="0.6"/>
<line x1="229.01" y1="257.50" x2="229.01" y2="259.00" stroke="#222" stroke-width="0.6"/>
<line x1="229.91" y1="257.50" x2="229.91" y2="259.00" stroke="#222" stroke-width="0.6"/>
<line x1="230.69" y1="257.50" x2="230.69" y2="259.00" stroke="#222" stroke-width="0.6"/>
<line x1="231.38" y1="257.50" x2="231.38" y2="259.00" stroke="#222" stroke-width="0.6"/>
<line x1="236.21" y1="257.50" x2="236.21" y2="259.00" stroke="#222" stroke-width="0.6"/>
<line x1="238.68" y1="257.50" x2="238.68" y2="259.00" stroke="#222" stroke-width="0.6"/>
<line x1="240.43" y1="257.50" x2="240.43" y2="259.00" stroke="#222" stroke-width="0.6"/>
<line x1="241.79" y1="257.50" x2="241.79" y2="259.00" stroke="#222" stroke-width="0.6"/>
<line x1="242.89" y1="257.50" x2="242.89" y2="259.00" stroke="#222" stroke-width="0.6"/>
<line x1="243.83" y1="257.50" x2="243.83" y2="259.00" stroke="#222" stroke-width="0.6"/>
<line x1="244.64" y1="257.50" x2="244.64" y2="259.00" stroke="#222" stroke-width="0.6"/>
<line x1="245.36" y1="257.50" x2="245.36" y2="259.00" stroke="#222" stroke-width="0.6"/>
<line x1="205.20" y1="257.50" x2="205.20" y2="259.00" stroke="#222" stroke-width="0.6"/>
<line x1="206.50" y1="257.50" x2="206.50" y2="259.00" stroke="#222" stroke-width="0.6"/>
<line x1="207.80" y1="257.50" x2="207.80" y2="259.00" stroke="#222" stroke-width="0.6"/>
<line x1="209.10" y1="257.50" x2="209.10" y2="259.00" stroke="#222" stroke-width="0.6"/>
<line x1="210.40" y1="257.50" x2="210.40" y2="259.00" stroke="#222" stroke-width="0.6"/>
<line x1="211.70" y1="257.50" x2="211.70" y2="259.00" stroke="#222" stroke-width="0.6"/>
<line x1="213.00" y1="257.50" x2="213.00" y2="259.00" stroke="#222" stroke-width="0.6"/>
<line x1="214.30" y1="257.50" x2="214.30" y2="259.00" stroke="#222" stroke-width="0.6"/>
<line x1="215.60" y1="257.50" x2="215.60" y2="259.00" stroke="#222" stroke-width="0.6"/>
<line x1="216.90" y1="257.50" x2="216.90" y2="259.00" stroke="#222" stroke-width="0.6"/>
<line x1="218.20" y1="257.50" x2="218.20" y2="259.00" stroke="#222" stroke-width="0.6"/>
<text x="204.5" y="223.6" font-size="6.4" text-anchor="start" fill="#333" font-weight="normal" >41.3%</text>
<text x="230.3" y="237.79999999999998" font-size="6.4" text-anchor="start" fill="#333" font-weight="normal" >52.8%</text>
<text x="196.00" y="213.90" font-size="6.4" text-anchor="end" fill="#2a2a2a">10<tspan font-size="4.22" dy="-2.43">5</tspan></text>
<text x="196.00" y="225.50" font-size="6.4" text-anchor="end" fill="#2a2a2a">10<tspan font-size="4.22" dy="-2.43">4</tspan></text>
<text x="196.00" y="240.50" font-size="6.4" text-anchor="end" fill="#2a2a2a">10<tspan font-size="4.22" dy="-2.43">3</tspan></text>
<text x="195.2" y="248.1" font-size="6.4" text-anchor="end" fill="#2a2a2a" font-weight="normal" >0</text>
<text x="196.00" y="256.00" font-size="6.4" text-anchor="end" fill="#2a2a2a">&#8722;10<tspan font-size="4.22" dy="-2.43">3</tspan></text>
<text x="208.10" y="265.70" font-size="6.4" text-anchor="end" fill="#2a2a2a" transform="rotate(-45 208.1 265.7)">&#8722;10<tspan font-size="4.22" dy="-2.43">3</tspan></text>
<text x="216.00" y="267.30" font-size="6.4" text-anchor="end" fill="#2a2a2a" transform="rotate(-45 216.00 267.30)">0</text>
<text x="222.50" y="265.70" font-size="6.4" text-anchor="end" fill="#2a2a2a" transform="rotate(-45 222.5 265.7)">10<tspan font-size="4.22" dy="-2.43">3</tspan></text>
<text x="235.60" y="265.70" font-size="6.4" text-anchor="end" fill="#2a2a2a" transform="rotate(-45 235.6 265.7)">10<tspan font-size="4.22" dy="-2.43">4</tspan></text>
<text x="249.40" y="265.70" font-size="6.4" text-anchor="end" fill="#2a2a2a" transform="rotate(-45 249.4 265.7)">10<tspan font-size="4.22" dy="-2.43">5</tspan></text>
<rect x="280.20" y="227.20" width="7.60" height="13.40" fill="#e2e2ee" stroke="none" stroke-width="1" />
<rect x="289.10" y="241.30" width="20.30" height="6.00" fill="#e4e4ee" stroke="none" stroke-width="1" />
<circle cx="281.8" cy="233.9" r="0.55" fill="#8484ac" fill-opacity="0.5"/>
<circle cx="285.0" cy="234.6" r="0.55" fill="#9494b8" fill-opacity="0.5"/>
<circle cx="286.4" cy="234.6" r="0.55" fill="#9494b8" fill-opacity="0.5"/>
<circle cx="284.7" cy="233.2" r="0.55" fill="#8484ac" fill-opacity="0.5"/>
<circle cx="285.8" cy="233.3" r="0.55" fill="#707098" fill-opacity="0.5"/>
<circle cx="284.6" cy="238.7" r="0.55" fill="#8484ac" fill-opacity="0.5"/>
<circle cx="284.4" cy="237.8" r="0.55" fill="#9494b8" fill-opacity="0.5"/>
<circle cx="283.3" cy="229.0" r="0.55" fill="#8484ac" fill-opacity="0.5"/>
<circle cx="286.0" cy="232.1" r="0.55" fill="#9494b8" fill-opacity="0.5"/>
<circle cx="281.9" cy="230.4" r="0.55" fill="#9494b8" fill-opacity="0.5"/>
<circle cx="284.7" cy="237.8" r="0.55" fill="#9494b8" fill-opacity="0.5"/>
<circle cx="283.7" cy="230.4" r="0.55" fill="#707098" fill-opacity="0.5"/>
<circle cx="285.6" cy="233.3" r="0.55" fill="#707098" fill-opacity="0.5"/>
<circle cx="283.9" cy="228.5" r="0.55" fill="#707098" fill-opacity="0.5"/>
<circle cx="283.8" cy="232.5" r="0.55" fill="#707098" fill-opacity="0.5"/>
<circle cx="285.3" cy="232.9" r="0.55" fill="#707098" fill-opacity="0.5"/>
<circle cx="283.4" cy="237.2" r="0.55" fill="#707098" fill-opacity="0.5"/>
<circle cx="282.8" cy="233.8" r="0.55" fill="#8484ac" fill-opacity="0.5"/>
<circle cx="284.0" cy="232.0" r="0.55" fill="#707098" fill-opacity="0.5"/>
<circle cx="283.5" cy="234.7" r="0.55" fill="#707098" fill-opacity="0.5"/>
<circle cx="284.5" cy="233.8" r="0.55" fill="#9494b8" fill-opacity="0.5"/>
<circle cx="283.5" cy="236.3" r="0.55" fill="#8484ac" fill-opacity="0.5"/>
<circle cx="285.0" cy="234.4" r="0.55" fill="#707098" fill-opacity="0.5"/>
<circle cx="283.6" cy="234.5" r="0.55" fill="#8484ac" fill-opacity="0.5"/>
<circle cx="285.9" cy="235.1" r="0.55" fill="#9494b8" fill-opacity="0.5"/>
<circle cx="284.2" cy="237.2" r="0.55" fill="#9494b8" fill-opacity="0.5"/>
<circle cx="283.8" cy="234.7" r="0.55" fill="#707098" fill-opacity="0.5"/>
<circle cx="284.1" cy="236.1" r="0.55" fill="#707098" fill-opacity="0.5"/>
<circle cx="286.3" cy="232.5" r="0.55" fill="#707098" fill-opacity="0.5"/>
<circle cx="286.4" cy="235.6" r="0.55" fill="#8484ac" fill-opacity="0.5"/>
<circle cx="283.7" cy="234.8" r="0.55" fill="#9494b8" fill-opacity="0.5"/>
<circle cx="284.2" cy="233.6" r="0.55" fill="#8484ac" fill-opacity="0.5"/>
<circle cx="286.4" cy="235.3" r="0.55" fill="#8484ac" fill-opacity="0.5"/>
<circle cx="282.9" cy="235.3" r="0.55" fill="#9494b8" fill-opacity="0.5"/>
<circle cx="283.7" cy="236.0" r="0.55" fill="#707098" fill-opacity="0.5"/>
<circle cx="283.4" cy="235.4" r="0.55" fill="#9494b8" fill-opacity="0.5"/>
<circle cx="283.5" cy="233.9" r="0.55" fill="#8484ac" fill-opacity="0.5"/>
<circle cx="284.7" cy="234.6" r="0.55" fill="#8484ac" fill-opacity="0.5"/>
<circle cx="284.5" cy="236.1" r="0.55" fill="#8484ac" fill-opacity="0.5"/>
<circle cx="284.6" cy="237.0" r="0.55" fill="#9494b8" fill-opacity="0.5"/>
<circle cx="281.7" cy="234.6" r="0.55" fill="#8484ac" fill-opacity="0.5"/>
<circle cx="282.7" cy="231.2" r="0.55" fill="#707098" fill-opacity="0.5"/>
<circle cx="281.0" cy="234.6" r="0.55" fill="#707098" fill-opacity="0.5"/>
<circle cx="282.8" cy="236.3" r="0.55" fill="#9494b8" fill-opacity="0.5"/>
<circle cx="282.5" cy="233.9" r="0.55" fill="#707098" fill-opacity="0.5"/>
<circle cx="284.6" cy="237.8" r="0.55" fill="#9494b8" fill-opacity="0.5"/>
<circle cx="287.3" cy="232.8" r="0.55" fill="#707098" fill-opacity="0.5"/>
<circle cx="283.0" cy="229.0" r="0.55" fill="#8484ac" fill-opacity="0.5"/>
<circle cx="284.6" cy="236.3" r="0.55" fill="#8484ac" fill-opacity="0.5"/>
<circle cx="283.8" cy="234.1" r="0.55" fill="#707098" fill-opacity="0.5"/>
<circle cx="283.7" cy="235.9" r="0.55" fill="#707098" fill-opacity="0.5"/>
<circle cx="284.7" cy="233.0" r="0.55" fill="#9494b8" fill-opacity="0.5"/>
<circle cx="283.0" cy="232.7" r="0.55" fill="#9494b8" fill-opacity="0.5"/>
<circle cx="282.2" cy="232.2" r="0.55" fill="#707098" fill-opacity="0.5"/>
<circle cx="283.1" cy="233.6" r="0.55" fill="#9494b8" fill-opacity="0.5"/>
<circle cx="284.5" cy="235.8" r="0.55" fill="#9494b8" fill-opacity="0.5"/>
<circle cx="284.8" cy="236.4" r="0.55" fill="#8484ac" fill-opacity="0.5"/>
<circle cx="282.2" cy="237.1" r="0.55" fill="#9494b8" fill-opacity="0.5"/>
<circle cx="284.6" cy="238.1" r="0.55" fill="#9494b8" fill-opacity="0.5"/>
<circle cx="283.7" cy="233.9" r="0.55" fill="#9494b8" fill-opacity="0.5"/>
<circle cx="282.7" cy="235.4" r="0.55" fill="#707098" fill-opacity="0.5"/>
<circle cx="284.5" cy="235.4" r="0.55" fill="#8484ac" fill-opacity="0.5"/>
<circle cx="283.2" cy="240.0" r="0.55" fill="#9494b8" fill-opacity="0.5"/>
<circle cx="281.7" cy="230.4" r="0.55" fill="#9494b8" fill-opacity="0.5"/>
<circle cx="282.4" cy="232.7" r="0.55" fill="#8484ac" fill-opacity="0.5"/>
<circle cx="285.7" cy="230.9" r="0.55" fill="#9494b8" fill-opacity="0.5"/>
<circle cx="283.6" cy="238.3" r="0.55" fill="#8484ac" fill-opacity="0.5"/>
<circle cx="284.8" cy="231.6" r="0.55" fill="#9494b8" fill-opacity="0.5"/>
<circle cx="285.0" cy="231.0" r="0.55" fill="#8484ac" fill-opacity="0.5"/>
<circle cx="283.6" cy="235.1" r="0.55" fill="#8484ac" fill-opacity="0.5"/>
<circle cx="302.3" cy="244.9" r="0.55" fill="#646488" fill-opacity="0.5"/>
<circle cx="299.6" cy="244.6" r="0.55" fill="#646488" fill-opacity="0.5"/>
<circle cx="305.5" cy="244.7" r="0.55" fill="#7c7c98" fill-opacity="0.5"/>
<circle cx="300.7" cy="245.0" r="0.55" fill="#646488" fill-opacity="0.5"/>
<circle cx="304.1" cy="244.4" r="0.55" fill="#7c7c98" fill-opacity="0.5"/>
<circle cx="303.8" cy="245.1" r="0.55" fill="#646488" fill-opacity="0.5"/>
<circle cx="301.5" cy="244.3" r="0.55" fill="#646488" fill-opacity="0.5"/>
<circle cx="300.2" cy="244.4" r="0.55" fill="#7c7c98" fill-opacity="0.5"/>
<circle cx="296.1" cy="244.4" r="0.55" fill="#7c7c98" fill-opacity="0.5"/>
<circle cx="300.5" cy="244.3" r="0.55" fill="#8c8ca8" fill-opacity="0.5"/>
<circle cx="302.6" cy="244.7" r="0.55" fill="#646488" fill-opacity="0.5"/>
<circle cx="291.1" cy="244.7" r="0.55" fill="#7c7c98" fill-opacity="0.5"/>
<circle cx="293.8" cy="244.5" r="0.55" fill="#7c7c98" fill-opacity="0.5"/>
<circle cx="294.2" cy="244.5" r="0.55" fill="#7c7c98" fill-opacity="0.5"/>
<circle cx="289.7" cy="246.5" r="0.55" fill="#646488" fill-opacity="0.5"/>
<circle cx="284.7" cy="245.3" r="0.55" fill="#8c8ca8" fill-opacity="0.5"/>
<circle cx="289.0" cy="243.3" r="0.55" fill="#8c8ca8" fill-opacity="0.5"/>
<circle cx="302.5" cy="243.5" r="0.55" fill="#8c8ca8" fill-opacity="0.5"/>
<circle cx="314.5" cy="244.7" r="0.55" fill="#646488" fill-opacity="0.5"/>
<circle cx="308.3" cy="244.2" r="0.55" fill="#8c8ca8" fill-opacity="0.5"/>
<circle cx="300.6" cy="243.2" r="0.55" fill="#8c8ca8" fill-opacity="0.5"/>
<circle cx="298.6" cy="244.6" r="0.55" fill="#8c8ca8" fill-opacity="0.5"/>
<circle cx="299.3" cy="245.0" r="0.55" fill="#7c7c98" fill-opacity="0.5"/>
<circle cx="299.4" cy="244.8" r="0.55" fill="#646488" fill-opacity="0.5"/>
<circle cx="301.7" cy="244.3" r="0.55" fill="#7c7c98" fill-opacity="0.5"/>
<circle cx="296.2" cy="245.4" r="0.55" fill="#8c8ca8" fill-opacity="0.5"/>
<circle cx="297.0" cy="244.0" r="0.55" fill="#7c7c98" fill-opacity="0.5"/>
<circle cx="301.7" cy="245.1" r="0.55" fill="#8c8ca8" fill-opacity="0.5"/>
<circle cx="301.7" cy="246.4" r="0.55" fill="#7c7c98" fill-opacity="0.5"/>
<circle cx="295.8" cy="243.9" r="0.55" fill="#646488" fill-opacity="0.5"/>
<circle cx="306.0" cy="244.5" r="0.55" fill="#7c7c98" fill-opacity="0.5"/>
<circle cx="301.6" cy="242.3" r="0.55" fill="#8c8ca8" fill-opacity="0.5"/>
<circle cx="306.6" cy="243.1" r="0.55" fill="#7c7c98" fill-opacity="0.5"/>
<circle cx="297.0" cy="244.3" r="0.55" fill="#7c7c98" fill-opacity="0.5"/>
<circle cx="311.4" cy="245.5" r="0.55" fill="#646488" fill-opacity="0.5"/>
<circle cx="298.0" cy="244.2" r="0.55" fill="#8c8ca8" fill-opacity="0.5"/>
<circle cx="298.1" cy="243.9" r="0.55" fill="#7c7c98" fill-opacity="0.5"/>
<circle cx="295.5" cy="245.4" r="0.55" fill="#646488" fill-opacity="0.5"/>
<circle cx="301.4" cy="246.2" r="0.55" fill="#7c7c98" fill-opacity="0.5"/>
<circle cx="299.0" cy="245.1" r="0.55" fill="#646488" fill-opacity="0.5"/>
<circle cx="301.9" cy="245.5" r="0.55" fill="#646488" fill-opacity="0.5"/>
<circle cx="304.4" cy="244.3" r="0.55" fill="#7c7c98" fill-opacity="0.5"/>
<circle cx="296.0" cy="245.1" r="0.55" fill="#646488" fill-opacity="0.5"/>
<circle cx="304.6" cy="244.8" r="0.55" fill="#8c8ca8" fill-opacity="0.5"/>
<circle cx="299.1" cy="245.2" r="0.55" fill="#8c8ca8" fill-opacity="0.5"/>
<circle cx="301.5" cy="245.4" r="0.55" fill="#646488" fill-opacity="0.5"/>
<circle cx="294.0" cy="244.9" r="0.55" fill="#7c7c98" fill-opacity="0.5"/>
<circle cx="300.0" cy="245.8" r="0.55" fill="#646488" fill-opacity="0.5"/>
<circle cx="298.0" cy="246.3" r="0.55" fill="#646488" fill-opacity="0.5"/>
<circle cx="297.4" cy="244.7" r="0.55" fill="#646488" fill-opacity="0.5"/>
<circle cx="299.3" cy="244.7" r="0.55" fill="#8c8ca8" fill-opacity="0.5"/>
<circle cx="294.9" cy="244.7" r="0.55" fill="#7c7c98" fill-opacity="0.5"/>
<circle cx="299.9" cy="245.9" r="0.55" fill="#646488" fill-opacity="0.5"/>
<circle cx="302.5" cy="245.9" r="0.55" fill="#8c8ca8" fill-opacity="0.5"/>
<circle cx="299.0" cy="244.6" r="0.55" fill="#7c7c98" fill-opacity="0.5"/>
<circle cx="292.6" cy="245.2" r="0.55" fill="#7c7c98" fill-opacity="0.5"/>
<circle cx="301.6" cy="244.7" r="0.55" fill="#646488" fill-opacity="0.5"/>
<circle cx="297.0" cy="244.3" r="0.55" fill="#646488" fill-opacity="0.5"/>
<circle cx="297.4" cy="245.5" r="0.55" fill="#646488" fill-opacity="0.5"/>
<circle cx="292.5" cy="244.5" r="0.55" fill="#7c7c98" fill-opacity="0.5"/>
<circle cx="307.0" cy="244.7" r="0.55" fill="#8c8ca8" fill-opacity="0.5"/>
<circle cx="303.1" cy="243.6" r="0.55" fill="#646488" fill-opacity="0.5"/>
<circle cx="304.7" cy="245.7" r="0.55" fill="#7c7c98" fill-opacity="0.5"/>
<circle cx="303.0" cy="243.7" r="0.55" fill="#8c8ca8" fill-opacity="0.5"/>
<circle cx="297.7" cy="243.9" r="0.55" fill="#7c7c98" fill-opacity="0.5"/>
<circle cx="300.6" cy="244.9" r="0.55" fill="#646488" fill-opacity="0.5"/>
<circle cx="297.5" cy="245.3" r="0.55" fill="#7c7c98" fill-opacity="0.5"/>
<circle cx="299.5" cy="245.0" r="0.55" fill="#7c7c98" fill-opacity="0.5"/>
<circle cx="302.8" cy="245.0" r="0.55" fill="#7c7c98" fill-opacity="0.5"/>
<circle cx="298.0" cy="246.4" r="0.55" fill="#7c7c98" fill-opacity="0.5"/>
<circle cx="299.0" cy="244.4" r="0.55" fill="#7c7c98" fill-opacity="0.5"/>
<circle cx="293.5" cy="245.0" r="0.55" fill="#8c8ca8" fill-opacity="0.5"/>
<circle cx="303.5" cy="245.0" r="0.55" fill="#8c8ca8" fill-opacity="0.5"/>
<circle cx="302.0" cy="243.5" r="0.55" fill="#646488" fill-opacity="0.5"/>
<circle cx="289.1" cy="245.3" r="0.55" fill="#7c7c98" fill-opacity="0.5"/>
<circle cx="303.6" cy="242.9" r="0.55" fill="#7c7c98" fill-opacity="0.5"/>
<circle cx="297.5" cy="245.2" r="0.55" fill="#8c8ca8" fill-opacity="0.5"/>
<circle cx="301.1" cy="244.5" r="0.55" fill="#7c7c98" fill-opacity="0.5"/>
<circle cx="289.2" cy="245.2" r="0.55" fill="#8c8ca8" fill-opacity="0.5"/>
<circle cx="297.3" cy="245.2" r="0.55" fill="#8c8ca8" fill-opacity="0.5"/>
<circle cx="296.7" cy="244.3" r="0.55" fill="#8c8ca8" fill-opacity="0.5"/>
<circle cx="298.3" cy="243.3" r="0.55" fill="#7c7c98" fill-opacity="0.5"/>
<circle cx="302.4" cy="246.1" r="0.55" fill="#7c7c98" fill-opacity="0.5"/>
<circle cx="296.3" cy="243.8" r="0.55" fill="#7c7c98" fill-opacity="0.5"/>
<circle cx="307.6" cy="245.6" r="0.55" fill="#8c8ca8" fill-opacity="0.5"/>
<circle cx="300.7" cy="246.0" r="0.55" fill="#646488" fill-opacity="0.5"/>
<circle cx="292.1" cy="244.2" r="0.55" fill="#8c8ca8" fill-opacity="0.5"/>
<circle cx="299.9" cy="245.9" r="0.55" fill="#7c7c98" fill-opacity="0.5"/>
<circle cx="303.3" cy="244.4" r="0.55" fill="#8c8ca8" fill-opacity="0.5"/>
<circle cx="299.0" cy="241.8" r="0.55" fill="#7c7c98" fill-opacity="0.5"/>
<rect x="280.20" y="227.20" width="7.60" height="13.40" fill="none" stroke="#6a6a7a" stroke-width="0.6" />
<rect x="289.10" y="241.30" width="20.30" height="6.00" fill="none" stroke="#6a6a7a" stroke-width="0.6" />
<rect x="271.80" y="208.10" width="49.30" height="49.40" fill="none" stroke="#3a3a3a" stroke-width="0.8" />
<rect x="269.80" y="245.00" width="2.00" height="2.00" fill="#111" stroke="none" stroke-width="1" />
<rect x="282.80" y="257.50" width="2.00" height="2.00" fill="#111" stroke="none" stroke-width="1" />
<line x1="269.60" y1="211.80" x2="271.80" y2="211.80" stroke="#222" stroke-width="0.8"/>
<line x1="269.60" y1="223.40" x2="271.80" y2="223.40" stroke="#222" stroke-width="0.8"/>
<line x1="269.60" y1="238.40" x2="271.80" y2="238.40" stroke="#222" stroke-width="0.8"/>
<line x1="269.60" y1="246.00" x2="271.80" y2="246.00" stroke="#222" stroke-width="0.8"/>
<line x1="269.60" y1="253.90" x2="271.80" y2="253.90" stroke="#222" stroke-width="0.8"/>
<line x1="270.30" y1="233.88" x2="271.80" y2="233.88" stroke="#222" stroke-width="0.6"/>
<line x1="270.30" y1="231.24" x2="271.80" y2="231.24" stroke="#222" stroke-width="0.6"/>
<line x1="270.30" y1="229.37" x2="271.80" y2="229.37" stroke="#222" stroke-width="0.6"/>
<line x1="270.30" y1="227.92" x2="271.80" y2="227.92" stroke="#222" stroke-width="0.6"/>
<line x1="270.30" y1="226.73" x2="271.80" y2="226.73" stroke="#222" stroke-width="0.6"/>
<line x1="270.30" y1="225.72" x2="271.80" y2="225.72" stroke="#222" stroke-width="0.6"/>
<line x1="270.30" y1="224.85" x2="271.80" y2="224.85" stroke="#222" stroke-width="0.6"/>
<line x1="270.30" y1="224.09" x2="271.80" y2="224.09" stroke="#222" stroke-width="0.6"/>
<line x1="270.30" y1="219.91" x2="271.80" y2="219.91" stroke="#222" stroke-width="0.6"/>
<line x1="270.30" y1="217.87" x2="271.80" y2="217.87" stroke="#222" stroke-width="0.6"/>
<line x1="270.30" y1="216.42" x2="271.80" y2="216.42" stroke="#222" stroke-width="0.6"/>
<line x1="270.30" y1="215.29" x2="271.80" y2="215.29" stroke="#222" stroke-width="0.6"/>
<line x1="270.30" y1="214.37" x2="271.80" y2="214.37" stroke="#222" stroke-width="0.6"/>
<line x1="270.30" y1="213.60" x2="271.80" y2="213.60" stroke="#222" stroke-width="0.6"/>
<line x1="270.30" y1="212.92" x2="271.80" y2="212.92" stroke="#222" stroke-width="0.6"/>
<line x1="270.30" y1="212.33" x2="271.80" y2="212.33" stroke="#222" stroke-width="0.6"/>
<line x1="270.30" y1="238.20" x2="271.80" y2="238.20" stroke="#222" stroke-width="0.6"/>
<line x1="270.30" y1="239.50" x2="271.80" y2="239.50" stroke="#222" stroke-width="0.6"/>
<line x1="270.30" y1="240.80" x2="271.80" y2="240.80" stroke="#222" stroke-width="0.6"/>
<line x1="270.30" y1="242.10" x2="271.80" y2="242.10" stroke="#222" stroke-width="0.6"/>
<line x1="270.30" y1="243.40" x2="271.80" y2="243.40" stroke="#222" stroke-width="0.6"/>
<line x1="270.30" y1="244.70" x2="271.80" y2="244.70" stroke="#222" stroke-width="0.6"/>
<line x1="270.30" y1="246.00" x2="271.80" y2="246.00" stroke="#222" stroke-width="0.6"/>
<line x1="270.30" y1="247.30" x2="271.80" y2="247.30" stroke="#222" stroke-width="0.6"/>
<line x1="270.30" y1="248.60" x2="271.80" y2="248.60" stroke="#222" stroke-width="0.6"/>
<line x1="270.30" y1="249.90" x2="271.80" y2="249.90" stroke="#222" stroke-width="0.6"/>
<line x1="270.30" y1="251.20" x2="271.80" y2="251.20" stroke="#222" stroke-width="0.6"/>
<line x1="270.30" y1="252.50" x2="271.80" y2="252.50" stroke="#222" stroke-width="0.6"/>
<line x1="275.80" y1="257.50" x2="275.80" y2="259.70" stroke="#222" stroke-width="0.8"/>
<line x1="283.80" y1="257.50" x2="283.80" y2="259.70" stroke="#222" stroke-width="0.8"/>
<line x1="289.30" y1="257.50" x2="289.30" y2="259.70" stroke="#222" stroke-width="0.8"/>
<line x1="302.80" y1="257.50" x2="302.80" y2="259.70" stroke="#222" stroke-width="0.8"/>
<line x1="316.80" y1="257.50" x2="316.80" y2="259.70" stroke="#222" stroke-width="0.8"/>
<line x1="293.36" y1="257.50" x2="293.36" y2="259.00" stroke="#222" stroke-width="0.6"/>
<line x1="295.74" y1="257.50" x2="295.74" y2="259.00" stroke="#222" stroke-width="0.6"/>
<line x1="297.43" y1="257.50" x2="297.43" y2="259.00" stroke="#222" stroke-width="0.6"/>
<line x1="298.74" y1="257.50" x2="298.74" y2="259.00" stroke="#222" stroke-width="0.6"/>
<line x1="299.81" y1="257.50" x2="299.81" y2="259.00" stroke="#222" stroke-width="0.6"/>
<line x1="300.71" y1="257.50" x2="300.71" y2="259.00" stroke="#222" stroke-width="0.6"/>
<line x1="301.49" y1="257.50" x2="301.49" y2="259.00" stroke="#222" stroke-width="0.6"/>
<line x1="302.18" y1="257.50" x2="302.18" y2="259.00" stroke="#222" stroke-width="0.6"/>
<line x1="307.01" y1="257.50" x2="307.01" y2="259.00" stroke="#222" stroke-width="0.6"/>
<line x1="309.48" y1="257.50" x2="309.48" y2="259.00" stroke="#222" stroke-width="0.6"/>
<line x1="311.23" y1="257.50" x2="311.23" y2="259.00" stroke="#222" stroke-width="0.6"/>
<line x1="312.59" y1="257.50" x2="312.59" y2="259.00" stroke="#222" stroke-width="0.6"/>
<line x1="313.69" y1="257.50" x2="313.69" y2="259.00" stroke="#222" stroke-width="0.6"/>
<line x1="314.63" y1="257.50" x2="314.63" y2="259.00" stroke="#222" stroke-width="0.6"/>
<line x1="315.44" y1="257.50" x2="315.44" y2="259.00" stroke="#222" stroke-width="0.6"/>
<line x1="316.16" y1="257.50" x2="316.16" y2="259.00" stroke="#222" stroke-width="0.6"/>
<line x1="276.00" y1="257.50" x2="276.00" y2="259.00" stroke="#222" stroke-width="0.6"/>
<line x1="277.30" y1="257.50" x2="277.30" y2="259.00" stroke="#222" stroke-width="0.6"/>
<line x1="278.60" y1="257.50" x2="278.60" y2="259.00" stroke="#222" stroke-width="0.6"/>
<line x1="279.90" y1="257.50" x2="279.90" y2="259.00" stroke="#222" stroke-width="0.6"/>
<line x1="281.20" y1="257.50" x2="281.20" y2="259.00" stroke="#222" stroke-width="0.6"/>
<line x1="282.50" y1="257.50" x2="282.50" y2="259.00" stroke="#222" stroke-width="0.6"/>
<line x1="283.80" y1="257.50" x2="283.80" y2="259.00" stroke="#222" stroke-width="0.6"/>
<line x1="285.10" y1="257.50" x2="285.10" y2="259.00" stroke="#222" stroke-width="0.6"/>
<line x1="286.40" y1="257.50" x2="286.40" y2="259.00" stroke="#222" stroke-width="0.6"/>
<line x1="287.70" y1="257.50" x2="287.70" y2="259.00" stroke="#222" stroke-width="0.6"/>
<line x1="289.00" y1="257.50" x2="289.00" y2="259.00" stroke="#222" stroke-width="0.6"/>
<text x="275.3" y="223.6" font-size="6.4" text-anchor="start" fill="#333" font-weight="normal" >18.4%</text>
<text x="301.1" y="237.79999999999998" font-size="6.4" text-anchor="start" fill="#333" font-weight="normal" >76.7%</text>
<text x="266.80" y="213.90" font-size="6.4" text-anchor="end" fill="#2a2a2a">10<tspan font-size="4.22" dy="-2.43">5</tspan></text>
<text x="266.80" y="225.50" font-size="6.4" text-anchor="end" fill="#2a2a2a">10<tspan font-size="4.22" dy="-2.43">4</tspan></text>
<text x="266.80" y="240.50" font-size="6.4" text-anchor="end" fill="#2a2a2a">10<tspan font-size="4.22" dy="-2.43">3</tspan></text>
<text x="266.0" y="248.1" font-size="6.4" text-anchor="end" fill="#2a2a2a" font-weight="normal" >0</text>
<text x="266.80" y="256.00" font-size="6.4" text-anchor="end" fill="#2a2a2a">&#8722;10<tspan font-size="4.22" dy="-2.43">3</tspan></text>
<text x="278.90" y="265.70" font-size="6.4" text-anchor="end" fill="#2a2a2a" transform="rotate(-45 278.90000000000003 265.7)">&#8722;10<tspan font-size="4.22" dy="-2.43">3</tspan></text>
<text x="286.80" y="267.30" font-size="6.4" text-anchor="end" fill="#2a2a2a" transform="rotate(-45 286.80 267.30)">0</text>
<text x="293.30" y="265.70" font-size="6.4" text-anchor="end" fill="#2a2a2a" transform="rotate(-45 293.3 265.7)">10<tspan font-size="4.22" dy="-2.43">3</tspan></text>
<text x="306.40" y="265.70" font-size="6.4" text-anchor="end" fill="#2a2a2a" transform="rotate(-45 306.40000000000003 265.7)">10<tspan font-size="4.22" dy="-2.43">4</tspan></text>
<text x="320.20" y="265.70" font-size="6.4" text-anchor="end" fill="#2a2a2a" transform="rotate(-45 320.20000000000005 265.7)">10<tspan font-size="4.22" dy="-2.43">5</tspan></text>
<text x="372" y="204.1" font-size="8.6" text-anchor="middle" fill="#222" font-weight="normal" textLength="25.6" lengthAdjust="spacingAndGlyphs">% CD4</text>
<text x="339.3" y="237.2" font-size="7.0" font-weight="bold" text-anchor="middle" fill="#2a2a2a" transform="rotate(-90 339.3 237.2)" textLength="17.3" lengthAdjust="spacingAndGlyphs">% CD4</text>
<line x1="357.70" y1="209.50" x2="357.70" y2="266.80" stroke="#333" stroke-width="1.3"/>
<line x1="354.90" y1="220.60" x2="357.70" y2="220.60" stroke="#333" stroke-width="1"/>
<text x="352.5" y="223.1" font-size="6.7" text-anchor="end" fill="#333" font-weight="normal" >60</text>
<line x1="354.90" y1="235.80" x2="357.70" y2="235.80" stroke="#333" stroke-width="1"/>
<text x="352.5" y="238.3" font-size="6.7" text-anchor="end" fill="#333" font-weight="normal" >40</text>
<line x1="354.90" y1="251.00" x2="357.70" y2="251.00" stroke="#333" stroke-width="1"/>
<text x="352.5" y="253.5" font-size="6.7" text-anchor="end" fill="#333" font-weight="normal" >20</text>
<line x1="354.90" y1="266.20" x2="357.70" y2="266.20" stroke="#333" stroke-width="1"/>
<text x="352.5" y="268.7" font-size="6.7" text-anchor="end" fill="#333" font-weight="normal" >0</text>
<rect x="359.70" y="236.50" width="10.20" height="29.90" fill="#f0a593" stroke="#e28a84" stroke-width="0.5" />
<line x1="364.80" y1="229.00" x2="364.80" y2="244.00" stroke="#cc1838" stroke-width="0.8"/>
<line x1="362.60" y1="229.00" x2="367.00" y2="229.00" stroke="#cc1838" stroke-width="0.8"/>
<line x1="362.60" y1="244.00" x2="367.00" y2="244.00" stroke="#cc1838" stroke-width="0.8"/>
<circle cx="362.48" cy="224.00" r="0.9" fill="#cc1838" stroke="none" stroke-width="0.5"/>
<circle cx="364.96" cy="226.00" r="0.9" fill="#cc1838" stroke="none" stroke-width="0.5"/>
<circle cx="367.29" cy="228.00" r="0.9" fill="#cc1838" stroke="none" stroke-width="0.5"/>
<circle cx="362.70" cy="231.00" r="0.9" fill="#cc1838" stroke="none" stroke-width="0.5"/>
<circle cx="364.86" cy="233.00" r="0.9" fill="#cc1838" stroke="none" stroke-width="0.5"/>
<circle cx="366.96" cy="235.00" r="0.9" fill="#cc1838" stroke="none" stroke-width="0.5"/>
<circle cx="363.02" cy="237.00" r="0.9" fill="#cc1838" stroke="none" stroke-width="0.5"/>
<circle cx="364.69" cy="239.00" r="0.9" fill="#cc1838" stroke="none" stroke-width="0.5"/>
<circle cx="366.68" cy="241.00" r="0.9" fill="#cc1838" stroke="none" stroke-width="0.5"/>
<circle cx="362.48" cy="243.00" r="0.9" fill="#cc1838" stroke="none" stroke-width="0.5"/>
<circle cx="364.93" cy="245.00" r="0.9" fill="#cc1838" stroke="none" stroke-width="0.5"/>
<rect x="374.00" y="252.60" width="10.20" height="13.80" fill="#adbbde" stroke="#8c9fcc" stroke-width="0.5" />
<circle cx="376.93" cy="247.00" r="0.9" fill="#1d3f7a" stroke="none" stroke-width="0.5"/>
<circle cx="379.39" cy="248.50" r="0.9" fill="#1d3f7a" stroke="none" stroke-width="0.5"/>
<circle cx="380.64" cy="250.00" r="0.9" fill="#1d3f7a" stroke="none" stroke-width="0.5"/>
<circle cx="377.36" cy="251.00" r="0.9" fill="#1d3f7a" stroke="none" stroke-width="0.5"/>
<circle cx="378.76" cy="252.00" r="0.9" fill="#1d3f7a" stroke="none" stroke-width="0.5"/>
<circle cx="381.47" cy="252.50" r="0.9" fill="#1d3f7a" stroke="none" stroke-width="0.5"/>
<circle cx="377.42" cy="253.00" r="0.9" fill="#1d3f7a" stroke="none" stroke-width="0.5"/>
<circle cx="378.96" cy="254.00" r="0.9" fill="#1d3f7a" stroke="none" stroke-width="0.5"/>
<circle cx="380.70" cy="255.00" r="0.9" fill="#1d3f7a" stroke="none" stroke-width="0.5"/>
<circle cx="376.81" cy="256.00" r="0.9" fill="#1d3f7a" stroke="none" stroke-width="0.5"/>
<circle cx="378.81" cy="257.00" r="0.9" fill="#1d3f7a" stroke="none" stroke-width="0.5"/>
<circle cx="381.58" cy="258.00" r="0.9" fill="#1d3f7a" stroke="none" stroke-width="0.5"/>
<line x1="357.10" y1="266.40" x2="386.20" y2="266.40" stroke="#333" stroke-width="1.3"/>
<line x1="364.80" y1="266.40" x2="364.80" y2="268.90" stroke="#333" stroke-width="1"/>
<line x1="379.10" y1="266.40" x2="379.10" y2="268.90" stroke="#333" stroke-width="1"/>
<line x1="365.00" y1="218.20" x2="379.50" y2="218.20" stroke="#333" stroke-width="0.9"/>
<text x="372.25" y="218.5" font-size="5.6" text-anchor="middle" fill="#222" font-weight="bold" >****</text>
<text x="364.8" y="276.2" font-size="6.8" text-anchor="middle" fill="#cc4a66" font-weight="normal" >fl/fl</text>
<text x="379.1" y="276.2" font-size="6.8" text-anchor="middle" fill="#3a64a0" font-weight="normal" >KO</text>
<text x="436" y="204.1" font-size="8.6" text-anchor="middle" fill="#222" font-weight="normal" textLength="34.2" lengthAdjust="spacingAndGlyphs">Total CD4</text>
<text x="496.5" y="204.1" font-size="8.6" text-anchor="middle" fill="#222" font-weight="normal" textLength="35.0" lengthAdjust="spacingAndGlyphs">Total CD8</text>
<text x="403.0" y="241.2" font-size="6.8" font-weight="bold" text-anchor="middle" fill="#2a2a2a" transform="rotate(-90 403.0 241.2)" textLength="31.5" lengthAdjust="spacingAndGlyphs">Cell # (10<tspan font-size="4.4" dy="-2.4">6</tspan><tspan dy="2.4">)</tspan></text>
<text x="464.8" y="241.2" font-size="6.8" font-weight="bold" text-anchor="middle" fill="#2a2a2a" transform="rotate(-90 464.8 241.2)" textLength="31.5" lengthAdjust="spacingAndGlyphs">Cell # (10<tspan font-size="4.4" dy="-2.4">6</tspan><tspan dy="2.4">)</tspan></text>
<line x1="422.20" y1="209.50" x2="422.20" y2="266.80" stroke="#333" stroke-width="1.3"/>
<line x1="419.40" y1="211.60" x2="422.20" y2="211.60" stroke="#333" stroke-width="1"/>
<text x="417.0" y="214.1" font-size="6.7" text-anchor="end" fill="#333" font-weight="normal" >25</text>
<line x1="419.40" y1="222.70" x2="422.20" y2="222.70" stroke="#333" stroke-width="1"/>
<text x="417.0" y="225.2" font-size="6.7" text-anchor="end" fill="#333" font-weight="normal" >20</text>
<line x1="419.40" y1="233.70" x2="422.20" y2="233.70" stroke="#333" stroke-width="1"/>
<text x="417.0" y="236.2" font-size="6.7" text-anchor="end" fill="#333" font-weight="normal" >15</text>
<line x1="419.40" y1="244.50" x2="422.20" y2="244.50" stroke="#333" stroke-width="1"/>
<text x="417.0" y="247.0" font-size="6.7" text-anchor="end" fill="#333" font-weight="normal" >10</text>
<line x1="419.40" y1="255.20" x2="422.20" y2="255.20" stroke="#333" stroke-width="1"/>
<text x="417.0" y="257.7" font-size="6.7" text-anchor="end" fill="#333" font-weight="normal" >5</text>
<line x1="419.40" y1="266.00" x2="422.20" y2="266.00" stroke="#333" stroke-width="1"/>
<text x="417.0" y="268.5" font-size="6.7" text-anchor="end" fill="#333" font-weight="normal" >0</text>
<rect x="425.00" y="238.60" width="9.80" height="27.80" fill="#f0a593" stroke="#e28a84" stroke-width="0.5" />
<line x1="429.90" y1="230.00" x2="429.90" y2="247.00" stroke="#cc1838" stroke-width="0.8"/>
<line x1="427.70" y1="230.00" x2="432.10" y2="230.00" stroke="#cc1838" stroke-width="0.8"/>
<line x1="427.70" y1="247.00" x2="432.10" y2="247.00" stroke="#cc1838" stroke-width="0.8"/>
<circle cx="428.21" cy="221.00" r="0.9" fill="#cc1838" stroke="none" stroke-width="0.5"/>
<circle cx="429.42" cy="224.00" r="0.9" fill="#cc1838" stroke="none" stroke-width="0.5"/>
<circle cx="431.41" cy="228.00" r="0.9" fill="#cc1838" stroke="none" stroke-width="0.5"/>
<circle cx="427.96" cy="232.00" r="0.9" fill="#cc1838" stroke="none" stroke-width="0.5"/>
<circle cx="429.85" cy="235.00" r="0.9" fill="#cc1838" stroke="none" stroke-width="0.5"/>
<circle cx="431.95" cy="238.00" r="0.9" fill="#cc1838" stroke="none" stroke-width="0.5"/>
<circle cx="428.24" cy="241.00" r="0.9" fill="#cc1838" stroke="none" stroke-width="0.5"/>
<circle cx="430.24" cy="244.00" r="0.9" fill="#cc1838" stroke="none" stroke-width="0.5"/>
<circle cx="431.53" cy="247.00" r="0.9" fill="#cc1838" stroke="none" stroke-width="0.5"/>
<circle cx="428.37" cy="250.00" r="0.9" fill="#cc1838" stroke="none" stroke-width="0.5"/>
<circle cx="429.86" cy="253.00" r="0.9" fill="#cc1838" stroke="none" stroke-width="0.5"/>
<circle cx="431.87" cy="257.00" r="0.9" fill="#cc1838" stroke="none" stroke-width="0.5"/>
<rect x="438.50" y="256.00" width="10.50" height="10.40" fill="#adbbde" stroke="#8c9fcc" stroke-width="0.5" />
<line x1="443.70" y1="248.00" x2="443.70" y2="262.00" stroke="#1d3f7a" stroke-width="0.8"/>
<line x1="441.50" y1="248.00" x2="445.90" y2="248.00" stroke="#1d3f7a" stroke-width="0.8"/>
<line x1="441.50" y1="262.00" x2="445.90" y2="262.00" stroke="#1d3f7a" stroke-width="0.8"/>
<circle cx="441.35" cy="244.00" r="0.9" fill="#1d3f7a" stroke="none" stroke-width="0.5"/>
<circle cx="443.44" cy="246.00" r="0.9" fill="#1d3f7a" stroke="none" stroke-width="0.5"/>
<circle cx="445.39" cy="248.00" r="0.9" fill="#1d3f7a" stroke="none" stroke-width="0.5"/>
<circle cx="441.48" cy="250.00" r="0.9" fill="#1d3f7a" stroke="none" stroke-width="0.5"/>
<circle cx="443.74" cy="252.00" r="0.9" fill="#1d3f7a" stroke="none" stroke-width="0.5"/>
<circle cx="445.46" cy="254.00" r="0.9" fill="#1d3f7a" stroke="none" stroke-width="0.5"/>
<circle cx="441.47" cy="256.00" r="0.9" fill="#1d3f7a" stroke="none" stroke-width="0.5"/>
<circle cx="443.31" cy="258.00" r="0.9" fill="#1d3f7a" stroke="none" stroke-width="0.5"/>
<circle cx="445.27" cy="260.00" r="0.9" fill="#1d3f7a" stroke="none" stroke-width="0.5"/>
<circle cx="442.11" cy="261.00" r="0.9" fill="#1d3f7a" stroke="none" stroke-width="0.5"/>
<circle cx="443.64" cy="262.00" r="0.9" fill="#1d3f7a" stroke="none" stroke-width="0.5"/>
<circle cx="445.65" cy="263.00" r="0.9" fill="#1d3f7a" stroke="none" stroke-width="0.5"/>
<line x1="421.60" y1="266.40" x2="450.70" y2="266.40" stroke="#333" stroke-width="1.3"/>
<line x1="429.90" y1="266.40" x2="429.90" y2="268.90" stroke="#333" stroke-width="1"/>
<line x1="443.70" y1="266.40" x2="443.70" y2="268.90" stroke="#333" stroke-width="1"/>
<line x1="430.30" y1="216.30" x2="444.60" y2="216.30" stroke="#333" stroke-width="0.9"/>
<text x="437.45000000000005" y="216.60000000000002" font-size="5.6" text-anchor="middle" fill="#222" font-weight="bold" >****</text>
<text x="429.9" y="276.8" font-size="6.8" text-anchor="middle" fill="#cc4a66" font-weight="normal" >fl/fl</text>
<text x="443.7" y="276.8" font-size="6.8" text-anchor="middle" fill="#3a64a0" font-weight="normal" >KO</text>
<line x1="482.40" y1="219.60" x2="482.40" y2="266.80" stroke="#333" stroke-width="1.3"/>
<line x1="479.60" y1="222.00" x2="482.40" y2="222.00" stroke="#333" stroke-width="1"/>
<text x="477.2" y="224.5" font-size="6.7" text-anchor="end" fill="#333" font-weight="normal" >6</text>
<line x1="479.60" y1="236.70" x2="482.40" y2="236.70" stroke="#333" stroke-width="1"/>
<text x="477.2" y="239.2" font-size="6.7" text-anchor="end" fill="#333" font-weight="normal" >4</text>
<line x1="479.60" y1="251.30" x2="482.40" y2="251.30" stroke="#333" stroke-width="1"/>
<text x="477.2" y="253.8" font-size="6.7" text-anchor="end" fill="#333" font-weight="normal" >2</text>
<line x1="479.60" y1="266.00" x2="482.40" y2="266.00" stroke="#333" stroke-width="1"/>
<text x="477.2" y="268.5" font-size="6.7" text-anchor="end" fill="#333" font-weight="normal" >0</text>
<rect x="485.00" y="250.00" width="10.20" height="16.40" fill="#f0a593" stroke="#e28a84" stroke-width="0.5" />
<line x1="490.10" y1="239.50" x2="490.10" y2="258.00" stroke="#cc1838" stroke-width="0.8"/>
<line x1="487.90" y1="239.50" x2="492.30" y2="239.50" stroke="#cc1838" stroke-width="0.8"/>
<line x1="487.90" y1="258.00" x2="492.30" y2="258.00" stroke="#cc1838" stroke-width="0.8"/>
<circle cx="487.73" cy="229.00" r="0.9" fill="#cc1838" stroke="none" stroke-width="0.5"/>
<circle cx="490.58" cy="234.00" r="0.9" fill="#cc1838" stroke="none" stroke-width="0.5"/>
<circle cx="491.61" cy="245.00" r="0.9" fill="#cc1838" stroke="none" stroke-width="0.5"/>
<circle cx="488.38" cy="249.00" r="0.9" fill="#cc1838" stroke="none" stroke-width="0.5"/>
<circle cx="489.64" cy="251.00" r="0.9" fill="#cc1838" stroke="none" stroke-width="0.5"/>
<circle cx="491.89" cy="253.00" r="0.9" fill="#cc1838" stroke="none" stroke-width="0.5"/>
<circle cx="488.09" cy="254.00" r="0.9" fill="#cc1838" stroke="none" stroke-width="0.5"/>
<circle cx="490.06" cy="256.00" r="0.9" fill="#cc1838" stroke="none" stroke-width="0.5"/>
<circle cx="492.30" cy="258.00" r="0.9" fill="#cc1838" stroke="none" stroke-width="0.5"/>
<circle cx="488.17" cy="260.00" r="0.9" fill="#cc1838" stroke="none" stroke-width="0.5"/>
<circle cx="490.30" cy="262.00" r="0.9" fill="#cc1838" stroke="none" stroke-width="0.5"/>
<rect x="498.00" y="247.90" width="10.90" height="18.50" fill="#adbbde" stroke="#8c9fcc" stroke-width="0.5" />
<line x1="503.40" y1="236.50" x2="503.40" y2="256.00" stroke="#1d3f7a" stroke-width="0.8"/>
<line x1="501.20" y1="236.50" x2="505.60" y2="236.50" stroke="#1d3f7a" stroke-width="0.8"/>
<line x1="501.20" y1="256.00" x2="505.60" y2="256.00" stroke="#1d3f7a" stroke-width="0.8"/>
<circle cx="500.97" cy="225.00" r="0.9" fill="#1d3f7a" stroke="none" stroke-width="0.5"/>
<circle cx="503.19" cy="230.00" r="0.9" fill="#1d3f7a" stroke="none" stroke-width="0.5"/>
<circle cx="505.17" cy="237.00" r="0.9" fill="#1d3f7a" stroke="none" stroke-width="0.5"/>
<circle cx="501.38" cy="241.00" r="0.9" fill="#1d3f7a" stroke="none" stroke-width="0.5"/>
<circle cx="503.32" cy="244.00" r="0.9" fill="#1d3f7a" stroke="none" stroke-width="0.5"/>
<circle cx="505.01" cy="247.00" r="0.9" fill="#1d3f7a" stroke="none" stroke-width="0.5"/>
<circle cx="501.03" cy="250.00" r="0.9" fill="#1d3f7a" stroke="none" stroke-width="0.5"/>
<circle cx="502.96" cy="252.00" r="0.9" fill="#1d3f7a" stroke="none" stroke-width="0.5"/>
<circle cx="504.95" cy="254.00" r="0.9" fill="#1d3f7a" stroke="none" stroke-width="0.5"/>
<circle cx="501.55" cy="257.00" r="0.9" fill="#1d3f7a" stroke="none" stroke-width="0.5"/>
<circle cx="503.86" cy="259.00" r="0.9" fill="#1d3f7a" stroke="none" stroke-width="0.5"/>
<circle cx="505.49" cy="261.00" r="0.9" fill="#1d3f7a" stroke="none" stroke-width="0.5"/>
<line x1="481.80" y1="266.40" x2="510.90" y2="266.40" stroke="#333" stroke-width="1.3"/>
<line x1="490.10" y1="266.40" x2="490.10" y2="268.90" stroke="#333" stroke-width="1"/>
<line x1="503.40" y1="266.40" x2="503.40" y2="268.90" stroke="#333" stroke-width="1"/>
<line x1="490.00" y1="218.60" x2="504.20" y2="218.60" stroke="#333" stroke-width="0.9"/>
<text x="497.1" y="217.6" font-size="5.6" text-anchor="middle" fill="#222" font-weight="normal" >ns</text>
<text x="490.1" y="276.7" font-size="6.8" text-anchor="middle" fill="#cc4a66" font-weight="normal" >fl/fl</text>
<text x="503.4" y="276.7" font-size="6.8" text-anchor="middle" fill="#3a64a0" font-weight="normal" >KO</text>
</svg></body></html>
